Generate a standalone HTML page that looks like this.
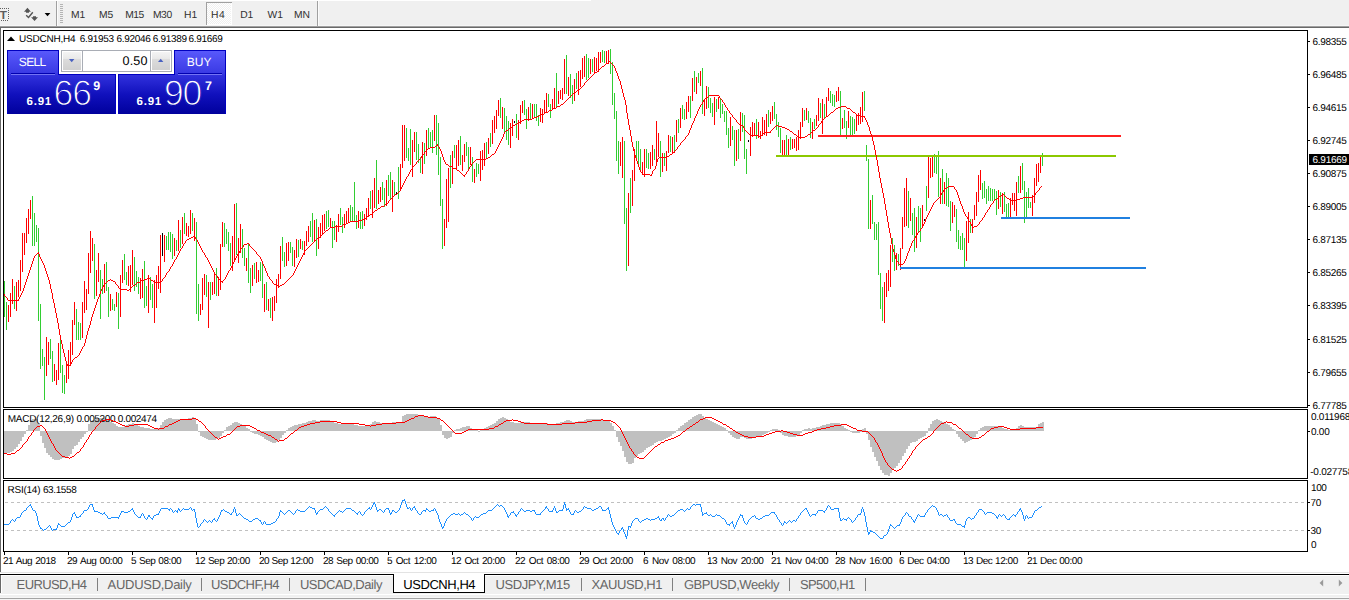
<!DOCTYPE html>
<html lang="en"><head><meta charset="utf-8"><title>USDCNH,H4</title>
<style>
html,body{margin:0;padding:0}
body{width:1349px;height:600px;overflow:hidden;background:#f0f0f0;position:relative;font-family:"Liberation Sans", sans-serif;color:#000}
.abs{position:absolute}
.t{position:absolute;white-space:nowrap;text-rendering:geometricPrecision}

</style></head><body>
<div class="abs" style="left:0;top:0;width:591px;height:1px;background:#fff"></div>
<div class="abs" style="left:0;top:25px;width:1349px;height:1px;background:#f6f6f6"></div>
<div class="abs" style="left:0;top:26px;width:1349px;height:1px;background:#a0a0a0"></div>
<div class="abs" style="left:0;top:27px;width:1349px;height:1px;background:#696969"></div>
<div class="abs" style="left:0;top:28px;width:1349px;height:544px;background:#fff"></div>
<div class="abs" style="left:0;top:27px;width:1px;height:545px;background:#696969"></div>
<div class="abs" style="left:0;top:572px;width:1349px;height:1px;background:#e3e3e3"></div>
<div class="abs" style="left:0;top:573px;width:1349px;height:1px;background:#ffffff"></div>
<div class="abs" style="left:0;top:574px;width:1349px;height:1px;background:#000"></div>
<div class="abs" style="left:0;top:575px;width:1349px;height:1px;background:#fff"></div>
<div class="abs" style="left:0;top:594px;width:1349px;height:1px;background:#ffffff"></div>
<div class="abs" style="left:0;top:597px;width:1349px;height:1px;background:#f6f6f6"></div>
<div class="abs" style="left:0;top:598px;width:1349px;height:1px;background:#a4a4a4"></div>
<div class="abs" style="left:0;top:599px;width:1349px;height:1px;background:#f4f4f4"></div>
<svg class="abs" style="left:0;top:0" width="330" height="26" viewBox="0 0 330 26">
<g shape-rendering="crispEdges" fill="#606060">
<rect x="0" y="8" width="1" height="1"/>
<rect x="2" y="8" width="1" height="1"/>
<rect x="4" y="8" width="1" height="1"/>
<rect x="6" y="8" width="1" height="1"/>
<rect x="8" y="8" width="1" height="1"/>
<rect x="8" y="10" width="1" height="1"/>
<rect x="8" y="12" width="1" height="1"/>
<rect x="8" y="14" width="1" height="1"/>
<rect x="8" y="16" width="1" height="1"/>
<rect x="8" y="18" width="1" height="1"/>
<rect x="1" y="20" width="1" height="1"/>
<rect x="3" y="20" width="1" height="1"/>
<rect x="5" y="20" width="1" height="1"/>
<rect x="7" y="20" width="1" height="1"/>
</g>
<text x="-0.3" y="18.7" font-family='"Liberation Sans", sans-serif' font-size="10.6" font-weight="bold" fill="#5c5c5c" textLength="7.2" lengthAdjust="spacingAndGlyphs">T</text>
<g fill="#555" stroke="none">
<path d="M24 11.8 L27.45 7.8 L30.9 11.8 L29 11.8 L29 12.8 L26 12.8 L26 11.8 Z"/>
<path d="M31.1 17.2 L33 17.2 L33 16.2 L36 16.2 L36 17.2 L38 17.2 L34.55 21 Z"/>
</g>
<path d="M26.2 15.2 L28.5 17.4 L32.8 12.2" fill="none" stroke="#555" stroke-width="1.4"/>
<path d="M44.6 13 L50.4 13 L47.5 16.2 Z" fill="#000"/>
<g shape-rendering="crispEdges">
<rect x="56" y="1" width="1" height="25" fill="#a0a0a0"/><rect x="57" y="1" width="1" height="25" fill="#fcfcfc"/>
<rect x="60" y="4" width="3" height="1" fill="#b4b4b4"/>
<rect x="60" y="6" width="3" height="1" fill="#b4b4b4"/>
<rect x="60" y="8" width="3" height="1" fill="#b4b4b4"/>
<rect x="60" y="10" width="3" height="1" fill="#b4b4b4"/>
<rect x="60" y="12" width="3" height="1" fill="#b4b4b4"/>
<rect x="60" y="14" width="3" height="1" fill="#b4b4b4"/>
<rect x="60" y="16" width="3" height="1" fill="#b4b4b4"/>
<rect x="60" y="18" width="3" height="1" fill="#b4b4b4"/>
<rect x="60" y="20" width="3" height="1" fill="#b4b4b4"/>
<rect x="60" y="22" width="3" height="1" fill="#b4b4b4"/>
<rect x="317" y="1" width="1" height="25" fill="#a0a0a0"/><rect x="318" y="1" width="1" height="25" fill="#fcfcfc"/>
<defs><pattern id="chk" width="2" height="2" patternUnits="userSpaceOnUse"><rect width="2" height="2" fill="#f0f0f0"/><rect width="1" height="1" fill="#fff"/><rect x="1" y="1" width="1" height="1" fill="#fff"/></pattern></defs>
<rect x="207" y="3" width="24" height="21" fill="url(#chk)"/>
<rect x="206" y="2" width="26" height="1" fill="#a0a0a0"/><rect x="206" y="2" width="1" height="23" fill="#a0a0a0"/>
<rect x="207" y="24" width="25" height="1" fill="#ffffff"/><rect x="231" y="3" width="1" height="22" fill="#ffffff"/>
</g></svg>
<div class="t" style="left:70.99px;top:10.32px;font-size:10.3px;letter-spacing:0.018px;word-spacing:0.000px;color:#303030;font-weight:normal;line-height:12px;">M1</div>
<div class="t" style="left:98.99px;top:10.32px;font-size:10.3px;letter-spacing:0.018px;word-spacing:0.000px;color:#303030;font-weight:normal;line-height:12px;">M5</div>
<div class="t" style="left:125.19px;top:10.32px;font-size:10.3px;letter-spacing:-0.517px;word-spacing:0.000px;color:#303030;font-weight:normal;line-height:12px;">M15</div>
<div class="t" style="left:152.99px;top:10.32px;font-size:10.3px;letter-spacing:-0.437px;word-spacing:0.000px;color:#303030;font-weight:normal;line-height:12px;">M30</div>
<div class="t" style="left:183.99px;top:10.32px;font-size:10.3px;letter-spacing:0.111px;word-spacing:0.000px;color:#303030;font-weight:normal;line-height:12px;">H1</div>
<div class="t" style="left:210.99px;top:10.32px;font-size:10.3px;letter-spacing:0.511px;word-spacing:0.000px;color:#303030;font-weight:normal;line-height:12px;">H4</div>
<div class="t" style="left:240.19px;top:10.32px;font-size:10.3px;letter-spacing:-0.022px;word-spacing:0.000px;color:#303030;font-weight:normal;line-height:12px;">D1</div>
<div class="t" style="left:267.59px;top:10.32px;font-size:10.3px;letter-spacing:-0.076px;word-spacing:0.000px;color:#303030;font-weight:normal;line-height:12px;">W1</div>
<div class="t" style="left:293.99px;top:10.32px;font-size:10.3px;letter-spacing:-0.051px;word-spacing:0.000px;color:#303030;font-weight:normal;line-height:12px;">MN</div>
<svg class="abs" style="left:0;top:0" width="1349" height="600" viewBox="0 0 1349 600">
<g shape-rendering="crispEdges">
<rect x="3" y="30" width="1305" height="1" fill="#000"/>
<rect x="3" y="407" width="1305" height="1" fill="#000"/>
<rect x="3" y="30" width="1" height="378" fill="#000"/>
<rect x="1307" y="30" width="1" height="378" fill="#000"/>
<rect x="3" y="409" width="1305" height="1" fill="#000"/>
<rect x="3" y="478" width="1305" height="1" fill="#000"/>
<rect x="3" y="409" width="1" height="70" fill="#000"/>
<rect x="1307" y="409" width="1" height="70" fill="#000"/>
<rect x="3" y="480" width="1305" height="1" fill="#000"/>
<rect x="3" y="551" width="1305" height="1" fill="#000"/>
<rect x="3" y="480" width="1" height="72" fill="#000"/>
<rect x="1307" y="480" width="1" height="72" fill="#000"/>
<rect x="1308" y="41" width="2" height="1" fill="#000"/>
<rect x="1308" y="74" width="2" height="1" fill="#000"/>
<rect x="1308" y="107" width="2" height="1" fill="#000"/>
<rect x="1308" y="140" width="2" height="1" fill="#000"/>
<rect x="1308" y="173" width="2" height="1" fill="#000"/>
<rect x="1308" y="206" width="2" height="1" fill="#000"/>
<rect x="1308" y="239" width="2" height="1" fill="#000"/>
<rect x="1308" y="272" width="2" height="1" fill="#000"/>
<rect x="1308" y="305" width="2" height="1" fill="#000"/>
<rect x="1308" y="339" width="2" height="1" fill="#000"/>
<rect x="1308" y="372" width="2" height="1" fill="#000"/>
<rect x="1308" y="405" width="2" height="1" fill="#000"/>
<rect x="1308" y="431" width="2" height="1" fill="#000"/>
<rect x="1308" y="502" width="2" height="1" fill="#000"/>
<rect x="1308" y="530" width="2" height="1" fill="#000"/>
<rect x="4" y="552" width="1" height="3" fill="#000"/>
<rect x="68" y="552" width="1" height="3" fill="#000"/>
<rect x="132" y="552" width="1" height="3" fill="#000"/>
<rect x="196" y="552" width="1" height="3" fill="#000"/>
<rect x="260" y="552" width="1" height="3" fill="#000"/>
<rect x="324" y="552" width="1" height="3" fill="#000"/>
<rect x="388" y="552" width="1" height="3" fill="#000"/>
<rect x="452" y="552" width="1" height="3" fill="#000"/>
<rect x="516" y="552" width="1" height="3" fill="#000"/>
<rect x="580" y="552" width="1" height="3" fill="#000"/>
<rect x="644" y="552" width="1" height="3" fill="#000"/>
<rect x="708" y="552" width="1" height="3" fill="#000"/>
<rect x="772" y="552" width="1" height="3" fill="#000"/>
<rect x="836" y="552" width="1" height="3" fill="#000"/>
<rect x="900" y="552" width="1" height="3" fill="#000"/>
<rect x="964" y="552" width="1" height="3" fill="#000"/>
<rect x="1028" y="552" width="1" height="3" fill="#000"/>
<rect x="5" y="502" width="3" height="1" fill="#c0c0c0"/>
<rect x="11" y="502" width="3" height="1" fill="#c0c0c0"/>
<rect x="17" y="502" width="3" height="1" fill="#c0c0c0"/>
<rect x="23" y="502" width="3" height="1" fill="#c0c0c0"/>
<rect x="29" y="502" width="3" height="1" fill="#c0c0c0"/>
<rect x="35" y="502" width="3" height="1" fill="#c0c0c0"/>
<rect x="41" y="502" width="3" height="1" fill="#c0c0c0"/>
<rect x="47" y="502" width="3" height="1" fill="#c0c0c0"/>
<rect x="53" y="502" width="3" height="1" fill="#c0c0c0"/>
<rect x="59" y="502" width="3" height="1" fill="#c0c0c0"/>
<rect x="65" y="502" width="3" height="1" fill="#c0c0c0"/>
<rect x="71" y="502" width="3" height="1" fill="#c0c0c0"/>
<rect x="77" y="502" width="3" height="1" fill="#c0c0c0"/>
<rect x="83" y="502" width="3" height="1" fill="#c0c0c0"/>
<rect x="89" y="502" width="3" height="1" fill="#c0c0c0"/>
<rect x="95" y="502" width="3" height="1" fill="#c0c0c0"/>
<rect x="101" y="502" width="3" height="1" fill="#c0c0c0"/>
<rect x="107" y="502" width="3" height="1" fill="#c0c0c0"/>
<rect x="113" y="502" width="3" height="1" fill="#c0c0c0"/>
<rect x="119" y="502" width="3" height="1" fill="#c0c0c0"/>
<rect x="125" y="502" width="3" height="1" fill="#c0c0c0"/>
<rect x="131" y="502" width="3" height="1" fill="#c0c0c0"/>
<rect x="137" y="502" width="3" height="1" fill="#c0c0c0"/>
<rect x="143" y="502" width="3" height="1" fill="#c0c0c0"/>
<rect x="149" y="502" width="3" height="1" fill="#c0c0c0"/>
<rect x="155" y="502" width="3" height="1" fill="#c0c0c0"/>
<rect x="161" y="502" width="3" height="1" fill="#c0c0c0"/>
<rect x="167" y="502" width="3" height="1" fill="#c0c0c0"/>
<rect x="173" y="502" width="3" height="1" fill="#c0c0c0"/>
<rect x="179" y="502" width="3" height="1" fill="#c0c0c0"/>
<rect x="185" y="502" width="3" height="1" fill="#c0c0c0"/>
<rect x="191" y="502" width="3" height="1" fill="#c0c0c0"/>
<rect x="197" y="502" width="3" height="1" fill="#c0c0c0"/>
<rect x="203" y="502" width="3" height="1" fill="#c0c0c0"/>
<rect x="209" y="502" width="3" height="1" fill="#c0c0c0"/>
<rect x="215" y="502" width="3" height="1" fill="#c0c0c0"/>
<rect x="221" y="502" width="3" height="1" fill="#c0c0c0"/>
<rect x="227" y="502" width="3" height="1" fill="#c0c0c0"/>
<rect x="233" y="502" width="3" height="1" fill="#c0c0c0"/>
<rect x="239" y="502" width="3" height="1" fill="#c0c0c0"/>
<rect x="245" y="502" width="3" height="1" fill="#c0c0c0"/>
<rect x="251" y="502" width="3" height="1" fill="#c0c0c0"/>
<rect x="257" y="502" width="3" height="1" fill="#c0c0c0"/>
<rect x="263" y="502" width="3" height="1" fill="#c0c0c0"/>
<rect x="269" y="502" width="3" height="1" fill="#c0c0c0"/>
<rect x="275" y="502" width="3" height="1" fill="#c0c0c0"/>
<rect x="281" y="502" width="3" height="1" fill="#c0c0c0"/>
<rect x="287" y="502" width="3" height="1" fill="#c0c0c0"/>
<rect x="293" y="502" width="3" height="1" fill="#c0c0c0"/>
<rect x="299" y="502" width="3" height="1" fill="#c0c0c0"/>
<rect x="305" y="502" width="3" height="1" fill="#c0c0c0"/>
<rect x="311" y="502" width="3" height="1" fill="#c0c0c0"/>
<rect x="317" y="502" width="3" height="1" fill="#c0c0c0"/>
<rect x="323" y="502" width="3" height="1" fill="#c0c0c0"/>
<rect x="329" y="502" width="3" height="1" fill="#c0c0c0"/>
<rect x="335" y="502" width="3" height="1" fill="#c0c0c0"/>
<rect x="341" y="502" width="3" height="1" fill="#c0c0c0"/>
<rect x="347" y="502" width="3" height="1" fill="#c0c0c0"/>
<rect x="353" y="502" width="3" height="1" fill="#c0c0c0"/>
<rect x="359" y="502" width="3" height="1" fill="#c0c0c0"/>
<rect x="365" y="502" width="3" height="1" fill="#c0c0c0"/>
<rect x="371" y="502" width="3" height="1" fill="#c0c0c0"/>
<rect x="377" y="502" width="3" height="1" fill="#c0c0c0"/>
<rect x="383" y="502" width="3" height="1" fill="#c0c0c0"/>
<rect x="389" y="502" width="3" height="1" fill="#c0c0c0"/>
<rect x="395" y="502" width="3" height="1" fill="#c0c0c0"/>
<rect x="401" y="502" width="3" height="1" fill="#c0c0c0"/>
<rect x="407" y="502" width="3" height="1" fill="#c0c0c0"/>
<rect x="413" y="502" width="3" height="1" fill="#c0c0c0"/>
<rect x="419" y="502" width="3" height="1" fill="#c0c0c0"/>
<rect x="425" y="502" width="3" height="1" fill="#c0c0c0"/>
<rect x="431" y="502" width="3" height="1" fill="#c0c0c0"/>
<rect x="437" y="502" width="3" height="1" fill="#c0c0c0"/>
<rect x="443" y="502" width="3" height="1" fill="#c0c0c0"/>
<rect x="449" y="502" width="3" height="1" fill="#c0c0c0"/>
<rect x="455" y="502" width="3" height="1" fill="#c0c0c0"/>
<rect x="461" y="502" width="3" height="1" fill="#c0c0c0"/>
<rect x="467" y="502" width="3" height="1" fill="#c0c0c0"/>
<rect x="473" y="502" width="3" height="1" fill="#c0c0c0"/>
<rect x="479" y="502" width="3" height="1" fill="#c0c0c0"/>
<rect x="485" y="502" width="3" height="1" fill="#c0c0c0"/>
<rect x="491" y="502" width="3" height="1" fill="#c0c0c0"/>
<rect x="497" y="502" width="3" height="1" fill="#c0c0c0"/>
<rect x="503" y="502" width="3" height="1" fill="#c0c0c0"/>
<rect x="509" y="502" width="3" height="1" fill="#c0c0c0"/>
<rect x="515" y="502" width="3" height="1" fill="#c0c0c0"/>
<rect x="521" y="502" width="3" height="1" fill="#c0c0c0"/>
<rect x="527" y="502" width="3" height="1" fill="#c0c0c0"/>
<rect x="533" y="502" width="3" height="1" fill="#c0c0c0"/>
<rect x="539" y="502" width="3" height="1" fill="#c0c0c0"/>
<rect x="545" y="502" width="3" height="1" fill="#c0c0c0"/>
<rect x="551" y="502" width="3" height="1" fill="#c0c0c0"/>
<rect x="557" y="502" width="3" height="1" fill="#c0c0c0"/>
<rect x="563" y="502" width="3" height="1" fill="#c0c0c0"/>
<rect x="569" y="502" width="3" height="1" fill="#c0c0c0"/>
<rect x="575" y="502" width="3" height="1" fill="#c0c0c0"/>
<rect x="581" y="502" width="3" height="1" fill="#c0c0c0"/>
<rect x="587" y="502" width="3" height="1" fill="#c0c0c0"/>
<rect x="593" y="502" width="3" height="1" fill="#c0c0c0"/>
<rect x="599" y="502" width="3" height="1" fill="#c0c0c0"/>
<rect x="605" y="502" width="3" height="1" fill="#c0c0c0"/>
<rect x="611" y="502" width="3" height="1" fill="#c0c0c0"/>
<rect x="617" y="502" width="3" height="1" fill="#c0c0c0"/>
<rect x="623" y="502" width="3" height="1" fill="#c0c0c0"/>
<rect x="629" y="502" width="3" height="1" fill="#c0c0c0"/>
<rect x="635" y="502" width="3" height="1" fill="#c0c0c0"/>
<rect x="641" y="502" width="3" height="1" fill="#c0c0c0"/>
<rect x="647" y="502" width="3" height="1" fill="#c0c0c0"/>
<rect x="653" y="502" width="3" height="1" fill="#c0c0c0"/>
<rect x="659" y="502" width="3" height="1" fill="#c0c0c0"/>
<rect x="665" y="502" width="3" height="1" fill="#c0c0c0"/>
<rect x="671" y="502" width="3" height="1" fill="#c0c0c0"/>
<rect x="677" y="502" width="3" height="1" fill="#c0c0c0"/>
<rect x="683" y="502" width="3" height="1" fill="#c0c0c0"/>
<rect x="689" y="502" width="3" height="1" fill="#c0c0c0"/>
<rect x="695" y="502" width="3" height="1" fill="#c0c0c0"/>
<rect x="701" y="502" width="3" height="1" fill="#c0c0c0"/>
<rect x="707" y="502" width="3" height="1" fill="#c0c0c0"/>
<rect x="713" y="502" width="3" height="1" fill="#c0c0c0"/>
<rect x="719" y="502" width="3" height="1" fill="#c0c0c0"/>
<rect x="725" y="502" width="3" height="1" fill="#c0c0c0"/>
<rect x="731" y="502" width="3" height="1" fill="#c0c0c0"/>
<rect x="737" y="502" width="3" height="1" fill="#c0c0c0"/>
<rect x="743" y="502" width="3" height="1" fill="#c0c0c0"/>
<rect x="749" y="502" width="3" height="1" fill="#c0c0c0"/>
<rect x="755" y="502" width="3" height="1" fill="#c0c0c0"/>
<rect x="761" y="502" width="3" height="1" fill="#c0c0c0"/>
<rect x="767" y="502" width="3" height="1" fill="#c0c0c0"/>
<rect x="773" y="502" width="3" height="1" fill="#c0c0c0"/>
<rect x="779" y="502" width="3" height="1" fill="#c0c0c0"/>
<rect x="785" y="502" width="3" height="1" fill="#c0c0c0"/>
<rect x="791" y="502" width="3" height="1" fill="#c0c0c0"/>
<rect x="797" y="502" width="3" height="1" fill="#c0c0c0"/>
<rect x="803" y="502" width="3" height="1" fill="#c0c0c0"/>
<rect x="809" y="502" width="3" height="1" fill="#c0c0c0"/>
<rect x="815" y="502" width="3" height="1" fill="#c0c0c0"/>
<rect x="821" y="502" width="3" height="1" fill="#c0c0c0"/>
<rect x="827" y="502" width="3" height="1" fill="#c0c0c0"/>
<rect x="833" y="502" width="3" height="1" fill="#c0c0c0"/>
<rect x="839" y="502" width="3" height="1" fill="#c0c0c0"/>
<rect x="845" y="502" width="3" height="1" fill="#c0c0c0"/>
<rect x="851" y="502" width="3" height="1" fill="#c0c0c0"/>
<rect x="857" y="502" width="3" height="1" fill="#c0c0c0"/>
<rect x="863" y="502" width="3" height="1" fill="#c0c0c0"/>
<rect x="869" y="502" width="3" height="1" fill="#c0c0c0"/>
<rect x="875" y="502" width="3" height="1" fill="#c0c0c0"/>
<rect x="881" y="502" width="3" height="1" fill="#c0c0c0"/>
<rect x="887" y="502" width="3" height="1" fill="#c0c0c0"/>
<rect x="893" y="502" width="3" height="1" fill="#c0c0c0"/>
<rect x="899" y="502" width="3" height="1" fill="#c0c0c0"/>
<rect x="905" y="502" width="3" height="1" fill="#c0c0c0"/>
<rect x="911" y="502" width="3" height="1" fill="#c0c0c0"/>
<rect x="917" y="502" width="3" height="1" fill="#c0c0c0"/>
<rect x="923" y="502" width="3" height="1" fill="#c0c0c0"/>
<rect x="929" y="502" width="3" height="1" fill="#c0c0c0"/>
<rect x="935" y="502" width="3" height="1" fill="#c0c0c0"/>
<rect x="941" y="502" width="3" height="1" fill="#c0c0c0"/>
<rect x="947" y="502" width="3" height="1" fill="#c0c0c0"/>
<rect x="953" y="502" width="3" height="1" fill="#c0c0c0"/>
<rect x="959" y="502" width="3" height="1" fill="#c0c0c0"/>
<rect x="965" y="502" width="3" height="1" fill="#c0c0c0"/>
<rect x="971" y="502" width="3" height="1" fill="#c0c0c0"/>
<rect x="977" y="502" width="3" height="1" fill="#c0c0c0"/>
<rect x="983" y="502" width="3" height="1" fill="#c0c0c0"/>
<rect x="989" y="502" width="3" height="1" fill="#c0c0c0"/>
<rect x="995" y="502" width="3" height="1" fill="#c0c0c0"/>
<rect x="1001" y="502" width="3" height="1" fill="#c0c0c0"/>
<rect x="1007" y="502" width="3" height="1" fill="#c0c0c0"/>
<rect x="1013" y="502" width="3" height="1" fill="#c0c0c0"/>
<rect x="1019" y="502" width="3" height="1" fill="#c0c0c0"/>
<rect x="1025" y="502" width="3" height="1" fill="#c0c0c0"/>
<rect x="1031" y="502" width="3" height="1" fill="#c0c0c0"/>
<rect x="1037" y="502" width="3" height="1" fill="#c0c0c0"/>
<rect x="1043" y="502" width="3" height="1" fill="#c0c0c0"/>
<rect x="1049" y="502" width="3" height="1" fill="#c0c0c0"/>
<rect x="1055" y="502" width="3" height="1" fill="#c0c0c0"/>
<rect x="1061" y="502" width="3" height="1" fill="#c0c0c0"/>
<rect x="1067" y="502" width="3" height="1" fill="#c0c0c0"/>
<rect x="1073" y="502" width="3" height="1" fill="#c0c0c0"/>
<rect x="1079" y="502" width="3" height="1" fill="#c0c0c0"/>
<rect x="1085" y="502" width="3" height="1" fill="#c0c0c0"/>
<rect x="1091" y="502" width="3" height="1" fill="#c0c0c0"/>
<rect x="1097" y="502" width="3" height="1" fill="#c0c0c0"/>
<rect x="1103" y="502" width="3" height="1" fill="#c0c0c0"/>
<rect x="1109" y="502" width="3" height="1" fill="#c0c0c0"/>
<rect x="1115" y="502" width="3" height="1" fill="#c0c0c0"/>
<rect x="1121" y="502" width="3" height="1" fill="#c0c0c0"/>
<rect x="1127" y="502" width="3" height="1" fill="#c0c0c0"/>
<rect x="1133" y="502" width="3" height="1" fill="#c0c0c0"/>
<rect x="1139" y="502" width="3" height="1" fill="#c0c0c0"/>
<rect x="1145" y="502" width="3" height="1" fill="#c0c0c0"/>
<rect x="1151" y="502" width="3" height="1" fill="#c0c0c0"/>
<rect x="1157" y="502" width="3" height="1" fill="#c0c0c0"/>
<rect x="1163" y="502" width="3" height="1" fill="#c0c0c0"/>
<rect x="1169" y="502" width="3" height="1" fill="#c0c0c0"/>
<rect x="1175" y="502" width="3" height="1" fill="#c0c0c0"/>
<rect x="1181" y="502" width="3" height="1" fill="#c0c0c0"/>
<rect x="1187" y="502" width="3" height="1" fill="#c0c0c0"/>
<rect x="1193" y="502" width="3" height="1" fill="#c0c0c0"/>
<rect x="1199" y="502" width="3" height="1" fill="#c0c0c0"/>
<rect x="1205" y="502" width="3" height="1" fill="#c0c0c0"/>
<rect x="1211" y="502" width="3" height="1" fill="#c0c0c0"/>
<rect x="1217" y="502" width="3" height="1" fill="#c0c0c0"/>
<rect x="1223" y="502" width="3" height="1" fill="#c0c0c0"/>
<rect x="1229" y="502" width="3" height="1" fill="#c0c0c0"/>
<rect x="1235" y="502" width="3" height="1" fill="#c0c0c0"/>
<rect x="1241" y="502" width="3" height="1" fill="#c0c0c0"/>
<rect x="1247" y="502" width="3" height="1" fill="#c0c0c0"/>
<rect x="1253" y="502" width="3" height="1" fill="#c0c0c0"/>
<rect x="1259" y="502" width="3" height="1" fill="#c0c0c0"/>
<rect x="1265" y="502" width="3" height="1" fill="#c0c0c0"/>
<rect x="1271" y="502" width="3" height="1" fill="#c0c0c0"/>
<rect x="1277" y="502" width="3" height="1" fill="#c0c0c0"/>
<rect x="1283" y="502" width="3" height="1" fill="#c0c0c0"/>
<rect x="1289" y="502" width="3" height="1" fill="#c0c0c0"/>
<rect x="1295" y="502" width="3" height="1" fill="#c0c0c0"/>
<rect x="1301" y="502" width="3" height="1" fill="#c0c0c0"/>
<rect x="5" y="530" width="3" height="1" fill="#c0c0c0"/>
<rect x="11" y="530" width="3" height="1" fill="#c0c0c0"/>
<rect x="17" y="530" width="3" height="1" fill="#c0c0c0"/>
<rect x="23" y="530" width="3" height="1" fill="#c0c0c0"/>
<rect x="29" y="530" width="3" height="1" fill="#c0c0c0"/>
<rect x="35" y="530" width="3" height="1" fill="#c0c0c0"/>
<rect x="41" y="530" width="3" height="1" fill="#c0c0c0"/>
<rect x="47" y="530" width="3" height="1" fill="#c0c0c0"/>
<rect x="53" y="530" width="3" height="1" fill="#c0c0c0"/>
<rect x="59" y="530" width="3" height="1" fill="#c0c0c0"/>
<rect x="65" y="530" width="3" height="1" fill="#c0c0c0"/>
<rect x="71" y="530" width="3" height="1" fill="#c0c0c0"/>
<rect x="77" y="530" width="3" height="1" fill="#c0c0c0"/>
<rect x="83" y="530" width="3" height="1" fill="#c0c0c0"/>
<rect x="89" y="530" width="3" height="1" fill="#c0c0c0"/>
<rect x="95" y="530" width="3" height="1" fill="#c0c0c0"/>
<rect x="101" y="530" width="3" height="1" fill="#c0c0c0"/>
<rect x="107" y="530" width="3" height="1" fill="#c0c0c0"/>
<rect x="113" y="530" width="3" height="1" fill="#c0c0c0"/>
<rect x="119" y="530" width="3" height="1" fill="#c0c0c0"/>
<rect x="125" y="530" width="3" height="1" fill="#c0c0c0"/>
<rect x="131" y="530" width="3" height="1" fill="#c0c0c0"/>
<rect x="137" y="530" width="3" height="1" fill="#c0c0c0"/>
<rect x="143" y="530" width="3" height="1" fill="#c0c0c0"/>
<rect x="149" y="530" width="3" height="1" fill="#c0c0c0"/>
<rect x="155" y="530" width="3" height="1" fill="#c0c0c0"/>
<rect x="161" y="530" width="3" height="1" fill="#c0c0c0"/>
<rect x="167" y="530" width="3" height="1" fill="#c0c0c0"/>
<rect x="173" y="530" width="3" height="1" fill="#c0c0c0"/>
<rect x="179" y="530" width="3" height="1" fill="#c0c0c0"/>
<rect x="185" y="530" width="3" height="1" fill="#c0c0c0"/>
<rect x="191" y="530" width="3" height="1" fill="#c0c0c0"/>
<rect x="197" y="530" width="3" height="1" fill="#c0c0c0"/>
<rect x="203" y="530" width="3" height="1" fill="#c0c0c0"/>
<rect x="209" y="530" width="3" height="1" fill="#c0c0c0"/>
<rect x="215" y="530" width="3" height="1" fill="#c0c0c0"/>
<rect x="221" y="530" width="3" height="1" fill="#c0c0c0"/>
<rect x="227" y="530" width="3" height="1" fill="#c0c0c0"/>
<rect x="233" y="530" width="3" height="1" fill="#c0c0c0"/>
<rect x="239" y="530" width="3" height="1" fill="#c0c0c0"/>
<rect x="245" y="530" width="3" height="1" fill="#c0c0c0"/>
<rect x="251" y="530" width="3" height="1" fill="#c0c0c0"/>
<rect x="257" y="530" width="3" height="1" fill="#c0c0c0"/>
<rect x="263" y="530" width="3" height="1" fill="#c0c0c0"/>
<rect x="269" y="530" width="3" height="1" fill="#c0c0c0"/>
<rect x="275" y="530" width="3" height="1" fill="#c0c0c0"/>
<rect x="281" y="530" width="3" height="1" fill="#c0c0c0"/>
<rect x="287" y="530" width="3" height="1" fill="#c0c0c0"/>
<rect x="293" y="530" width="3" height="1" fill="#c0c0c0"/>
<rect x="299" y="530" width="3" height="1" fill="#c0c0c0"/>
<rect x="305" y="530" width="3" height="1" fill="#c0c0c0"/>
<rect x="311" y="530" width="3" height="1" fill="#c0c0c0"/>
<rect x="317" y="530" width="3" height="1" fill="#c0c0c0"/>
<rect x="323" y="530" width="3" height="1" fill="#c0c0c0"/>
<rect x="329" y="530" width="3" height="1" fill="#c0c0c0"/>
<rect x="335" y="530" width="3" height="1" fill="#c0c0c0"/>
<rect x="341" y="530" width="3" height="1" fill="#c0c0c0"/>
<rect x="347" y="530" width="3" height="1" fill="#c0c0c0"/>
<rect x="353" y="530" width="3" height="1" fill="#c0c0c0"/>
<rect x="359" y="530" width="3" height="1" fill="#c0c0c0"/>
<rect x="365" y="530" width="3" height="1" fill="#c0c0c0"/>
<rect x="371" y="530" width="3" height="1" fill="#c0c0c0"/>
<rect x="377" y="530" width="3" height="1" fill="#c0c0c0"/>
<rect x="383" y="530" width="3" height="1" fill="#c0c0c0"/>
<rect x="389" y="530" width="3" height="1" fill="#c0c0c0"/>
<rect x="395" y="530" width="3" height="1" fill="#c0c0c0"/>
<rect x="401" y="530" width="3" height="1" fill="#c0c0c0"/>
<rect x="407" y="530" width="3" height="1" fill="#c0c0c0"/>
<rect x="413" y="530" width="3" height="1" fill="#c0c0c0"/>
<rect x="419" y="530" width="3" height="1" fill="#c0c0c0"/>
<rect x="425" y="530" width="3" height="1" fill="#c0c0c0"/>
<rect x="431" y="530" width="3" height="1" fill="#c0c0c0"/>
<rect x="437" y="530" width="3" height="1" fill="#c0c0c0"/>
<rect x="443" y="530" width="3" height="1" fill="#c0c0c0"/>
<rect x="449" y="530" width="3" height="1" fill="#c0c0c0"/>
<rect x="455" y="530" width="3" height="1" fill="#c0c0c0"/>
<rect x="461" y="530" width="3" height="1" fill="#c0c0c0"/>
<rect x="467" y="530" width="3" height="1" fill="#c0c0c0"/>
<rect x="473" y="530" width="3" height="1" fill="#c0c0c0"/>
<rect x="479" y="530" width="3" height="1" fill="#c0c0c0"/>
<rect x="485" y="530" width="3" height="1" fill="#c0c0c0"/>
<rect x="491" y="530" width="3" height="1" fill="#c0c0c0"/>
<rect x="497" y="530" width="3" height="1" fill="#c0c0c0"/>
<rect x="503" y="530" width="3" height="1" fill="#c0c0c0"/>
<rect x="509" y="530" width="3" height="1" fill="#c0c0c0"/>
<rect x="515" y="530" width="3" height="1" fill="#c0c0c0"/>
<rect x="521" y="530" width="3" height="1" fill="#c0c0c0"/>
<rect x="527" y="530" width="3" height="1" fill="#c0c0c0"/>
<rect x="533" y="530" width="3" height="1" fill="#c0c0c0"/>
<rect x="539" y="530" width="3" height="1" fill="#c0c0c0"/>
<rect x="545" y="530" width="3" height="1" fill="#c0c0c0"/>
<rect x="551" y="530" width="3" height="1" fill="#c0c0c0"/>
<rect x="557" y="530" width="3" height="1" fill="#c0c0c0"/>
<rect x="563" y="530" width="3" height="1" fill="#c0c0c0"/>
<rect x="569" y="530" width="3" height="1" fill="#c0c0c0"/>
<rect x="575" y="530" width="3" height="1" fill="#c0c0c0"/>
<rect x="581" y="530" width="3" height="1" fill="#c0c0c0"/>
<rect x="587" y="530" width="3" height="1" fill="#c0c0c0"/>
<rect x="593" y="530" width="3" height="1" fill="#c0c0c0"/>
<rect x="599" y="530" width="3" height="1" fill="#c0c0c0"/>
<rect x="605" y="530" width="3" height="1" fill="#c0c0c0"/>
<rect x="611" y="530" width="3" height="1" fill="#c0c0c0"/>
<rect x="617" y="530" width="3" height="1" fill="#c0c0c0"/>
<rect x="623" y="530" width="3" height="1" fill="#c0c0c0"/>
<rect x="629" y="530" width="3" height="1" fill="#c0c0c0"/>
<rect x="635" y="530" width="3" height="1" fill="#c0c0c0"/>
<rect x="641" y="530" width="3" height="1" fill="#c0c0c0"/>
<rect x="647" y="530" width="3" height="1" fill="#c0c0c0"/>
<rect x="653" y="530" width="3" height="1" fill="#c0c0c0"/>
<rect x="659" y="530" width="3" height="1" fill="#c0c0c0"/>
<rect x="665" y="530" width="3" height="1" fill="#c0c0c0"/>
<rect x="671" y="530" width="3" height="1" fill="#c0c0c0"/>
<rect x="677" y="530" width="3" height="1" fill="#c0c0c0"/>
<rect x="683" y="530" width="3" height="1" fill="#c0c0c0"/>
<rect x="689" y="530" width="3" height="1" fill="#c0c0c0"/>
<rect x="695" y="530" width="3" height="1" fill="#c0c0c0"/>
<rect x="701" y="530" width="3" height="1" fill="#c0c0c0"/>
<rect x="707" y="530" width="3" height="1" fill="#c0c0c0"/>
<rect x="713" y="530" width="3" height="1" fill="#c0c0c0"/>
<rect x="719" y="530" width="3" height="1" fill="#c0c0c0"/>
<rect x="725" y="530" width="3" height="1" fill="#c0c0c0"/>
<rect x="731" y="530" width="3" height="1" fill="#c0c0c0"/>
<rect x="737" y="530" width="3" height="1" fill="#c0c0c0"/>
<rect x="743" y="530" width="3" height="1" fill="#c0c0c0"/>
<rect x="749" y="530" width="3" height="1" fill="#c0c0c0"/>
<rect x="755" y="530" width="3" height="1" fill="#c0c0c0"/>
<rect x="761" y="530" width="3" height="1" fill="#c0c0c0"/>
<rect x="767" y="530" width="3" height="1" fill="#c0c0c0"/>
<rect x="773" y="530" width="3" height="1" fill="#c0c0c0"/>
<rect x="779" y="530" width="3" height="1" fill="#c0c0c0"/>
<rect x="785" y="530" width="3" height="1" fill="#c0c0c0"/>
<rect x="791" y="530" width="3" height="1" fill="#c0c0c0"/>
<rect x="797" y="530" width="3" height="1" fill="#c0c0c0"/>
<rect x="803" y="530" width="3" height="1" fill="#c0c0c0"/>
<rect x="809" y="530" width="3" height="1" fill="#c0c0c0"/>
<rect x="815" y="530" width="3" height="1" fill="#c0c0c0"/>
<rect x="821" y="530" width="3" height="1" fill="#c0c0c0"/>
<rect x="827" y="530" width="3" height="1" fill="#c0c0c0"/>
<rect x="833" y="530" width="3" height="1" fill="#c0c0c0"/>
<rect x="839" y="530" width="3" height="1" fill="#c0c0c0"/>
<rect x="845" y="530" width="3" height="1" fill="#c0c0c0"/>
<rect x="851" y="530" width="3" height="1" fill="#c0c0c0"/>
<rect x="857" y="530" width="3" height="1" fill="#c0c0c0"/>
<rect x="863" y="530" width="3" height="1" fill="#c0c0c0"/>
<rect x="869" y="530" width="3" height="1" fill="#c0c0c0"/>
<rect x="875" y="530" width="3" height="1" fill="#c0c0c0"/>
<rect x="881" y="530" width="3" height="1" fill="#c0c0c0"/>
<rect x="887" y="530" width="3" height="1" fill="#c0c0c0"/>
<rect x="893" y="530" width="3" height="1" fill="#c0c0c0"/>
<rect x="899" y="530" width="3" height="1" fill="#c0c0c0"/>
<rect x="905" y="530" width="3" height="1" fill="#c0c0c0"/>
<rect x="911" y="530" width="3" height="1" fill="#c0c0c0"/>
<rect x="917" y="530" width="3" height="1" fill="#c0c0c0"/>
<rect x="923" y="530" width="3" height="1" fill="#c0c0c0"/>
<rect x="929" y="530" width="3" height="1" fill="#c0c0c0"/>
<rect x="935" y="530" width="3" height="1" fill="#c0c0c0"/>
<rect x="941" y="530" width="3" height="1" fill="#c0c0c0"/>
<rect x="947" y="530" width="3" height="1" fill="#c0c0c0"/>
<rect x="953" y="530" width="3" height="1" fill="#c0c0c0"/>
<rect x="959" y="530" width="3" height="1" fill="#c0c0c0"/>
<rect x="965" y="530" width="3" height="1" fill="#c0c0c0"/>
<rect x="971" y="530" width="3" height="1" fill="#c0c0c0"/>
<rect x="977" y="530" width="3" height="1" fill="#c0c0c0"/>
<rect x="983" y="530" width="3" height="1" fill="#c0c0c0"/>
<rect x="989" y="530" width="3" height="1" fill="#c0c0c0"/>
<rect x="995" y="530" width="3" height="1" fill="#c0c0c0"/>
<rect x="1001" y="530" width="3" height="1" fill="#c0c0c0"/>
<rect x="1007" y="530" width="3" height="1" fill="#c0c0c0"/>
<rect x="1013" y="530" width="3" height="1" fill="#c0c0c0"/>
<rect x="1019" y="530" width="3" height="1" fill="#c0c0c0"/>
<rect x="1025" y="530" width="3" height="1" fill="#c0c0c0"/>
<rect x="1031" y="530" width="3" height="1" fill="#c0c0c0"/>
<rect x="1037" y="530" width="3" height="1" fill="#c0c0c0"/>
<rect x="1043" y="530" width="3" height="1" fill="#c0c0c0"/>
<rect x="1049" y="530" width="3" height="1" fill="#c0c0c0"/>
<rect x="1055" y="530" width="3" height="1" fill="#c0c0c0"/>
<rect x="1061" y="530" width="3" height="1" fill="#c0c0c0"/>
<rect x="1067" y="530" width="3" height="1" fill="#c0c0c0"/>
<rect x="1073" y="530" width="3" height="1" fill="#c0c0c0"/>
<rect x="1079" y="530" width="3" height="1" fill="#c0c0c0"/>
<rect x="1085" y="530" width="3" height="1" fill="#c0c0c0"/>
<rect x="1091" y="530" width="3" height="1" fill="#c0c0c0"/>
<rect x="1097" y="530" width="3" height="1" fill="#c0c0c0"/>
<rect x="1103" y="530" width="3" height="1" fill="#c0c0c0"/>
<rect x="1109" y="530" width="3" height="1" fill="#c0c0c0"/>
<rect x="1115" y="530" width="3" height="1" fill="#c0c0c0"/>
<rect x="1121" y="530" width="3" height="1" fill="#c0c0c0"/>
<rect x="1127" y="530" width="3" height="1" fill="#c0c0c0"/>
<rect x="1133" y="530" width="3" height="1" fill="#c0c0c0"/>
<rect x="1139" y="530" width="3" height="1" fill="#c0c0c0"/>
<rect x="1145" y="530" width="3" height="1" fill="#c0c0c0"/>
<rect x="1151" y="530" width="3" height="1" fill="#c0c0c0"/>
<rect x="1157" y="530" width="3" height="1" fill="#c0c0c0"/>
<rect x="1163" y="530" width="3" height="1" fill="#c0c0c0"/>
<rect x="1169" y="530" width="3" height="1" fill="#c0c0c0"/>
<rect x="1175" y="530" width="3" height="1" fill="#c0c0c0"/>
<rect x="1181" y="530" width="3" height="1" fill="#c0c0c0"/>
<rect x="1187" y="530" width="3" height="1" fill="#c0c0c0"/>
<rect x="1193" y="530" width="3" height="1" fill="#c0c0c0"/>
<rect x="1199" y="530" width="3" height="1" fill="#c0c0c0"/>
<rect x="1205" y="530" width="3" height="1" fill="#c0c0c0"/>
<rect x="1211" y="530" width="3" height="1" fill="#c0c0c0"/>
<rect x="1217" y="530" width="3" height="1" fill="#c0c0c0"/>
<rect x="1223" y="530" width="3" height="1" fill="#c0c0c0"/>
<rect x="1229" y="530" width="3" height="1" fill="#c0c0c0"/>
<rect x="1235" y="530" width="3" height="1" fill="#c0c0c0"/>
<rect x="1241" y="530" width="3" height="1" fill="#c0c0c0"/>
<rect x="1247" y="530" width="3" height="1" fill="#c0c0c0"/>
<rect x="1253" y="530" width="3" height="1" fill="#c0c0c0"/>
<rect x="1259" y="530" width="3" height="1" fill="#c0c0c0"/>
<rect x="1265" y="530" width="3" height="1" fill="#c0c0c0"/>
<rect x="1271" y="530" width="3" height="1" fill="#c0c0c0"/>
<rect x="1277" y="530" width="3" height="1" fill="#c0c0c0"/>
<rect x="1283" y="530" width="3" height="1" fill="#c0c0c0"/>
<rect x="1289" y="530" width="3" height="1" fill="#c0c0c0"/>
<rect x="1295" y="530" width="3" height="1" fill="#c0c0c0"/>
<rect x="1301" y="530" width="3" height="1" fill="#c0c0c0"/>
<rect x="4" y="431" width="2" height="23" fill="#c0c0c0"/>
<rect x="6" y="431" width="2" height="22" fill="#c0c0c0"/>
<rect x="8" y="431" width="2" height="22" fill="#c0c0c0"/>
<rect x="10" y="431" width="2" height="21" fill="#c0c0c0"/>
<rect x="12" y="431" width="2" height="20" fill="#c0c0c0"/>
<rect x="14" y="431" width="2" height="18" fill="#c0c0c0"/>
<rect x="16" y="431" width="2" height="16" fill="#c0c0c0"/>
<rect x="18" y="431" width="2" height="13" fill="#c0c0c0"/>
<rect x="20" y="431" width="2" height="10" fill="#c0c0c0"/>
<rect x="22" y="431" width="2" height="6" fill="#c0c0c0"/>
<rect x="24" y="431" width="2" height="3" fill="#c0c0c0"/>
<rect x="26" y="430" width="2" height="1" fill="#c0c0c0"/>
<rect x="28" y="425" width="2" height="6" fill="#c0c0c0"/>
<rect x="30" y="420" width="2" height="11" fill="#c0c0c0"/>
<rect x="32" y="419" width="2" height="12" fill="#c0c0c0"/>
<rect x="34" y="419" width="2" height="12" fill="#c0c0c0"/>
<rect x="36" y="419" width="2" height="12" fill="#c0c0c0"/>
<rect x="38" y="423" width="2" height="8" fill="#c0c0c0"/>
<rect x="40" y="431" width="2" height="5" fill="#c0c0c0"/>
<rect x="42" y="431" width="2" height="12" fill="#c0c0c0"/>
<rect x="44" y="431" width="2" height="17" fill="#c0c0c0"/>
<rect x="46" y="431" width="2" height="22" fill="#c0c0c0"/>
<rect x="48" y="431" width="2" height="24" fill="#c0c0c0"/>
<rect x="50" y="431" width="2" height="26" fill="#c0c0c0"/>
<rect x="52" y="431" width="2" height="28" fill="#c0c0c0"/>
<rect x="54" y="431" width="2" height="29" fill="#c0c0c0"/>
<rect x="56" y="431" width="2" height="29" fill="#c0c0c0"/>
<rect x="58" y="431" width="2" height="29" fill="#c0c0c0"/>
<rect x="60" y="431" width="2" height="28" fill="#c0c0c0"/>
<rect x="62" y="431" width="2" height="27" fill="#c0c0c0"/>
<rect x="64" y="431" width="2" height="27" fill="#c0c0c0"/>
<rect x="66" y="431" width="2" height="27" fill="#c0c0c0"/>
<rect x="68" y="431" width="2" height="25" fill="#c0c0c0"/>
<rect x="70" y="431" width="2" height="23" fill="#c0c0c0"/>
<rect x="72" y="431" width="2" height="18" fill="#c0c0c0"/>
<rect x="74" y="431" width="2" height="15" fill="#c0c0c0"/>
<rect x="76" y="431" width="2" height="14" fill="#c0c0c0"/>
<rect x="78" y="431" width="2" height="11" fill="#c0c0c0"/>
<rect x="80" y="431" width="2" height="8" fill="#c0c0c0"/>
<rect x="82" y="431" width="2" height="6" fill="#c0c0c0"/>
<rect x="84" y="431" width="2" height="3" fill="#c0c0c0"/>
<rect x="86" y="431" width="2" height="1" fill="#c0c0c0"/>
<rect x="88" y="424" width="2" height="7" fill="#c0c0c0"/>
<rect x="90" y="421" width="2" height="10" fill="#c0c0c0"/>
<rect x="92" y="420" width="2" height="11" fill="#c0c0c0"/>
<rect x="94" y="419" width="2" height="12" fill="#c0c0c0"/>
<rect x="96" y="419" width="2" height="12" fill="#c0c0c0"/>
<rect x="98" y="418" width="2" height="13" fill="#c0c0c0"/>
<rect x="100" y="418" width="2" height="13" fill="#c0c0c0"/>
<rect x="102" y="418" width="2" height="13" fill="#c0c0c0"/>
<rect x="104" y="418" width="2" height="13" fill="#c0c0c0"/>
<rect x="106" y="419" width="2" height="12" fill="#c0c0c0"/>
<rect x="108" y="420" width="2" height="11" fill="#c0c0c0"/>
<rect x="110" y="422" width="2" height="9" fill="#c0c0c0"/>
<rect x="112" y="423" width="2" height="8" fill="#c0c0c0"/>
<rect x="114" y="424" width="2" height="7" fill="#c0c0c0"/>
<rect x="116" y="426" width="2" height="5" fill="#c0c0c0"/>
<rect x="118" y="427" width="2" height="4" fill="#c0c0c0"/>
<rect x="120" y="427" width="2" height="4" fill="#c0c0c0"/>
<rect x="122" y="427" width="2" height="4" fill="#c0c0c0"/>
<rect x="124" y="426" width="2" height="5" fill="#c0c0c0"/>
<rect x="126" y="425" width="2" height="6" fill="#c0c0c0"/>
<rect x="128" y="424" width="2" height="7" fill="#c0c0c0"/>
<rect x="130" y="424" width="2" height="7" fill="#c0c0c0"/>
<rect x="132" y="423" width="2" height="8" fill="#c0c0c0"/>
<rect x="134" y="424" width="2" height="7" fill="#c0c0c0"/>
<rect x="136" y="425" width="2" height="6" fill="#c0c0c0"/>
<rect x="138" y="426" width="2" height="5" fill="#c0c0c0"/>
<rect x="140" y="427" width="2" height="4" fill="#c0c0c0"/>
<rect x="142" y="427" width="2" height="4" fill="#c0c0c0"/>
<rect x="144" y="428" width="2" height="3" fill="#c0c0c0"/>
<rect x="146" y="428" width="2" height="3" fill="#c0c0c0"/>
<rect x="148" y="428" width="2" height="3" fill="#c0c0c0"/>
<rect x="150" y="429" width="2" height="2" fill="#c0c0c0"/>
<rect x="152" y="429" width="2" height="2" fill="#c0c0c0"/>
<rect x="154" y="429" width="2" height="2" fill="#c0c0c0"/>
<rect x="156" y="428" width="2" height="3" fill="#c0c0c0"/>
<rect x="158" y="428" width="2" height="3" fill="#c0c0c0"/>
<rect x="160" y="425" width="2" height="6" fill="#c0c0c0"/>
<rect x="162" y="422" width="2" height="9" fill="#c0c0c0"/>
<rect x="164" y="420" width="2" height="11" fill="#c0c0c0"/>
<rect x="166" y="419" width="2" height="12" fill="#c0c0c0"/>
<rect x="168" y="418" width="2" height="13" fill="#c0c0c0"/>
<rect x="170" y="418" width="2" height="13" fill="#c0c0c0"/>
<rect x="172" y="419" width="2" height="12" fill="#c0c0c0"/>
<rect x="174" y="419" width="2" height="12" fill="#c0c0c0"/>
<rect x="176" y="419" width="2" height="12" fill="#c0c0c0"/>
<rect x="178" y="419" width="2" height="12" fill="#c0c0c0"/>
<rect x="180" y="419" width="2" height="12" fill="#c0c0c0"/>
<rect x="182" y="419" width="2" height="12" fill="#c0c0c0"/>
<rect x="184" y="419" width="2" height="12" fill="#c0c0c0"/>
<rect x="186" y="419" width="2" height="12" fill="#c0c0c0"/>
<rect x="188" y="418" width="2" height="13" fill="#c0c0c0"/>
<rect x="190" y="418" width="2" height="13" fill="#c0c0c0"/>
<rect x="192" y="417" width="2" height="14" fill="#c0c0c0"/>
<rect x="194" y="419" width="2" height="12" fill="#c0c0c0"/>
<rect x="196" y="424" width="2" height="7" fill="#c0c0c0"/>
<rect x="198" y="431" width="2" height="1" fill="#c0c0c0"/>
<rect x="200" y="431" width="2" height="5" fill="#c0c0c0"/>
<rect x="202" y="431" width="2" height="6" fill="#c0c0c0"/>
<rect x="204" y="431" width="2" height="7" fill="#c0c0c0"/>
<rect x="206" y="431" width="2" height="8" fill="#c0c0c0"/>
<rect x="208" y="431" width="2" height="9" fill="#c0c0c0"/>
<rect x="210" y="431" width="2" height="9" fill="#c0c0c0"/>
<rect x="212" y="431" width="2" height="9" fill="#c0c0c0"/>
<rect x="214" y="431" width="2" height="9" fill="#c0c0c0"/>
<rect x="216" y="431" width="2" height="8" fill="#c0c0c0"/>
<rect x="218" y="431" width="2" height="7" fill="#c0c0c0"/>
<rect x="220" y="431" width="2" height="5" fill="#c0c0c0"/>
<rect x="222" y="431" width="2" height="2" fill="#c0c0c0"/>
<rect x="224" y="430" width="2" height="1" fill="#c0c0c0"/>
<rect x="226" y="427" width="2" height="4" fill="#c0c0c0"/>
<rect x="228" y="426" width="2" height="5" fill="#c0c0c0"/>
<rect x="230" y="425" width="2" height="6" fill="#c0c0c0"/>
<rect x="232" y="423" width="2" height="8" fill="#c0c0c0"/>
<rect x="234" y="422" width="2" height="9" fill="#c0c0c0"/>
<rect x="236" y="422" width="2" height="9" fill="#c0c0c0"/>
<rect x="238" y="423" width="2" height="8" fill="#c0c0c0"/>
<rect x="240" y="424" width="2" height="7" fill="#c0c0c0"/>
<rect x="242" y="425" width="2" height="6" fill="#c0c0c0"/>
<rect x="244" y="426" width="2" height="5" fill="#c0c0c0"/>
<rect x="246" y="428" width="2" height="3" fill="#c0c0c0"/>
<rect x="248" y="429" width="2" height="2" fill="#c0c0c0"/>
<rect x="250" y="431" width="2" height="1" fill="#c0c0c0"/>
<rect x="252" y="431" width="2" height="2" fill="#c0c0c0"/>
<rect x="254" y="431" width="2" height="3" fill="#c0c0c0"/>
<rect x="256" y="431" width="2" height="3" fill="#c0c0c0"/>
<rect x="258" y="431" width="2" height="4" fill="#c0c0c0"/>
<rect x="260" y="431" width="2" height="5" fill="#c0c0c0"/>
<rect x="262" y="431" width="2" height="6" fill="#c0c0c0"/>
<rect x="264" y="431" width="2" height="8" fill="#c0c0c0"/>
<rect x="266" y="431" width="2" height="9" fill="#c0c0c0"/>
<rect x="268" y="431" width="2" height="10" fill="#c0c0c0"/>
<rect x="270" y="431" width="2" height="11" fill="#c0c0c0"/>
<rect x="272" y="431" width="2" height="12" fill="#c0c0c0"/>
<rect x="274" y="431" width="2" height="12" fill="#c0c0c0"/>
<rect x="276" y="431" width="2" height="11" fill="#c0c0c0"/>
<rect x="278" y="431" width="2" height="9" fill="#c0c0c0"/>
<rect x="280" y="431" width="2" height="7" fill="#c0c0c0"/>
<rect x="282" y="431" width="2" height="4" fill="#c0c0c0"/>
<rect x="284" y="431" width="2" height="2" fill="#c0c0c0"/>
<rect x="286" y="430" width="2" height="1" fill="#c0c0c0"/>
<rect x="288" y="428" width="2" height="3" fill="#c0c0c0"/>
<rect x="290" y="427" width="2" height="4" fill="#c0c0c0"/>
<rect x="292" y="426" width="2" height="5" fill="#c0c0c0"/>
<rect x="294" y="425" width="2" height="6" fill="#c0c0c0"/>
<rect x="296" y="425" width="2" height="6" fill="#c0c0c0"/>
<rect x="298" y="424" width="2" height="7" fill="#c0c0c0"/>
<rect x="300" y="424" width="2" height="7" fill="#c0c0c0"/>
<rect x="302" y="423" width="2" height="8" fill="#c0c0c0"/>
<rect x="304" y="423" width="2" height="8" fill="#c0c0c0"/>
<rect x="306" y="422" width="2" height="9" fill="#c0c0c0"/>
<rect x="308" y="421" width="2" height="10" fill="#c0c0c0"/>
<rect x="310" y="421" width="2" height="10" fill="#c0c0c0"/>
<rect x="312" y="420" width="2" height="11" fill="#c0c0c0"/>
<rect x="314" y="420" width="2" height="11" fill="#c0c0c0"/>
<rect x="316" y="421" width="2" height="10" fill="#c0c0c0"/>
<rect x="318" y="421" width="2" height="10" fill="#c0c0c0"/>
<rect x="320" y="420" width="2" height="11" fill="#c0c0c0"/>
<rect x="322" y="420" width="2" height="11" fill="#c0c0c0"/>
<rect x="324" y="420" width="2" height="11" fill="#c0c0c0"/>
<rect x="326" y="420" width="2" height="11" fill="#c0c0c0"/>
<rect x="328" y="420" width="2" height="11" fill="#c0c0c0"/>
<rect x="330" y="421" width="2" height="10" fill="#c0c0c0"/>
<rect x="332" y="422" width="2" height="9" fill="#c0c0c0"/>
<rect x="334" y="423" width="2" height="8" fill="#c0c0c0"/>
<rect x="336" y="423" width="2" height="8" fill="#c0c0c0"/>
<rect x="338" y="424" width="2" height="7" fill="#c0c0c0"/>
<rect x="340" y="424" width="2" height="7" fill="#c0c0c0"/>
<rect x="342" y="424" width="2" height="7" fill="#c0c0c0"/>
<rect x="344" y="424" width="2" height="7" fill="#c0c0c0"/>
<rect x="346" y="424" width="2" height="7" fill="#c0c0c0"/>
<rect x="348" y="424" width="2" height="7" fill="#c0c0c0"/>
<rect x="350" y="424" width="2" height="7" fill="#c0c0c0"/>
<rect x="352" y="424" width="2" height="7" fill="#c0c0c0"/>
<rect x="354" y="425" width="2" height="6" fill="#c0c0c0"/>
<rect x="356" y="425" width="2" height="6" fill="#c0c0c0"/>
<rect x="358" y="426" width="2" height="5" fill="#c0c0c0"/>
<rect x="360" y="426" width="2" height="5" fill="#c0c0c0"/>
<rect x="362" y="426" width="2" height="5" fill="#c0c0c0"/>
<rect x="364" y="426" width="2" height="5" fill="#c0c0c0"/>
<rect x="366" y="425" width="2" height="6" fill="#c0c0c0"/>
<rect x="368" y="425" width="2" height="6" fill="#c0c0c0"/>
<rect x="370" y="424" width="2" height="7" fill="#c0c0c0"/>
<rect x="372" y="422" width="2" height="9" fill="#c0c0c0"/>
<rect x="374" y="421" width="2" height="10" fill="#c0c0c0"/>
<rect x="376" y="422" width="2" height="9" fill="#c0c0c0"/>
<rect x="378" y="422" width="2" height="9" fill="#c0c0c0"/>
<rect x="380" y="423" width="2" height="8" fill="#c0c0c0"/>
<rect x="382" y="423" width="2" height="8" fill="#c0c0c0"/>
<rect x="384" y="423" width="2" height="8" fill="#c0c0c0"/>
<rect x="386" y="423" width="2" height="8" fill="#c0c0c0"/>
<rect x="388" y="423" width="2" height="8" fill="#c0c0c0"/>
<rect x="390" y="423" width="2" height="8" fill="#c0c0c0"/>
<rect x="392" y="422" width="2" height="9" fill="#c0c0c0"/>
<rect x="394" y="422" width="2" height="9" fill="#c0c0c0"/>
<rect x="396" y="422" width="2" height="9" fill="#c0c0c0"/>
<rect x="398" y="422" width="2" height="9" fill="#c0c0c0"/>
<rect x="400" y="422" width="2" height="9" fill="#c0c0c0"/>
<rect x="402" y="416" width="2" height="15" fill="#c0c0c0"/>
<rect x="404" y="415" width="2" height="16" fill="#c0c0c0"/>
<rect x="406" y="414" width="2" height="17" fill="#c0c0c0"/>
<rect x="408" y="414" width="2" height="17" fill="#c0c0c0"/>
<rect x="410" y="414" width="2" height="17" fill="#c0c0c0"/>
<rect x="412" y="414" width="2" height="17" fill="#c0c0c0"/>
<rect x="414" y="414" width="2" height="17" fill="#c0c0c0"/>
<rect x="416" y="414" width="2" height="17" fill="#c0c0c0"/>
<rect x="418" y="415" width="2" height="16" fill="#c0c0c0"/>
<rect x="420" y="416" width="2" height="15" fill="#c0c0c0"/>
<rect x="422" y="416" width="2" height="15" fill="#c0c0c0"/>
<rect x="424" y="416" width="2" height="15" fill="#c0c0c0"/>
<rect x="426" y="417" width="2" height="14" fill="#c0c0c0"/>
<rect x="428" y="417" width="2" height="14" fill="#c0c0c0"/>
<rect x="430" y="416" width="2" height="15" fill="#c0c0c0"/>
<rect x="432" y="416" width="2" height="15" fill="#c0c0c0"/>
<rect x="434" y="416" width="2" height="15" fill="#c0c0c0"/>
<rect x="436" y="418" width="2" height="13" fill="#c0c0c0"/>
<rect x="438" y="419" width="2" height="12" fill="#c0c0c0"/>
<rect x="440" y="425" width="2" height="6" fill="#c0c0c0"/>
<rect x="442" y="431" width="2" height="4" fill="#c0c0c0"/>
<rect x="444" y="431" width="2" height="7" fill="#c0c0c0"/>
<rect x="446" y="431" width="2" height="8" fill="#c0c0c0"/>
<rect x="448" y="431" width="2" height="7" fill="#c0c0c0"/>
<rect x="450" y="431" width="2" height="6" fill="#c0c0c0"/>
<rect x="452" y="431" width="2" height="2" fill="#c0c0c0"/>
<rect x="454" y="430" width="2" height="1" fill="#c0c0c0"/>
<rect x="456" y="429" width="2" height="2" fill="#c0c0c0"/>
<rect x="458" y="429" width="2" height="2" fill="#c0c0c0"/>
<rect x="460" y="428" width="2" height="3" fill="#c0c0c0"/>
<rect x="462" y="427" width="2" height="4" fill="#c0c0c0"/>
<rect x="464" y="427" width="2" height="4" fill="#c0c0c0"/>
<rect x="466" y="426" width="2" height="5" fill="#c0c0c0"/>
<rect x="468" y="426" width="2" height="5" fill="#c0c0c0"/>
<rect x="470" y="428" width="2" height="3" fill="#c0c0c0"/>
<rect x="472" y="429" width="2" height="2" fill="#c0c0c0"/>
<rect x="474" y="430" width="2" height="1" fill="#c0c0c0"/>
<rect x="476" y="430" width="2" height="1" fill="#c0c0c0"/>
<rect x="478" y="431" width="2" height="1" fill="#c0c0c0"/>
<rect x="480" y="430" width="2" height="1" fill="#c0c0c0"/>
<rect x="482" y="429" width="2" height="2" fill="#c0c0c0"/>
<rect x="484" y="428" width="2" height="3" fill="#c0c0c0"/>
<rect x="486" y="427" width="2" height="4" fill="#c0c0c0"/>
<rect x="488" y="426" width="2" height="5" fill="#c0c0c0"/>
<rect x="490" y="425" width="2" height="6" fill="#c0c0c0"/>
<rect x="492" y="424" width="2" height="7" fill="#c0c0c0"/>
<rect x="494" y="423" width="2" height="8" fill="#c0c0c0"/>
<rect x="496" y="421" width="2" height="10" fill="#c0c0c0"/>
<rect x="498" y="419" width="2" height="12" fill="#c0c0c0"/>
<rect x="500" y="418" width="2" height="13" fill="#c0c0c0"/>
<rect x="502" y="417" width="2" height="14" fill="#c0c0c0"/>
<rect x="504" y="418" width="2" height="13" fill="#c0c0c0"/>
<rect x="506" y="419" width="2" height="12" fill="#c0c0c0"/>
<rect x="508" y="420" width="2" height="11" fill="#c0c0c0"/>
<rect x="510" y="422" width="2" height="9" fill="#c0c0c0"/>
<rect x="512" y="422" width="2" height="9" fill="#c0c0c0"/>
<rect x="514" y="423" width="2" height="8" fill="#c0c0c0"/>
<rect x="516" y="423" width="2" height="8" fill="#c0c0c0"/>
<rect x="518" y="423" width="2" height="8" fill="#c0c0c0"/>
<rect x="520" y="422" width="2" height="9" fill="#c0c0c0"/>
<rect x="522" y="422" width="2" height="9" fill="#c0c0c0"/>
<rect x="524" y="422" width="2" height="9" fill="#c0c0c0"/>
<rect x="526" y="422" width="2" height="9" fill="#c0c0c0"/>
<rect x="528" y="422" width="2" height="9" fill="#c0c0c0"/>
<rect x="530" y="423" width="2" height="8" fill="#c0c0c0"/>
<rect x="532" y="423" width="2" height="8" fill="#c0c0c0"/>
<rect x="534" y="423" width="2" height="8" fill="#c0c0c0"/>
<rect x="536" y="423" width="2" height="8" fill="#c0c0c0"/>
<rect x="538" y="423" width="2" height="8" fill="#c0c0c0"/>
<rect x="540" y="423" width="2" height="8" fill="#c0c0c0"/>
<rect x="542" y="423" width="2" height="8" fill="#c0c0c0"/>
<rect x="544" y="423" width="2" height="8" fill="#c0c0c0"/>
<rect x="546" y="423" width="2" height="8" fill="#c0c0c0"/>
<rect x="548" y="424" width="2" height="7" fill="#c0c0c0"/>
<rect x="550" y="424" width="2" height="7" fill="#c0c0c0"/>
<rect x="552" y="424" width="2" height="7" fill="#c0c0c0"/>
<rect x="554" y="424" width="2" height="7" fill="#c0c0c0"/>
<rect x="556" y="423" width="2" height="8" fill="#c0c0c0"/>
<rect x="558" y="423" width="2" height="8" fill="#c0c0c0"/>
<rect x="560" y="422" width="2" height="9" fill="#c0c0c0"/>
<rect x="562" y="422" width="2" height="9" fill="#c0c0c0"/>
<rect x="564" y="421" width="2" height="10" fill="#c0c0c0"/>
<rect x="566" y="420" width="2" height="11" fill="#c0c0c0"/>
<rect x="568" y="420" width="2" height="11" fill="#c0c0c0"/>
<rect x="570" y="421" width="2" height="10" fill="#c0c0c0"/>
<rect x="572" y="422" width="2" height="9" fill="#c0c0c0"/>
<rect x="574" y="422" width="2" height="9" fill="#c0c0c0"/>
<rect x="576" y="422" width="2" height="9" fill="#c0c0c0"/>
<rect x="578" y="421" width="2" height="10" fill="#c0c0c0"/>
<rect x="580" y="421" width="2" height="10" fill="#c0c0c0"/>
<rect x="582" y="421" width="2" height="10" fill="#c0c0c0"/>
<rect x="584" y="420" width="2" height="11" fill="#c0c0c0"/>
<rect x="586" y="419" width="2" height="12" fill="#c0c0c0"/>
<rect x="588" y="419" width="2" height="12" fill="#c0c0c0"/>
<rect x="590" y="419" width="2" height="12" fill="#c0c0c0"/>
<rect x="592" y="419" width="2" height="12" fill="#c0c0c0"/>
<rect x="594" y="419" width="2" height="12" fill="#c0c0c0"/>
<rect x="596" y="419" width="2" height="12" fill="#c0c0c0"/>
<rect x="598" y="419" width="2" height="12" fill="#c0c0c0"/>
<rect x="600" y="419" width="2" height="12" fill="#c0c0c0"/>
<rect x="602" y="420" width="2" height="11" fill="#c0c0c0"/>
<rect x="604" y="420" width="2" height="11" fill="#c0c0c0"/>
<rect x="606" y="421" width="2" height="10" fill="#c0c0c0"/>
<rect x="608" y="421" width="2" height="10" fill="#c0c0c0"/>
<rect x="610" y="423" width="2" height="8" fill="#c0c0c0"/>
<rect x="612" y="426" width="2" height="5" fill="#c0c0c0"/>
<rect x="614" y="430" width="2" height="1" fill="#c0c0c0"/>
<rect x="616" y="431" width="2" height="6" fill="#c0c0c0"/>
<rect x="618" y="431" width="2" height="11" fill="#c0c0c0"/>
<rect x="620" y="431" width="2" height="15" fill="#c0c0c0"/>
<rect x="622" y="431" width="2" height="20" fill="#c0c0c0"/>
<rect x="624" y="431" width="2" height="26" fill="#c0c0c0"/>
<rect x="626" y="431" width="2" height="31" fill="#c0c0c0"/>
<rect x="628" y="431" width="2" height="33" fill="#c0c0c0"/>
<rect x="630" y="431" width="2" height="33" fill="#c0c0c0"/>
<rect x="632" y="431" width="2" height="32" fill="#c0c0c0"/>
<rect x="634" y="431" width="2" height="27" fill="#c0c0c0"/>
<rect x="636" y="431" width="2" height="25" fill="#c0c0c0"/>
<rect x="638" y="431" width="2" height="23" fill="#c0c0c0"/>
<rect x="640" y="431" width="2" height="22" fill="#c0c0c0"/>
<rect x="642" y="431" width="2" height="21" fill="#c0c0c0"/>
<rect x="644" y="431" width="2" height="19" fill="#c0c0c0"/>
<rect x="646" y="431" width="2" height="17" fill="#c0c0c0"/>
<rect x="648" y="431" width="2" height="16" fill="#c0c0c0"/>
<rect x="650" y="431" width="2" height="15" fill="#c0c0c0"/>
<rect x="652" y="431" width="2" height="14" fill="#c0c0c0"/>
<rect x="654" y="431" width="2" height="12" fill="#c0c0c0"/>
<rect x="656" y="431" width="2" height="11" fill="#c0c0c0"/>
<rect x="658" y="431" width="2" height="10" fill="#c0c0c0"/>
<rect x="660" y="431" width="2" height="10" fill="#c0c0c0"/>
<rect x="662" y="431" width="2" height="9" fill="#c0c0c0"/>
<rect x="664" y="431" width="2" height="8" fill="#c0c0c0"/>
<rect x="666" y="431" width="2" height="7" fill="#c0c0c0"/>
<rect x="668" y="431" width="2" height="6" fill="#c0c0c0"/>
<rect x="670" y="431" width="2" height="5" fill="#c0c0c0"/>
<rect x="672" y="431" width="2" height="3" fill="#c0c0c0"/>
<rect x="674" y="431" width="2" height="2" fill="#c0c0c0"/>
<rect x="676" y="430" width="2" height="1" fill="#c0c0c0"/>
<rect x="678" y="428" width="2" height="3" fill="#c0c0c0"/>
<rect x="680" y="426" width="2" height="5" fill="#c0c0c0"/>
<rect x="682" y="425" width="2" height="6" fill="#c0c0c0"/>
<rect x="684" y="423" width="2" height="8" fill="#c0c0c0"/>
<rect x="686" y="422" width="2" height="9" fill="#c0c0c0"/>
<rect x="688" y="420" width="2" height="11" fill="#c0c0c0"/>
<rect x="690" y="419" width="2" height="12" fill="#c0c0c0"/>
<rect x="692" y="417" width="2" height="14" fill="#c0c0c0"/>
<rect x="694" y="416" width="2" height="15" fill="#c0c0c0"/>
<rect x="696" y="415" width="2" height="16" fill="#c0c0c0"/>
<rect x="698" y="414" width="2" height="17" fill="#c0c0c0"/>
<rect x="700" y="414" width="2" height="17" fill="#c0c0c0"/>
<rect x="702" y="416" width="2" height="15" fill="#c0c0c0"/>
<rect x="704" y="418" width="2" height="13" fill="#c0c0c0"/>
<rect x="706" y="419" width="2" height="12" fill="#c0c0c0"/>
<rect x="708" y="420" width="2" height="11" fill="#c0c0c0"/>
<rect x="710" y="421" width="2" height="10" fill="#c0c0c0"/>
<rect x="712" y="422" width="2" height="9" fill="#c0c0c0"/>
<rect x="714" y="423" width="2" height="8" fill="#c0c0c0"/>
<rect x="716" y="424" width="2" height="7" fill="#c0c0c0"/>
<rect x="718" y="425" width="2" height="6" fill="#c0c0c0"/>
<rect x="720" y="426" width="2" height="5" fill="#c0c0c0"/>
<rect x="722" y="427" width="2" height="4" fill="#c0c0c0"/>
<rect x="724" y="428" width="2" height="3" fill="#c0c0c0"/>
<rect x="726" y="430" width="2" height="1" fill="#c0c0c0"/>
<rect x="728" y="431" width="2" height="2" fill="#c0c0c0"/>
<rect x="730" y="431" width="2" height="4" fill="#c0c0c0"/>
<rect x="732" y="431" width="2" height="6" fill="#c0c0c0"/>
<rect x="734" y="431" width="2" height="7" fill="#c0c0c0"/>
<rect x="736" y="431" width="2" height="8" fill="#c0c0c0"/>
<rect x="738" y="431" width="2" height="8" fill="#c0c0c0"/>
<rect x="740" y="431" width="2" height="6" fill="#c0c0c0"/>
<rect x="742" y="431" width="2" height="6" fill="#c0c0c0"/>
<rect x="744" y="431" width="2" height="7" fill="#c0c0c0"/>
<rect x="746" y="431" width="2" height="8" fill="#c0c0c0"/>
<rect x="748" y="431" width="2" height="8" fill="#c0c0c0"/>
<rect x="750" y="431" width="2" height="8" fill="#c0c0c0"/>
<rect x="752" y="431" width="2" height="7" fill="#c0c0c0"/>
<rect x="754" y="431" width="2" height="6" fill="#c0c0c0"/>
<rect x="756" y="431" width="2" height="6" fill="#c0c0c0"/>
<rect x="758" y="431" width="2" height="5" fill="#c0c0c0"/>
<rect x="760" y="431" width="2" height="5" fill="#c0c0c0"/>
<rect x="762" y="431" width="2" height="4" fill="#c0c0c0"/>
<rect x="764" y="431" width="2" height="3" fill="#c0c0c0"/>
<rect x="766" y="431" width="2" height="2" fill="#c0c0c0"/>
<rect x="768" y="431" width="2" height="1" fill="#c0c0c0"/>
<rect x="770" y="430" width="2" height="1" fill="#c0c0c0"/>
<rect x="772" y="429" width="2" height="2" fill="#c0c0c0"/>
<rect x="774" y="429" width="2" height="2" fill="#c0c0c0"/>
<rect x="776" y="429" width="2" height="2" fill="#c0c0c0"/>
<rect x="778" y="430" width="2" height="1" fill="#c0c0c0"/>
<rect x="780" y="431" width="2" height="2" fill="#c0c0c0"/>
<rect x="782" y="431" width="2" height="4" fill="#c0c0c0"/>
<rect x="784" y="431" width="2" height="5" fill="#c0c0c0"/>
<rect x="786" y="431" width="2" height="5" fill="#c0c0c0"/>
<rect x="788" y="431" width="2" height="6" fill="#c0c0c0"/>
<rect x="790" y="431" width="2" height="6" fill="#c0c0c0"/>
<rect x="792" y="431" width="2" height="6" fill="#c0c0c0"/>
<rect x="794" y="431" width="2" height="6" fill="#c0c0c0"/>
<rect x="796" y="431" width="2" height="5" fill="#c0c0c0"/>
<rect x="798" y="431" width="2" height="4" fill="#c0c0c0"/>
<rect x="800" y="431" width="2" height="2" fill="#c0c0c0"/>
<rect x="802" y="430" width="2" height="1" fill="#c0c0c0"/>
<rect x="804" y="429" width="2" height="2" fill="#c0c0c0"/>
<rect x="806" y="429" width="2" height="2" fill="#c0c0c0"/>
<rect x="808" y="428" width="2" height="3" fill="#c0c0c0"/>
<rect x="810" y="429" width="2" height="2" fill="#c0c0c0"/>
<rect x="812" y="428" width="2" height="3" fill="#c0c0c0"/>
<rect x="814" y="428" width="2" height="3" fill="#c0c0c0"/>
<rect x="816" y="427" width="2" height="4" fill="#c0c0c0"/>
<rect x="818" y="427" width="2" height="4" fill="#c0c0c0"/>
<rect x="820" y="426" width="2" height="5" fill="#c0c0c0"/>
<rect x="822" y="425" width="2" height="6" fill="#c0c0c0"/>
<rect x="824" y="425" width="2" height="6" fill="#c0c0c0"/>
<rect x="826" y="424" width="2" height="7" fill="#c0c0c0"/>
<rect x="828" y="424" width="2" height="7" fill="#c0c0c0"/>
<rect x="830" y="423" width="2" height="8" fill="#c0c0c0"/>
<rect x="832" y="423" width="2" height="8" fill="#c0c0c0"/>
<rect x="834" y="423" width="2" height="8" fill="#c0c0c0"/>
<rect x="836" y="423" width="2" height="8" fill="#c0c0c0"/>
<rect x="838" y="423" width="2" height="8" fill="#c0c0c0"/>
<rect x="840" y="424" width="2" height="7" fill="#c0c0c0"/>
<rect x="842" y="426" width="2" height="5" fill="#c0c0c0"/>
<rect x="844" y="428" width="2" height="3" fill="#c0c0c0"/>
<rect x="846" y="429" width="2" height="2" fill="#c0c0c0"/>
<rect x="848" y="430" width="2" height="1" fill="#c0c0c0"/>
<rect x="850" y="431" width="2" height="1" fill="#c0c0c0"/>
<rect x="852" y="431" width="2" height="2" fill="#c0c0c0"/>
<rect x="854" y="431" width="2" height="2" fill="#c0c0c0"/>
<rect x="856" y="431" width="2" height="2" fill="#c0c0c0"/>
<rect x="858" y="431" width="2" height="2" fill="#c0c0c0"/>
<rect x="860" y="431" width="2" height="1" fill="#c0c0c0"/>
<rect x="862" y="429" width="2" height="2" fill="#c0c0c0"/>
<rect x="864" y="428" width="2" height="3" fill="#c0c0c0"/>
<rect x="866" y="431" width="2" height="3" fill="#c0c0c0"/>
<rect x="868" y="431" width="2" height="9" fill="#c0c0c0"/>
<rect x="870" y="431" width="2" height="16" fill="#c0c0c0"/>
<rect x="872" y="431" width="2" height="21" fill="#c0c0c0"/>
<rect x="874" y="431" width="2" height="26" fill="#c0c0c0"/>
<rect x="876" y="431" width="2" height="30" fill="#c0c0c0"/>
<rect x="878" y="431" width="2" height="35" fill="#c0c0c0"/>
<rect x="880" y="431" width="2" height="39" fill="#c0c0c0"/>
<rect x="882" y="431" width="2" height="42" fill="#c0c0c0"/>
<rect x="884" y="431" width="2" height="44" fill="#c0c0c0"/>
<rect x="886" y="431" width="2" height="44" fill="#c0c0c0"/>
<rect x="888" y="431" width="2" height="45" fill="#c0c0c0"/>
<rect x="890" y="431" width="2" height="42" fill="#c0c0c0"/>
<rect x="892" y="431" width="2" height="39" fill="#c0c0c0"/>
<rect x="894" y="431" width="2" height="37" fill="#c0c0c0"/>
<rect x="896" y="431" width="2" height="35" fill="#c0c0c0"/>
<rect x="898" y="431" width="2" height="32" fill="#c0c0c0"/>
<rect x="900" y="431" width="2" height="29" fill="#c0c0c0"/>
<rect x="902" y="431" width="2" height="25" fill="#c0c0c0"/>
<rect x="904" y="431" width="2" height="22" fill="#c0c0c0"/>
<rect x="906" y="431" width="2" height="18" fill="#c0c0c0"/>
<rect x="908" y="431" width="2" height="15" fill="#c0c0c0"/>
<rect x="910" y="431" width="2" height="12" fill="#c0c0c0"/>
<rect x="912" y="431" width="2" height="11" fill="#c0c0c0"/>
<rect x="914" y="431" width="2" height="11" fill="#c0c0c0"/>
<rect x="916" y="431" width="2" height="10" fill="#c0c0c0"/>
<rect x="918" y="431" width="2" height="8" fill="#c0c0c0"/>
<rect x="920" y="431" width="2" height="7" fill="#c0c0c0"/>
<rect x="922" y="431" width="2" height="6" fill="#c0c0c0"/>
<rect x="924" y="431" width="2" height="5" fill="#c0c0c0"/>
<rect x="926" y="431" width="2" height="2" fill="#c0c0c0"/>
<rect x="928" y="428" width="2" height="3" fill="#c0c0c0"/>
<rect x="930" y="424" width="2" height="7" fill="#c0c0c0"/>
<rect x="932" y="421" width="2" height="10" fill="#c0c0c0"/>
<rect x="934" y="420" width="2" height="11" fill="#c0c0c0"/>
<rect x="936" y="419" width="2" height="12" fill="#c0c0c0"/>
<rect x="938" y="420" width="2" height="11" fill="#c0c0c0"/>
<rect x="940" y="421" width="2" height="10" fill="#c0c0c0"/>
<rect x="942" y="422" width="2" height="9" fill="#c0c0c0"/>
<rect x="944" y="423" width="2" height="8" fill="#c0c0c0"/>
<rect x="946" y="424" width="2" height="7" fill="#c0c0c0"/>
<rect x="948" y="425" width="2" height="6" fill="#c0c0c0"/>
<rect x="950" y="427" width="2" height="4" fill="#c0c0c0"/>
<rect x="952" y="429" width="2" height="2" fill="#c0c0c0"/>
<rect x="954" y="430" width="2" height="1" fill="#c0c0c0"/>
<rect x="956" y="431" width="2" height="3" fill="#c0c0c0"/>
<rect x="958" y="431" width="2" height="6" fill="#c0c0c0"/>
<rect x="960" y="431" width="2" height="8" fill="#c0c0c0"/>
<rect x="962" y="431" width="2" height="10" fill="#c0c0c0"/>
<rect x="964" y="431" width="2" height="12" fill="#c0c0c0"/>
<rect x="966" y="431" width="2" height="11" fill="#c0c0c0"/>
<rect x="968" y="431" width="2" height="10" fill="#c0c0c0"/>
<rect x="970" y="431" width="2" height="9" fill="#c0c0c0"/>
<rect x="972" y="431" width="2" height="8" fill="#c0c0c0"/>
<rect x="974" y="431" width="2" height="6" fill="#c0c0c0"/>
<rect x="976" y="431" width="2" height="3" fill="#c0c0c0"/>
<rect x="978" y="430" width="2" height="1" fill="#c0c0c0"/>
<rect x="980" y="428" width="2" height="3" fill="#c0c0c0"/>
<rect x="982" y="427" width="2" height="4" fill="#c0c0c0"/>
<rect x="984" y="426" width="2" height="5" fill="#c0c0c0"/>
<rect x="986" y="426" width="2" height="5" fill="#c0c0c0"/>
<rect x="988" y="426" width="2" height="5" fill="#c0c0c0"/>
<rect x="990" y="426" width="2" height="5" fill="#c0c0c0"/>
<rect x="992" y="426" width="2" height="5" fill="#c0c0c0"/>
<rect x="994" y="426" width="2" height="5" fill="#c0c0c0"/>
<rect x="996" y="426" width="2" height="5" fill="#c0c0c0"/>
<rect x="998" y="427" width="2" height="4" fill="#c0c0c0"/>
<rect x="1000" y="427" width="2" height="4" fill="#c0c0c0"/>
<rect x="1002" y="428" width="2" height="3" fill="#c0c0c0"/>
<rect x="1004" y="429" width="2" height="2" fill="#c0c0c0"/>
<rect x="1006" y="429" width="2" height="2" fill="#c0c0c0"/>
<rect x="1008" y="430" width="2" height="1" fill="#c0c0c0"/>
<rect x="1010" y="430" width="2" height="1" fill="#c0c0c0"/>
<rect x="1012" y="430" width="2" height="1" fill="#c0c0c0"/>
<rect x="1014" y="429" width="2" height="2" fill="#c0c0c0"/>
<rect x="1016" y="428" width="2" height="3" fill="#c0c0c0"/>
<rect x="1018" y="426" width="2" height="5" fill="#c0c0c0"/>
<rect x="1020" y="425" width="2" height="6" fill="#c0c0c0"/>
<rect x="1022" y="426" width="2" height="5" fill="#c0c0c0"/>
<rect x="1024" y="427" width="2" height="4" fill="#c0c0c0"/>
<rect x="1026" y="427" width="2" height="4" fill="#c0c0c0"/>
<rect x="1028" y="427" width="2" height="4" fill="#c0c0c0"/>
<rect x="1030" y="427" width="2" height="4" fill="#c0c0c0"/>
<rect x="1032" y="427" width="2" height="4" fill="#c0c0c0"/>
<rect x="1034" y="427" width="2" height="4" fill="#c0c0c0"/>
<rect x="1036" y="427" width="2" height="4" fill="#c0c0c0"/>
<rect x="1038" y="424" width="2" height="7" fill="#c0c0c0"/>
<rect x="1040" y="423" width="2" height="8" fill="#c0c0c0"/>
<rect x="1042" y="422" width="2" height="9" fill="#c0c0c0"/>
<rect x="4" y="281" width="1" height="36" fill="#32cd32"/>
<rect x="6" y="302" width="1" height="28" fill="#32cd32"/>
<rect x="8" y="305" width="1" height="17" fill="#ff0000"/>
<rect x="10" y="293" width="1" height="24" fill="#ff0000"/>
<rect x="12" y="279" width="1" height="25" fill="#ff0000"/>
<rect x="14" y="286" width="1" height="23" fill="#32cd32"/>
<rect x="16" y="282" width="1" height="29" fill="#ff0000"/>
<rect x="18" y="280" width="1" height="17" fill="#ff0000"/>
<rect x="20" y="260" width="1" height="31" fill="#ff0000"/>
<rect x="22" y="233" width="1" height="39" fill="#ff0000"/>
<rect x="24" y="233" width="1" height="22" fill="#ff0000"/>
<rect x="26" y="218" width="1" height="25" fill="#ff0000"/>
<rect x="28" y="209" width="1" height="25" fill="#ff0000"/>
<rect x="30" y="200" width="1" height="19" fill="#ff0000"/>
<rect x="32" y="196" width="1" height="50" fill="#32cd32"/>
<rect x="34" y="213" width="1" height="33" fill="#32cd32"/>
<rect x="36" y="225" width="1" height="17" fill="#32cd32"/>
<rect x="38" y="228" width="1" height="93" fill="#32cd32"/>
<rect x="40" y="304" width="1" height="65" fill="#32cd32"/>
<rect x="42" y="349" width="1" height="17" fill="#32cd32"/>
<rect x="44" y="357" width="1" height="43" fill="#32cd32"/>
<rect x="46" y="337" width="1" height="39" fill="#ff0000"/>
<rect x="48" y="342" width="1" height="23" fill="#ff0000"/>
<rect x="50" y="339" width="1" height="20" fill="#32cd32"/>
<rect x="52" y="351" width="1" height="31" fill="#32cd32"/>
<rect x="54" y="364" width="1" height="17" fill="#ff0000"/>
<rect x="56" y="370" width="1" height="15" fill="#ff0000"/>
<rect x="58" y="343" width="1" height="37" fill="#ff0000"/>
<rect x="60" y="340" width="1" height="33" fill="#32cd32"/>
<rect x="62" y="365" width="1" height="28" fill="#32cd32"/>
<rect x="64" y="375" width="1" height="19" fill="#32cd32"/>
<rect x="66" y="364" width="1" height="19" fill="#ff0000"/>
<rect x="68" y="350" width="1" height="29" fill="#ff0000"/>
<rect x="70" y="342" width="1" height="24" fill="#ff0000"/>
<rect x="72" y="320" width="1" height="35" fill="#ff0000"/>
<rect x="74" y="302" width="1" height="23" fill="#ff0000"/>
<rect x="76" y="309" width="1" height="31" fill="#32cd32"/>
<rect x="78" y="322" width="1" height="18" fill="#32cd32"/>
<rect x="80" y="323" width="1" height="17" fill="#32cd32"/>
<rect x="82" y="302" width="1" height="36" fill="#ff0000"/>
<rect x="84" y="281" width="1" height="32" fill="#ff0000"/>
<rect x="86" y="289" width="1" height="21" fill="#ff0000"/>
<rect x="88" y="253" width="1" height="41" fill="#ff0000"/>
<rect x="90" y="231" width="1" height="42" fill="#ff0000"/>
<rect x="92" y="238" width="1" height="23" fill="#ff0000"/>
<rect x="94" y="244" width="1" height="55" fill="#32cd32"/>
<rect x="96" y="270" width="1" height="26" fill="#ff0000"/>
<rect x="98" y="253" width="1" height="29" fill="#ff0000"/>
<rect x="100" y="270" width="1" height="49" fill="#32cd32"/>
<rect x="102" y="279" width="1" height="15" fill="#32cd32"/>
<rect x="104" y="264" width="1" height="29" fill="#ff0000"/>
<rect x="106" y="262" width="1" height="29" fill="#32cd32"/>
<rect x="108" y="287" width="1" height="30" fill="#32cd32"/>
<rect x="110" y="294" width="1" height="17" fill="#ff0000"/>
<rect x="112" y="299" width="1" height="11" fill="#32cd32"/>
<rect x="114" y="304" width="1" height="7" fill="#32cd32"/>
<rect x="116" y="292" width="1" height="15" fill="#ff0000"/>
<rect x="118" y="293" width="1" height="36" fill="#32cd32"/>
<rect x="120" y="275" width="1" height="42" fill="#ff0000"/>
<rect x="122" y="260" width="1" height="23" fill="#ff0000"/>
<rect x="124" y="254" width="1" height="26" fill="#32cd32"/>
<rect x="126" y="272" width="1" height="13" fill="#32cd32"/>
<rect x="128" y="266" width="1" height="20" fill="#ff0000"/>
<rect x="130" y="265" width="1" height="27" fill="#ff0000"/>
<rect x="132" y="250" width="1" height="35" fill="#ff0000"/>
<rect x="134" y="257" width="1" height="34" fill="#32cd32"/>
<rect x="136" y="271" width="1" height="16" fill="#32cd32"/>
<rect x="138" y="277" width="1" height="17" fill="#32cd32"/>
<rect x="140" y="278" width="1" height="21" fill="#ff0000"/>
<rect x="142" y="269" width="1" height="29" fill="#ff0000"/>
<rect x="144" y="261" width="1" height="47" fill="#32cd32"/>
<rect x="146" y="286" width="1" height="20" fill="#32cd32"/>
<rect x="148" y="275" width="1" height="38" fill="#ff0000"/>
<rect x="150" y="277" width="1" height="23" fill="#32cd32"/>
<rect x="152" y="284" width="1" height="24" fill="#32cd32"/>
<rect x="154" y="280" width="1" height="43" fill="#ff0000"/>
<rect x="156" y="275" width="1" height="33" fill="#ff0000"/>
<rect x="158" y="266" width="1" height="23" fill="#ff0000"/>
<rect x="160" y="235" width="1" height="58" fill="#ff0000"/>
<rect x="162" y="233" width="1" height="23" fill="#000000"/>
<rect x="164" y="235" width="1" height="27" fill="#ff0000"/>
<rect x="166" y="236" width="1" height="14" fill="#32cd32"/>
<rect x="168" y="232" width="1" height="18" fill="#32cd32"/>
<rect x="170" y="232" width="1" height="20" fill="#32cd32"/>
<rect x="172" y="234" width="1" height="25" fill="#32cd32"/>
<rect x="174" y="238" width="1" height="18" fill="#ff0000"/>
<rect x="176" y="240" width="1" height="11" fill="#32cd32"/>
<rect x="178" y="220" width="1" height="31" fill="#ff0000"/>
<rect x="180" y="230" width="1" height="18" fill="#32cd32"/>
<rect x="182" y="217" width="1" height="27" fill="#ff0000"/>
<rect x="184" y="213" width="1" height="21" fill="#32cd32"/>
<rect x="186" y="223" width="1" height="13" fill="#ff0000"/>
<rect x="188" y="226" width="1" height="11" fill="#ff0000"/>
<rect x="190" y="210" width="1" height="24" fill="#ff0000"/>
<rect x="192" y="213" width="1" height="18" fill="#32cd32"/>
<rect x="194" y="218" width="1" height="23" fill="#ff0000"/>
<rect x="196" y="222" width="1" height="92" fill="#32cd32"/>
<rect x="198" y="284" width="1" height="37" fill="#32cd32"/>
<rect x="200" y="304" width="1" height="11" fill="#ff0000"/>
<rect x="202" y="278" width="1" height="32" fill="#ff0000"/>
<rect x="204" y="274" width="1" height="21" fill="#ff0000"/>
<rect x="206" y="275" width="1" height="22" fill="#32cd32"/>
<rect x="208" y="282" width="1" height="46" fill="#ff0000"/>
<rect x="210" y="282" width="1" height="18" fill="#32cd32"/>
<rect x="212" y="282" width="1" height="13" fill="#ff0000"/>
<rect x="214" y="273" width="1" height="21" fill="#ff0000"/>
<rect x="216" y="268" width="1" height="28" fill="#32cd32"/>
<rect x="218" y="277" width="1" height="19" fill="#ff0000"/>
<rect x="220" y="244" width="1" height="46" fill="#ff0000"/>
<rect x="222" y="222" width="1" height="25" fill="#ff0000"/>
<rect x="224" y="223" width="1" height="24" fill="#32cd32"/>
<rect x="226" y="229" width="1" height="15" fill="#32cd32"/>
<rect x="228" y="232" width="1" height="19" fill="#32cd32"/>
<rect x="230" y="243" width="1" height="23" fill="#32cd32"/>
<rect x="232" y="236" width="1" height="35" fill="#ff0000"/>
<rect x="234" y="204" width="1" height="56" fill="#ff0000"/>
<rect x="236" y="203" width="1" height="52" fill="#32cd32"/>
<rect x="238" y="238" width="1" height="25" fill="#ff0000"/>
<rect x="240" y="224" width="1" height="29" fill="#ff0000"/>
<rect x="242" y="229" width="1" height="29" fill="#32cd32"/>
<rect x="244" y="248" width="1" height="18" fill="#32cd32"/>
<rect x="246" y="258" width="1" height="13" fill="#ff0000"/>
<rect x="248" y="243" width="1" height="40" fill="#32cd32"/>
<rect x="250" y="268" width="1" height="25" fill="#32cd32"/>
<rect x="252" y="265" width="1" height="21" fill="#ff0000"/>
<rect x="254" y="263" width="1" height="16" fill="#32cd32"/>
<rect x="256" y="262" width="1" height="21" fill="#ff0000"/>
<rect x="258" y="270" width="1" height="12" fill="#ff0000"/>
<rect x="260" y="262" width="1" height="19" fill="#32cd32"/>
<rect x="262" y="263" width="1" height="35" fill="#32cd32"/>
<rect x="264" y="284" width="1" height="28" fill="#ff0000"/>
<rect x="266" y="282" width="1" height="28" fill="#32cd32"/>
<rect x="268" y="299" width="1" height="12" fill="#ff0000"/>
<rect x="270" y="298" width="1" height="20" fill="#32cd32"/>
<rect x="272" y="297" width="1" height="24" fill="#ff0000"/>
<rect x="274" y="296" width="1" height="15" fill="#ff0000"/>
<rect x="276" y="279" width="1" height="24" fill="#ff0000"/>
<rect x="278" y="274" width="1" height="14" fill="#ff0000"/>
<rect x="280" y="246" width="1" height="33" fill="#ff0000"/>
<rect x="282" y="237" width="1" height="24" fill="#32cd32"/>
<rect x="284" y="252" width="1" height="15" fill="#32cd32"/>
<rect x="286" y="243" width="1" height="23" fill="#ff0000"/>
<rect x="288" y="242" width="1" height="19" fill="#ff0000"/>
<rect x="290" y="242" width="1" height="11" fill="#32cd32"/>
<rect x="292" y="247" width="1" height="19" fill="#32cd32"/>
<rect x="294" y="250" width="1" height="17" fill="#ff0000"/>
<rect x="296" y="239" width="1" height="19" fill="#ff0000"/>
<rect x="298" y="240" width="1" height="17" fill="#32cd32"/>
<rect x="300" y="239" width="1" height="10" fill="#ff0000"/>
<rect x="302" y="241" width="1" height="9" fill="#32cd32"/>
<rect x="304" y="241" width="1" height="14" fill="#ff0000"/>
<rect x="306" y="231" width="1" height="15" fill="#ff0000"/>
<rect x="308" y="226" width="1" height="16" fill="#ff0000"/>
<rect x="310" y="221" width="1" height="16" fill="#32cd32"/>
<rect x="312" y="213" width="1" height="29" fill="#32cd32"/>
<rect x="314" y="220" width="1" height="21" fill="#ff0000"/>
<rect x="316" y="219" width="1" height="37" fill="#32cd32"/>
<rect x="318" y="227" width="1" height="22" fill="#ff0000"/>
<rect x="320" y="223" width="1" height="15" fill="#ff0000"/>
<rect x="322" y="215" width="1" height="19" fill="#ff0000"/>
<rect x="324" y="214" width="1" height="17" fill="#ff0000"/>
<rect x="326" y="211" width="1" height="18" fill="#32cd32"/>
<rect x="328" y="210" width="1" height="17" fill="#32cd32"/>
<rect x="330" y="218" width="1" height="10" fill="#ff0000"/>
<rect x="332" y="221" width="1" height="27" fill="#32cd32"/>
<rect x="334" y="221" width="1" height="19" fill="#32cd32"/>
<rect x="336" y="225" width="1" height="17" fill="#ff0000"/>
<rect x="338" y="214" width="1" height="18" fill="#ff0000"/>
<rect x="340" y="208" width="1" height="17" fill="#32cd32"/>
<rect x="342" y="217" width="1" height="16" fill="#32cd32"/>
<rect x="344" y="214" width="1" height="14" fill="#ff0000"/>
<rect x="346" y="211" width="1" height="13" fill="#ff0000"/>
<rect x="348" y="208" width="1" height="14" fill="#ff0000"/>
<rect x="350" y="205" width="1" height="17" fill="#32cd32"/>
<rect x="352" y="207" width="1" height="15" fill="#32cd32"/>
<rect x="354" y="182" width="1" height="39" fill="#32cd32"/>
<rect x="356" y="215" width="1" height="14" fill="#32cd32"/>
<rect x="358" y="211" width="1" height="17" fill="#ff0000"/>
<rect x="360" y="212" width="1" height="17" fill="#32cd32"/>
<rect x="362" y="211" width="1" height="18" fill="#32cd32"/>
<rect x="364" y="214" width="1" height="12" fill="#ff0000"/>
<rect x="366" y="208" width="1" height="12" fill="#ff0000"/>
<rect x="368" y="198" width="1" height="18" fill="#ff0000"/>
<rect x="370" y="191" width="1" height="18" fill="#32cd32"/>
<rect x="372" y="190" width="1" height="28" fill="#ff0000"/>
<rect x="374" y="178" width="1" height="30" fill="#ff0000"/>
<rect x="376" y="160" width="1" height="49" fill="#32cd32"/>
<rect x="378" y="190" width="1" height="14" fill="#ff0000"/>
<rect x="380" y="187" width="1" height="15" fill="#ff0000"/>
<rect x="382" y="182" width="1" height="18" fill="#32cd32"/>
<rect x="384" y="188" width="1" height="19" fill="#32cd32"/>
<rect x="386" y="180" width="1" height="26" fill="#ff0000"/>
<rect x="388" y="175" width="1" height="21" fill="#32cd32"/>
<rect x="390" y="172" width="1" height="28" fill="#32cd32"/>
<rect x="392" y="180" width="1" height="32" fill="#ff0000"/>
<rect x="394" y="182" width="1" height="13" fill="#32cd32"/>
<rect x="396" y="192" width="1" height="2" fill="#000000"/>
<rect x="398" y="167" width="1" height="32" fill="#32cd32"/>
<rect x="400" y="164" width="1" height="25" fill="#ff0000"/>
<rect x="402" y="125" width="1" height="43" fill="#ff0000"/>
<rect x="404" y="125" width="1" height="36" fill="#ff0000"/>
<rect x="406" y="128" width="1" height="30" fill="#32cd32"/>
<rect x="408" y="148" width="1" height="13" fill="#32cd32"/>
<rect x="410" y="129" width="1" height="36" fill="#32cd32"/>
<rect x="412" y="140" width="1" height="37" fill="#ff0000"/>
<rect x="414" y="132" width="1" height="20" fill="#ff0000"/>
<rect x="416" y="132" width="1" height="28" fill="#32cd32"/>
<rect x="418" y="144" width="1" height="19" fill="#32cd32"/>
<rect x="420" y="157" width="1" height="16" fill="#32cd32"/>
<rect x="422" y="142" width="1" height="32" fill="#ff0000"/>
<rect x="424" y="143" width="1" height="21" fill="#32cd32"/>
<rect x="426" y="130" width="1" height="26" fill="#ff0000"/>
<rect x="428" y="128" width="1" height="20" fill="#32cd32"/>
<rect x="430" y="132" width="1" height="16" fill="#32cd32"/>
<rect x="432" y="130" width="1" height="23" fill="#32cd32"/>
<rect x="434" y="115" width="1" height="26" fill="#ff0000"/>
<rect x="436" y="115" width="1" height="40" fill="#32cd32"/>
<rect x="438" y="123" width="1" height="52" fill="#32cd32"/>
<rect x="440" y="157" width="1" height="49" fill="#32cd32"/>
<rect x="442" y="199" width="1" height="50" fill="#32cd32"/>
<rect x="444" y="219" width="1" height="27" fill="#ff0000"/>
<rect x="446" y="179" width="1" height="49" fill="#ff0000"/>
<rect x="448" y="168" width="1" height="54" fill="#ff0000"/>
<rect x="450" y="155" width="1" height="33" fill="#32cd32"/>
<rect x="452" y="151" width="1" height="33" fill="#ff0000"/>
<rect x="454" y="145" width="1" height="13" fill="#32cd32"/>
<rect x="456" y="145" width="1" height="25" fill="#ff0000"/>
<rect x="458" y="140" width="1" height="26" fill="#ff0000"/>
<rect x="460" y="136" width="1" height="29" fill="#32cd32"/>
<rect x="462" y="155" width="1" height="16" fill="#ff0000"/>
<rect x="464" y="144" width="1" height="18" fill="#ff0000"/>
<rect x="466" y="142" width="1" height="14" fill="#32cd32"/>
<rect x="468" y="147" width="1" height="22" fill="#32cd32"/>
<rect x="470" y="147" width="1" height="18" fill="#ff0000"/>
<rect x="472" y="157" width="1" height="25" fill="#32cd32"/>
<rect x="474" y="169" width="1" height="14" fill="#ff0000"/>
<rect x="476" y="163" width="1" height="14" fill="#32cd32"/>
<rect x="478" y="164" width="1" height="10" fill="#32cd32"/>
<rect x="480" y="151" width="1" height="30" fill="#ff0000"/>
<rect x="482" y="150" width="1" height="20" fill="#ff0000"/>
<rect x="484" y="143" width="1" height="23" fill="#ff0000"/>
<rect x="486" y="142" width="1" height="17" fill="#32cd32"/>
<rect x="488" y="138" width="1" height="16" fill="#ff0000"/>
<rect x="490" y="133" width="1" height="14" fill="#32cd32"/>
<rect x="492" y="120" width="1" height="24" fill="#ff0000"/>
<rect x="494" y="116" width="1" height="17" fill="#ff0000"/>
<rect x="496" y="110" width="1" height="19" fill="#ff0000"/>
<rect x="498" y="100" width="1" height="16" fill="#ff0000"/>
<rect x="500" y="98" width="1" height="20" fill="#32cd32"/>
<rect x="502" y="107" width="1" height="22" fill="#ff0000"/>
<rect x="504" y="108" width="1" height="26" fill="#32cd32"/>
<rect x="506" y="116" width="1" height="24" fill="#32cd32"/>
<rect x="508" y="121" width="1" height="24" fill="#32cd32"/>
<rect x="510" y="123" width="1" height="25" fill="#ff0000"/>
<rect x="512" y="119" width="1" height="17" fill="#ff0000"/>
<rect x="514" y="121" width="1" height="2" fill="#000000"/>
<rect x="516" y="114" width="1" height="24" fill="#32cd32"/>
<rect x="518" y="120" width="1" height="20" fill="#ff0000"/>
<rect x="520" y="105" width="1" height="19" fill="#ff0000"/>
<rect x="522" y="101" width="1" height="12" fill="#ff0000"/>
<rect x="524" y="100" width="1" height="15" fill="#32cd32"/>
<rect x="526" y="109" width="1" height="20" fill="#32cd32"/>
<rect x="528" y="107" width="1" height="14" fill="#ff0000"/>
<rect x="530" y="103" width="1" height="16" fill="#32cd32"/>
<rect x="532" y="104" width="1" height="14" fill="#ff0000"/>
<rect x="534" y="104" width="1" height="13" fill="#32cd32"/>
<rect x="536" y="104" width="1" height="17" fill="#32cd32"/>
<rect x="538" y="115" width="1" height="11" fill="#32cd32"/>
<rect x="540" y="108" width="1" height="14" fill="#ff0000"/>
<rect x="542" y="109" width="1" height="14" fill="#ff0000"/>
<rect x="544" y="100" width="1" height="14" fill="#ff0000"/>
<rect x="546" y="93" width="1" height="19" fill="#ff0000"/>
<rect x="548" y="94" width="1" height="13" fill="#32cd32"/>
<rect x="550" y="104" width="1" height="14" fill="#32cd32"/>
<rect x="552" y="99" width="1" height="11" fill="#ff0000"/>
<rect x="554" y="88" width="1" height="20" fill="#ff0000"/>
<rect x="556" y="73" width="1" height="34" fill="#32cd32"/>
<rect x="558" y="91" width="1" height="13" fill="#ff0000"/>
<rect x="560" y="90" width="1" height="9" fill="#ff0000"/>
<rect x="562" y="88" width="1" height="12" fill="#ff0000"/>
<rect x="564" y="59" width="1" height="35" fill="#ff0000"/>
<rect x="566" y="55" width="1" height="39" fill="#32cd32"/>
<rect x="568" y="77" width="1" height="19" fill="#ff0000"/>
<rect x="570" y="74" width="1" height="24" fill="#32cd32"/>
<rect x="572" y="85" width="1" height="19" fill="#32cd32"/>
<rect x="574" y="79" width="1" height="22" fill="#ff0000"/>
<rect x="576" y="73" width="1" height="16" fill="#32cd32"/>
<rect x="578" y="71" width="1" height="24" fill="#ff0000"/>
<rect x="580" y="70" width="1" height="17" fill="#ff0000"/>
<rect x="582" y="58" width="1" height="21" fill="#ff0000"/>
<rect x="584" y="56" width="1" height="21" fill="#ff0000"/>
<rect x="586" y="54" width="1" height="26" fill="#32cd32"/>
<rect x="588" y="58" width="1" height="20" fill="#32cd32"/>
<rect x="590" y="59" width="1" height="15" fill="#ff0000"/>
<rect x="592" y="59" width="1" height="13" fill="#32cd32"/>
<rect x="594" y="57" width="1" height="16" fill="#ff0000"/>
<rect x="596" y="58" width="1" height="13" fill="#ff0000"/>
<rect x="598" y="52" width="1" height="20" fill="#ff0000"/>
<rect x="600" y="52" width="1" height="11" fill="#ff0000"/>
<rect x="602" y="50" width="1" height="12" fill="#32cd32"/>
<rect x="604" y="51" width="1" height="12" fill="#32cd32"/>
<rect x="606" y="51" width="1" height="12" fill="#ff0000"/>
<rect x="608" y="50" width="1" height="14" fill="#ff0000"/>
<rect x="610" y="49" width="1" height="25" fill="#32cd32"/>
<rect x="612" y="62" width="1" height="43" fill="#32cd32"/>
<rect x="614" y="93" width="1" height="26" fill="#32cd32"/>
<rect x="616" y="111" width="1" height="50" fill="#32cd32"/>
<rect x="618" y="141" width="1" height="33" fill="#32cd32"/>
<rect x="620" y="142" width="1" height="24" fill="#ff0000"/>
<rect x="622" y="137" width="1" height="41" fill="#ff0000"/>
<rect x="624" y="141" width="1" height="83" fill="#32cd32"/>
<rect x="626" y="208" width="1" height="63" fill="#32cd32"/>
<rect x="628" y="193" width="1" height="73" fill="#ff0000"/>
<rect x="630" y="178" width="1" height="35" fill="#32cd32"/>
<rect x="632" y="170" width="1" height="36" fill="#ff0000"/>
<rect x="634" y="149" width="1" height="32" fill="#ff0000"/>
<rect x="636" y="141" width="1" height="20" fill="#32cd32"/>
<rect x="638" y="141" width="1" height="25" fill="#32cd32"/>
<rect x="640" y="149" width="1" height="22" fill="#32cd32"/>
<rect x="642" y="162" width="1" height="13" fill="#ff0000"/>
<rect x="644" y="149" width="1" height="28" fill="#ff0000"/>
<rect x="646" y="149" width="1" height="19" fill="#32cd32"/>
<rect x="648" y="153" width="1" height="16" fill="#32cd32"/>
<rect x="650" y="152" width="1" height="17" fill="#ff0000"/>
<rect x="652" y="145" width="1" height="21" fill="#ff0000"/>
<rect x="654" y="149" width="1" height="11" fill="#32cd32"/>
<rect x="656" y="121" width="1" height="45" fill="#ff0000"/>
<rect x="658" y="133" width="1" height="24" fill="#ff0000"/>
<rect x="660" y="141" width="1" height="36" fill="#32cd32"/>
<rect x="662" y="153" width="1" height="19" fill="#ff0000"/>
<rect x="664" y="153" width="1" height="13" fill="#32cd32"/>
<rect x="666" y="151" width="1" height="20" fill="#ff0000"/>
<rect x="668" y="135" width="1" height="18" fill="#ff0000"/>
<rect x="670" y="136" width="1" height="16" fill="#32cd32"/>
<rect x="672" y="137" width="1" height="16" fill="#ff0000"/>
<rect x="674" y="135" width="1" height="17" fill="#32cd32"/>
<rect x="676" y="120" width="1" height="22" fill="#ff0000"/>
<rect x="678" y="119" width="1" height="14" fill="#32cd32"/>
<rect x="680" y="108" width="1" height="20" fill="#ff0000"/>
<rect x="682" y="105" width="1" height="14" fill="#32cd32"/>
<rect x="684" y="109" width="1" height="11" fill="#32cd32"/>
<rect x="686" y="102" width="1" height="17" fill="#ff0000"/>
<rect x="688" y="96" width="1" height="16" fill="#ff0000"/>
<rect x="690" y="96" width="1" height="22" fill="#32cd32"/>
<rect x="692" y="78" width="1" height="23" fill="#ff0000"/>
<rect x="694" y="71" width="1" height="21" fill="#32cd32"/>
<rect x="696" y="77" width="1" height="17" fill="#ff0000"/>
<rect x="698" y="73" width="1" height="10" fill="#32cd32"/>
<rect x="700" y="71" width="1" height="15" fill="#ff0000"/>
<rect x="702" y="68" width="1" height="46" fill="#32cd32"/>
<rect x="704" y="99" width="1" height="17" fill="#ff0000"/>
<rect x="706" y="86" width="1" height="23" fill="#ff0000"/>
<rect x="708" y="87" width="1" height="21" fill="#32cd32"/>
<rect x="710" y="98" width="1" height="15" fill="#32cd32"/>
<rect x="712" y="103" width="1" height="14" fill="#32cd32"/>
<rect x="714" y="97" width="1" height="28" fill="#ff0000"/>
<rect x="716" y="99" width="1" height="13" fill="#32cd32"/>
<rect x="718" y="97" width="1" height="12" fill="#ff0000"/>
<rect x="720" y="99" width="1" height="19" fill="#32cd32"/>
<rect x="722" y="104" width="1" height="10" fill="#32cd32"/>
<rect x="724" y="111" width="1" height="11" fill="#32cd32"/>
<rect x="726" y="111" width="1" height="24" fill="#32cd32"/>
<rect x="728" y="128" width="1" height="20" fill="#32cd32"/>
<rect x="730" y="117" width="1" height="29" fill="#ff0000"/>
<rect x="732" y="126" width="1" height="14" fill="#32cd32"/>
<rect x="734" y="130" width="1" height="36" fill="#32cd32"/>
<rect x="736" y="130" width="1" height="31" fill="#ff0000"/>
<rect x="738" y="129" width="1" height="30" fill="#32cd32"/>
<rect x="740" y="112" width="1" height="29" fill="#ff0000"/>
<rect x="742" y="113" width="1" height="19" fill="#32cd32"/>
<rect x="744" y="115" width="1" height="44" fill="#32cd32"/>
<rect x="746" y="149" width="1" height="25" fill="#32cd32"/>
<rect x="748" y="140" width="1" height="2" fill="#000000"/>
<rect x="750" y="127" width="1" height="29" fill="#ff0000"/>
<rect x="752" y="122" width="1" height="15" fill="#ff0000"/>
<rect x="754" y="123" width="1" height="13" fill="#ff0000"/>
<rect x="756" y="119" width="1" height="20" fill="#32cd32"/>
<rect x="758" y="122" width="1" height="16" fill="#ff0000"/>
<rect x="760" y="131" width="1" height="8" fill="#ff0000"/>
<rect x="762" y="117" width="1" height="19" fill="#ff0000"/>
<rect x="764" y="120" width="1" height="15" fill="#ff0000"/>
<rect x="766" y="114" width="1" height="22" fill="#ff0000"/>
<rect x="768" y="110" width="1" height="17" fill="#32cd32"/>
<rect x="770" y="112" width="1" height="12" fill="#ff0000"/>
<rect x="772" y="106" width="1" height="15" fill="#ff0000"/>
<rect x="774" y="102" width="1" height="17" fill="#32cd32"/>
<rect x="776" y="114" width="1" height="16" fill="#32cd32"/>
<rect x="778" y="122" width="1" height="15" fill="#32cd32"/>
<rect x="780" y="128" width="1" height="25" fill="#32cd32"/>
<rect x="782" y="140" width="1" height="15" fill="#ff0000"/>
<rect x="784" y="140" width="1" height="16" fill="#ff0000"/>
<rect x="786" y="135" width="1" height="20" fill="#32cd32"/>
<rect x="788" y="139" width="1" height="17" fill="#ff0000"/>
<rect x="790" y="137" width="1" height="13" fill="#32cd32"/>
<rect x="792" y="139" width="1" height="10" fill="#ff0000"/>
<rect x="794" y="139" width="1" height="9" fill="#ff0000"/>
<rect x="796" y="137" width="1" height="14" fill="#ff0000"/>
<rect x="798" y="130" width="1" height="20" fill="#ff0000"/>
<rect x="800" y="122" width="1" height="17" fill="#ff0000"/>
<rect x="802" y="108" width="1" height="19" fill="#ff0000"/>
<rect x="804" y="110" width="1" height="11" fill="#32cd32"/>
<rect x="806" y="108" width="1" height="12" fill="#ff0000"/>
<rect x="808" y="111" width="1" height="12" fill="#32cd32"/>
<rect x="810" y="118" width="1" height="20" fill="#32cd32"/>
<rect x="812" y="122" width="1" height="17" fill="#ff0000"/>
<rect x="814" y="119" width="1" height="10" fill="#32cd32"/>
<rect x="816" y="115" width="1" height="11" fill="#ff0000"/>
<rect x="818" y="98" width="1" height="23" fill="#ff0000"/>
<rect x="820" y="103" width="1" height="15" fill="#32cd32"/>
<rect x="822" y="99" width="1" height="35" fill="#ff0000"/>
<rect x="824" y="104" width="1" height="14" fill="#32cd32"/>
<rect x="826" y="97" width="1" height="19" fill="#ff0000"/>
<rect x="828" y="88" width="1" height="13" fill="#ff0000"/>
<rect x="830" y="91" width="1" height="12" fill="#32cd32"/>
<rect x="832" y="94" width="1" height="12" fill="#32cd32"/>
<rect x="834" y="95" width="1" height="12" fill="#32cd32"/>
<rect x="836" y="91" width="1" height="11" fill="#ff0000"/>
<rect x="838" y="87" width="1" height="14" fill="#ff0000"/>
<rect x="840" y="91" width="1" height="44" fill="#32cd32"/>
<rect x="842" y="118" width="1" height="11" fill="#ff0000"/>
<rect x="844" y="110" width="1" height="18" fill="#32cd32"/>
<rect x="846" y="121" width="1" height="18" fill="#32cd32"/>
<rect x="848" y="111" width="1" height="17" fill="#ff0000"/>
<rect x="850" y="116" width="1" height="20" fill="#32cd32"/>
<rect x="852" y="117" width="1" height="19" fill="#32cd32"/>
<rect x="854" y="119" width="1" height="15" fill="#32cd32"/>
<rect x="856" y="114" width="1" height="17" fill="#ff0000"/>
<rect x="858" y="113" width="1" height="12" fill="#ff0000"/>
<rect x="860" y="107" width="1" height="17" fill="#ff0000"/>
<rect x="862" y="92" width="1" height="30" fill="#ff0000"/>
<rect x="864" y="91" width="1" height="20" fill="#32cd32"/>
<rect x="866" y="145" width="1" height="16" fill="#32cd32"/>
<rect x="868" y="159" width="1" height="70" fill="#32cd32"/>
<rect x="870" y="200" width="1" height="29" fill="#ff0000"/>
<rect x="872" y="195" width="1" height="29" fill="#32cd32"/>
<rect x="874" y="222" width="1" height="18" fill="#32cd32"/>
<rect x="876" y="224" width="1" height="16" fill="#32cd32"/>
<rect x="878" y="222" width="1" height="53" fill="#32cd32"/>
<rect x="880" y="273" width="1" height="36" fill="#32cd32"/>
<rect x="882" y="287" width="1" height="34" fill="#32cd32"/>
<rect x="884" y="282" width="1" height="41" fill="#ff0000"/>
<rect x="886" y="273" width="1" height="24" fill="#ff0000"/>
<rect x="888" y="270" width="1" height="21" fill="#ff0000"/>
<rect x="890" y="245" width="1" height="42" fill="#ff0000"/>
<rect x="892" y="238" width="1" height="24" fill="#32cd32"/>
<rect x="894" y="245" width="1" height="26" fill="#32cd32"/>
<rect x="896" y="253" width="1" height="17" fill="#ff0000"/>
<rect x="898" y="254" width="1" height="12" fill="#32cd32"/>
<rect x="900" y="248" width="1" height="22" fill="#ff0000"/>
<rect x="902" y="217" width="1" height="32" fill="#ff0000"/>
<rect x="904" y="188" width="1" height="39" fill="#ff0000"/>
<rect x="906" y="178" width="1" height="48" fill="#ff0000"/>
<rect x="908" y="191" width="1" height="37" fill="#32cd32"/>
<rect x="910" y="198" width="1" height="23" fill="#ff0000"/>
<rect x="912" y="213" width="1" height="22" fill="#32cd32"/>
<rect x="914" y="208" width="1" height="44" fill="#32cd32"/>
<rect x="916" y="217" width="1" height="31" fill="#ff0000"/>
<rect x="918" y="206" width="1" height="26" fill="#32cd32"/>
<rect x="920" y="208" width="1" height="34" fill="#32cd32"/>
<rect x="922" y="205" width="1" height="23" fill="#ff0000"/>
<rect x="924" y="219" width="1" height="2" fill="#000000"/>
<rect x="926" y="186" width="1" height="25" fill="#32cd32"/>
<rect x="928" y="157" width="1" height="41" fill="#ff0000"/>
<rect x="930" y="158" width="1" height="20" fill="#ff0000"/>
<rect x="932" y="156" width="1" height="21" fill="#ff0000"/>
<rect x="934" y="154" width="1" height="19" fill="#32cd32"/>
<rect x="936" y="156" width="1" height="18" fill="#32cd32"/>
<rect x="938" y="151" width="1" height="46" fill="#32cd32"/>
<rect x="940" y="178" width="1" height="26" fill="#ff0000"/>
<rect x="942" y="169" width="1" height="35" fill="#32cd32"/>
<rect x="944" y="182" width="1" height="22" fill="#ff0000"/>
<rect x="946" y="173" width="1" height="33" fill="#32cd32"/>
<rect x="948" y="178" width="1" height="29" fill="#32cd32"/>
<rect x="950" y="201" width="1" height="30" fill="#32cd32"/>
<rect x="952" y="202" width="1" height="21" fill="#ff0000"/>
<rect x="954" y="205" width="1" height="12" fill="#ff0000"/>
<rect x="956" y="209" width="1" height="33" fill="#32cd32"/>
<rect x="958" y="230" width="1" height="19" fill="#32cd32"/>
<rect x="960" y="236" width="1" height="14" fill="#32cd32"/>
<rect x="962" y="233" width="1" height="17" fill="#32cd32"/>
<rect x="964" y="238" width="1" height="30" fill="#32cd32"/>
<rect x="966" y="221" width="1" height="40" fill="#ff0000"/>
<rect x="968" y="212" width="1" height="31" fill="#ff0000"/>
<rect x="970" y="219" width="1" height="14" fill="#32cd32"/>
<rect x="972" y="219" width="1" height="14" fill="#ff0000"/>
<rect x="974" y="205" width="1" height="15" fill="#ff0000"/>
<rect x="976" y="192" width="1" height="24" fill="#ff0000"/>
<rect x="978" y="175" width="1" height="27" fill="#ff0000"/>
<rect x="980" y="170" width="1" height="20" fill="#ff0000"/>
<rect x="982" y="183" width="1" height="16" fill="#32cd32"/>
<rect x="984" y="181" width="1" height="17" fill="#32cd32"/>
<rect x="986" y="189" width="1" height="15" fill="#32cd32"/>
<rect x="988" y="186" width="1" height="15" fill="#32cd32"/>
<rect x="990" y="188" width="1" height="13" fill="#32cd32"/>
<rect x="992" y="189" width="1" height="12" fill="#32cd32"/>
<rect x="994" y="189" width="1" height="11" fill="#32cd32"/>
<rect x="996" y="191" width="1" height="24" fill="#32cd32"/>
<rect x="998" y="190" width="1" height="19" fill="#ff0000"/>
<rect x="1000" y="192" width="1" height="15" fill="#32cd32"/>
<rect x="1002" y="193" width="1" height="21" fill="#ff0000"/>
<rect x="1004" y="192" width="1" height="20" fill="#32cd32"/>
<rect x="1006" y="204" width="1" height="14" fill="#32cd32"/>
<rect x="1008" y="203" width="1" height="15" fill="#32cd32"/>
<rect x="1010" y="198" width="1" height="19" fill="#ff0000"/>
<rect x="1012" y="193" width="1" height="12" fill="#ff0000"/>
<rect x="1014" y="193" width="1" height="18" fill="#ff0000"/>
<rect x="1016" y="182" width="1" height="34" fill="#ff0000"/>
<rect x="1018" y="176" width="1" height="17" fill="#32cd32"/>
<rect x="1020" y="166" width="1" height="27" fill="#ff0000"/>
<rect x="1022" y="163" width="1" height="27" fill="#32cd32"/>
<rect x="1024" y="181" width="1" height="42" fill="#32cd32"/>
<rect x="1026" y="192" width="1" height="26" fill="#32cd32"/>
<rect x="1028" y="188" width="1" height="20" fill="#32cd32"/>
<rect x="1030" y="202" width="1" height="6" fill="#32cd32"/>
<rect x="1032" y="195" width="1" height="21" fill="#ff0000"/>
<rect x="1034" y="178" width="1" height="25" fill="#ff0000"/>
<rect x="1036" y="164" width="1" height="22" fill="#ff0000"/>
<rect x="1038" y="163" width="1" height="19" fill="#ff0000"/>
<rect x="1040" y="157" width="1" height="16" fill="#ff0000"/>
<rect x="1042" y="153" width="1" height="13" fill="#32cd32"/>
<rect x="818" y="135" width="303" height="2" fill="#ff2020"/>
<rect x="776" y="155" width="340" height="2" fill="#8cc800"/>
<rect x="1001" y="217" width="129" height="2" fill="#2080e0"/>
<rect x="900" y="267" width="246" height="2" fill="#2080e0"/>
<rect x="1309" y="154" width="40" height="11" fill="#000"/>
</g>
<path d="M4.5,294V296M5.5,296V297M6.5,297V298M7.5,298V300M8.5,300V301M9.5,300V301M10.5,300V301M11.5,300V301M12.5,300V301M13.5,300V301M14.5,300V301M15.5,300V301M16.5,300V301M17.5,300V301M18.5,299V301M19.5,297V299M20.5,295V297M21.5,293V295M22.5,291V293M23.5,288V291M24.5,285V288M25.5,282V285M26.5,279V282M27.5,276V279M28.5,273V276M29.5,270V273M30.5,267V270M31.5,264V267M32.5,261V264M33.5,258V261M34.5,256V258M35.5,255V256M36.5,254V255M37.5,253V254M38.5,252V254M39.5,254V257M40.5,257V259M41.5,259V261M42.5,261V263M43.5,263V265M44.5,265V268M45.5,268V271M46.5,271V274M47.5,274V277M48.5,277V280M49.5,280V284M50.5,284V289M51.5,289V293M52.5,293V299M53.5,299V303M54.5,303V308M55.5,308V313M56.5,313V318M57.5,318V323M58.5,323V329M59.5,329V335M60.5,335V340M61.5,340V344M62.5,344V349M63.5,349V353M64.5,353V357M65.5,357V361M66.5,361V364M67.5,364V366M68.5,365V366M69.5,365V366M70.5,364V366M71.5,362V364M72.5,360V362M73.5,359V360M74.5,358V359M75.5,357V358M76.5,357V358M77.5,356V357M78.5,355V356M79.5,353V355M80.5,351V353M81.5,349V351M82.5,347V349M83.5,346V347M84.5,343V346M85.5,339V343M86.5,335V339M87.5,331V335M88.5,328V331M89.5,325V328M90.5,321V325M91.5,317V321M92.5,314V317M93.5,311V314M94.5,308V311M95.5,305V308M96.5,302V305M97.5,299V302M98.5,297V299M99.5,294V297M100.5,291V294M101.5,289V291M102.5,287V289M103.5,285V287M104.5,284V285M105.5,283V284M106.5,282V283M107.5,281V282M108.5,280V281M109.5,280V281M110.5,279V280M111.5,280V281M112.5,280V281M113.5,281V282M114.5,281V282M115.5,282V284M116.5,284V285M117.5,285V286M118.5,286V288M119.5,288V289M120.5,289V290M121.5,289V290M122.5,289V290M123.5,289V290M124.5,289V290M125.5,289V290M126.5,289V290M127.5,290V291M128.5,290V291M129.5,289V290M130.5,288V289M131.5,287V288M132.5,286V287M133.5,285V286M134.5,285V286M135.5,284V285M136.5,283V284M137.5,282V283M138.5,282V283M139.5,282V283M140.5,281V282M141.5,280V281M142.5,280V281M143.5,280V281M144.5,279V280M145.5,279V280M146.5,279V280M147.5,278V279M148.5,278V279M149.5,278V279M150.5,279V280M151.5,280V281M152.5,280V281M153.5,281V282M154.5,282V283M155.5,282V283M156.5,282V283M157.5,282V283M158.5,282V283M159.5,282V283M160.5,282V283M161.5,281V282M162.5,279V281M163.5,278V279M164.5,277V278M165.5,275V277M166.5,273V275M167.5,272V273M168.5,271V272M169.5,269V271M170.5,267V269M171.5,266V267M172.5,264V266M173.5,262V264M174.5,260V262M175.5,259V260M176.5,257V259M177.5,255V257M178.5,253V255M179.5,251V253M180.5,249V251M181.5,248V249M182.5,246V248M183.5,244V246M184.5,243V244M185.5,241V243M186.5,240V241M187.5,239V240M188.5,239V240M189.5,238V239M190.5,238V239M191.5,237V238M192.5,237V238M193.5,236V237M194.5,236V237M195.5,237V239M196.5,239V240M197.5,240V242M198.5,242V244M199.5,244V246M200.5,246V248M201.5,248V250M202.5,250V252M203.5,252V253M204.5,253V255M205.5,255V257M206.5,257V258M207.5,258V260M208.5,260V262M209.5,262V264M210.5,264V266M211.5,266V268M212.5,268V270M213.5,270V272M214.5,272V274M215.5,274V275M216.5,275V276M217.5,276V278M218.5,278V279M219.5,279V280M220.5,280V281M221.5,281V282M222.5,281V283M223.5,280V281M224.5,279V280M225.5,277V279M226.5,275V277M227.5,273V275M228.5,271V273M229.5,270V271M230.5,268V270M231.5,266V268M232.5,264V266M233.5,262V264M234.5,260V262M235.5,258V260M236.5,256V258M237.5,254V256M238.5,253V254M239.5,251V253M240.5,249V251M241.5,248V249M242.5,247V248M243.5,245V247M244.5,244V245M245.5,244V245M246.5,244V245M247.5,243V244M248.5,243V244M249.5,244V246M250.5,246V247M251.5,247V248M252.5,248V249M253.5,249V250M254.5,250V251M255.5,251V252M256.5,252V254M257.5,254V255M258.5,255V256M259.5,256V257M260.5,257V259M261.5,259V261M262.5,261V264M263.5,264V266M264.5,266V268M265.5,268V271M266.5,271V273M267.5,273V276M268.5,276V277M269.5,277V279M270.5,279V280M271.5,280V281M272.5,281V283M273.5,283V284M274.5,284V285M275.5,284V285M276.5,285V286M277.5,285V286M278.5,286V287M279.5,286V287M280.5,285V286M281.5,285V286M282.5,284V285M283.5,284V285M284.5,283V284M285.5,282V283M286.5,281V282M287.5,280V281M288.5,279V280M289.5,278V279M290.5,277V278M291.5,276V277M292.5,275V276M293.5,273V275M294.5,271V273M295.5,269V271M296.5,267V269M297.5,265V267M298.5,263V265M299.5,261V263M300.5,259V261M301.5,257V259M302.5,255V257M303.5,253V255M304.5,251V253M305.5,250V251M306.5,249V250M307.5,248V249M308.5,247V248M309.5,246V247M310.5,245V246M311.5,244V245M312.5,243V244M313.5,242V243M314.5,241V242M315.5,240V241M316.5,239V240M317.5,238V239M318.5,238V239M319.5,237V238M320.5,236V237M321.5,235V236M322.5,234V235M323.5,233V234M324.5,232V233M325.5,231V232M326.5,230V231M327.5,230V231M328.5,229V230M329.5,228V229M330.5,227V228M331.5,227V228M332.5,227V228M333.5,227V228M334.5,227V228M335.5,226V227M336.5,226V227M337.5,226V227M338.5,226V227M339.5,226V227M340.5,226V227M341.5,226V227M342.5,225V226M343.5,224V225M344.5,224V225M345.5,224V225M346.5,223V224M347.5,223V224M348.5,222V223M349.5,222V223M350.5,221V222M351.5,221V222M352.5,221V222M353.5,221V222M354.5,221V222M355.5,221V222M356.5,221V222M357.5,221V222M358.5,221V222M359.5,220V221M360.5,220V221M361.5,220V221M362.5,219V220M363.5,219V220M364.5,219V220M365.5,218V219M366.5,217V218M367.5,216V217M368.5,216V217M369.5,215V216M370.5,214V215M371.5,214V215M372.5,213V214M373.5,212V213M374.5,211V212M375.5,210V211M376.5,210V211M377.5,209V210M378.5,208V209M379.5,208V209M380.5,207V208M381.5,206V207M382.5,206V207M383.5,206V207M384.5,205V206M385.5,204V205M386.5,204V205M387.5,203V204M388.5,201V203M389.5,200V201M390.5,199V200M391.5,198V199M392.5,197V198M393.5,196V197M394.5,195V196M395.5,194V195M396.5,194V195M397.5,193V194M398.5,192V193M399.5,191V192M400.5,189V191M401.5,187V189M402.5,185V187M403.5,183V185M404.5,181V183M405.5,179V181M406.5,177V179M407.5,176V177M408.5,174V176M409.5,172V174M410.5,170V172M411.5,169V170M412.5,167V169M413.5,166V167M414.5,165V166M415.5,164V165M416.5,162V164M417.5,161V162M418.5,160V161M419.5,159V160M420.5,158V159M421.5,156V158M422.5,155V156M423.5,154V155M424.5,152V154M425.5,151V152M426.5,150V151M427.5,149V150M428.5,148V149M429.5,148V149M430.5,147V148M431.5,147V148M432.5,147V148M433.5,147V148M434.5,147V148M435.5,146V147M436.5,145V146M437.5,144V146M438.5,146V147M439.5,147V149M440.5,149V151M441.5,151V154M442.5,154V157M443.5,157V160M444.5,160V162M445.5,162V164M446.5,164V165M447.5,164V165M448.5,165V166M449.5,166V167M450.5,166V167M451.5,166V167M452.5,167V168M453.5,168V169M454.5,168V169M455.5,168V169M456.5,169V170M457.5,170V171M458.5,170V171M459.5,171V172M460.5,172V173M461.5,173V174M462.5,174V175M463.5,175V176M464.5,175V177M465.5,174V175M466.5,172V174M467.5,171V172M468.5,169V171M469.5,167V169M470.5,166V167M471.5,164V166M472.5,163V164M473.5,162V163M474.5,161V162M475.5,160V161M476.5,159V160M477.5,159V160M478.5,159V160M479.5,159V160M480.5,159V160M481.5,159V160M482.5,159V160M483.5,159V160M484.5,159V160M485.5,159V160M486.5,158V159M487.5,158V159M488.5,157V158M489.5,157V158M490.5,156V157M491.5,155V156M492.5,154V155M493.5,154V155M494.5,153V154M495.5,151V153M496.5,149V151M497.5,147V149M498.5,145V147M499.5,143V145M500.5,141V143M501.5,139V141M502.5,137V139M503.5,134V137M504.5,132V134M505.5,131V132M506.5,130V131M507.5,130V131M508.5,129V130M509.5,128V129M510.5,127V128M511.5,127V128M512.5,126V127M513.5,125V126M514.5,125V126M515.5,124V125M516.5,124V125M517.5,123V124M518.5,122V123M519.5,122V123M520.5,121V122M521.5,121V122M522.5,120V121M523.5,120V121M524.5,119V120M525.5,119V120M526.5,119V120M527.5,119V120M528.5,119V120M529.5,119V120M530.5,119V120M531.5,119V120M532.5,118V119M533.5,118V119M534.5,117V118M535.5,117V118M536.5,117V118M537.5,116V117M538.5,116V117M539.5,115V116M540.5,115V116M541.5,114V115M542.5,114V115M543.5,114V115M544.5,113V114M545.5,112V113M546.5,112V113M547.5,112V113M548.5,111V112M549.5,110V111M550.5,110V111M551.5,110V111M552.5,109V110M553.5,108V109M554.5,108V109M555.5,108V109M556.5,107V108M557.5,106V107M558.5,106V107M559.5,106V107M560.5,105V106M561.5,104V105M562.5,104V105M563.5,103V104M564.5,102V103M565.5,101V102M566.5,100V101M567.5,99V100M568.5,98V99M569.5,97V98M570.5,96V97M571.5,95V96M572.5,94V95M573.5,93V94M574.5,92V93M575.5,92V93M576.5,91V92M577.5,90V91M578.5,90V91M579.5,89V90M580.5,88V89M581.5,87V88M582.5,86V87M583.5,85V86M584.5,83V85M585.5,82V83M586.5,81V82M587.5,80V81M588.5,79V80M589.5,78V79M590.5,77V78M591.5,76V77M592.5,75V76M593.5,74V75M594.5,73V74M595.5,72V73M596.5,72V73M597.5,71V72M598.5,70V71M599.5,69V70M600.5,68V69M601.5,67V68M602.5,66V67M603.5,66V67M604.5,65V66M605.5,64V65M606.5,63V64M607.5,63V64M608.5,62V63M609.5,61V62M610.5,62V63M611.5,63V64M612.5,64V65M613.5,65V66M614.5,66V68M615.5,68V71M616.5,71V73M617.5,73V76M618.5,76V79M619.5,79V81M620.5,81V85M621.5,85V89M622.5,89V93M623.5,93V97M624.5,97V100M625.5,100V105M626.5,105V113M627.5,113V119M628.5,119V125M629.5,125V130M630.5,130V136M631.5,136V142M632.5,142V147M633.5,147V151M634.5,151V155M635.5,155V158M636.5,158V161M637.5,161V164M638.5,164V167M639.5,167V170M640.5,170V172M641.5,172V173M642.5,173V174M643.5,174V175M644.5,174V175M645.5,174V175M646.5,174V175M647.5,174V175M648.5,174V175M649.5,174V175M650.5,175V176M651.5,174V176M652.5,171V174M653.5,170V171M654.5,169V170M655.5,166V169M656.5,162V166M657.5,159V162M658.5,158V159M659.5,157V158M660.5,157V158M661.5,157V158M662.5,157V158M663.5,157V158M664.5,157V158M665.5,157V158M666.5,157V158M667.5,156V157M668.5,156V157M669.5,155V156M670.5,154V155M671.5,154V155M672.5,153V154M673.5,152V153M674.5,151V153M675.5,150V151M676.5,149V150M677.5,147V149M678.5,146V147M679.5,145V146M680.5,143V145M681.5,142V143M682.5,141V142M683.5,140V141M684.5,139V140M685.5,137V139M686.5,136V137M687.5,135V136M688.5,133V135M689.5,130V133M690.5,128V130M691.5,125V128M692.5,123V125M693.5,121V123M694.5,118V121M695.5,116V118M696.5,114V116M697.5,111V114M698.5,109V111M699.5,107V109M700.5,105V107M701.5,104V105M702.5,102V104M703.5,100V102M704.5,99V100M705.5,98V99M706.5,97V98M707.5,97V98M708.5,96V97M709.5,95V96M710.5,95V96M711.5,95V96M712.5,95V96M713.5,95V96M714.5,95V96M715.5,95V96M716.5,95V96M717.5,95V96M718.5,95V96M719.5,96V98M720.5,98V99M721.5,99V100M722.5,100V102M723.5,102V103M724.5,103V105M725.5,105V107M726.5,107V108M727.5,108V110M728.5,110V111M729.5,111V113M730.5,113V114M731.5,114V115M732.5,115V117M733.5,117V118M734.5,118V119M735.5,119V120M736.5,120V122M737.5,122V123M738.5,123V124M739.5,124V125M740.5,124V125M741.5,125V126M742.5,125V126M743.5,126V128M744.5,128V130M745.5,130V131M746.5,131V132M747.5,132V133M748.5,133V134M749.5,134V135M750.5,135V136M751.5,135V136M752.5,135V136M753.5,135V136M754.5,135V136M755.5,135V136M756.5,135V136M757.5,135V136M758.5,135V136M759.5,136V137M760.5,136V137M761.5,135V136M762.5,134V135M763.5,133V134M764.5,132V133M765.5,132V133M766.5,132V133M767.5,132V133M768.5,132V133M769.5,132V133M770.5,131V133M771.5,130V131M772.5,129V130M773.5,128V129M774.5,127V128M775.5,126V127M776.5,125V126M777.5,125V126M778.5,126V127M779.5,126V127M780.5,126V127M781.5,126V127M782.5,127V128M783.5,127V128M784.5,127V128M785.5,128V129M786.5,128V129M787.5,129V130M788.5,129V130M789.5,130V131M790.5,131V132M791.5,131V132M792.5,132V133M793.5,133V134M794.5,134V135M795.5,134V135M796.5,135V136M797.5,136V137M798.5,137V138M799.5,137V138M800.5,137V138M801.5,137V138M802.5,137V138M803.5,137V138M804.5,137V138M805.5,136V137M806.5,136V137M807.5,135V136M808.5,134V135M809.5,134V135M810.5,133V134M811.5,132V133M812.5,131V132M813.5,130V131M814.5,130V131M815.5,129V130M816.5,128V129M817.5,127V128M818.5,125V127M819.5,124V125M820.5,123V124M821.5,121V123M822.5,120V121M823.5,119V120M824.5,118V119M825.5,117V118M826.5,116V117M827.5,116V117M828.5,115V116M829.5,114V115M830.5,113V114M831.5,112V113M832.5,112V113M833.5,111V112M834.5,110V111M835.5,109V110M836.5,108V109M837.5,108V109M838.5,107V108M839.5,107V108M840.5,107V108M841.5,106V107M842.5,106V107M843.5,106V107M844.5,106V107M845.5,106V107M846.5,107V108M847.5,108V109M848.5,108V109M849.5,108V109M850.5,109V110M851.5,110V111M852.5,111V112M853.5,112V113M854.5,112V113M855.5,113V114M856.5,114V115M857.5,115V116M858.5,115V116M859.5,115V116M860.5,115V116M861.5,116V117M862.5,116V117M863.5,116V117M864.5,116V118M865.5,118V120M866.5,120V122M867.5,122V125M868.5,125V127M869.5,127V131M870.5,131V134M871.5,134V137M872.5,137V141M873.5,141V145M874.5,145V150M875.5,150V155M876.5,155V160M877.5,160V166M878.5,166V172M879.5,172V178M880.5,178V183M881.5,183V188M882.5,188V193M883.5,193V198M884.5,198V204M885.5,204V210M886.5,210V216M887.5,216V222M888.5,222V228M889.5,228V233M890.5,233V238M891.5,238V244M892.5,244V249M893.5,249V252M894.5,252V255M895.5,255V259M896.5,259V261M897.5,261V262M898.5,262V264M899.5,264V265M900.5,265V266M901.5,264V265M902.5,264V265M903.5,263V264M904.5,261V263M905.5,259V261M906.5,256V259M907.5,253V256M908.5,251V253M909.5,248V251M910.5,246V248M911.5,243V246M912.5,241V243M913.5,240V241M914.5,238V240M915.5,236V238M916.5,235V236M917.5,233V235M918.5,232V233M919.5,231V232M920.5,229V231M921.5,228V229M922.5,226V228M923.5,224V226M924.5,222V224M925.5,219V222M926.5,217V219M927.5,215V217M928.5,213V215M929.5,211V213M930.5,209V211M931.5,207V209M932.5,205V207M933.5,203V205M934.5,202V203M935.5,201V202M936.5,200V201M937.5,199V200M938.5,198V199M939.5,197V198M940.5,195V197M941.5,193V195M942.5,192V193M943.5,190V192M944.5,189V190M945.5,188V189M946.5,188V189M947.5,187V188M948.5,186V187M949.5,186V187M950.5,186V187M951.5,186V187M952.5,186V187M953.5,186V187M954.5,187V189M955.5,189V190M956.5,190V192M957.5,192V195M958.5,195V198M959.5,198V201M960.5,201V204M961.5,204V206M962.5,206V209M963.5,209V212M964.5,212V214M965.5,214V216M966.5,216V217M967.5,217V219M968.5,219V221M969.5,221V222M970.5,222V224M971.5,224V226M972.5,226V227M973.5,227V228M974.5,226V227M975.5,226V227M976.5,226V227M977.5,225V226M978.5,224V225M979.5,222V224M980.5,221V222M981.5,220V221M982.5,218V220M983.5,217V218M984.5,215V217M985.5,213V215M986.5,212V213M987.5,210V212M988.5,209V210M989.5,207V209M990.5,205V207M991.5,204V205M992.5,203V204M993.5,201V203M994.5,200V201M995.5,199V200M996.5,199V200M997.5,198V199M998.5,197V198M999.5,196V197M1000.5,196V197M1001.5,195V196M1002.5,195V196M1003.5,194V195M1004.5,195V196M1005.5,196V197M1006.5,197V198M1007.5,198V199M1008.5,198V199M1009.5,199V200M1010.5,200V201M1011.5,200V201M1012.5,200V201M1013.5,200V201M1014.5,200V201M1015.5,200V201M1016.5,199V200M1017.5,199V200M1018.5,199V200M1019.5,199V200M1020.5,198V199M1021.5,198V199M1022.5,198V199M1023.5,197V198M1024.5,197V198M1025.5,197V198M1026.5,197V198M1027.5,197V198M1028.5,197V198M1029.5,197V198M1030.5,197V198M1031.5,197V198M1032.5,197V198M1033.5,196V197M1034.5,195V196M1035.5,193V195M1036.5,192V193M1037.5,191V192M1038.5,190V191M1039.5,188V190M1040.5,187V188M1041.5,186V187" fill="none" stroke="#ff0000" stroke-width="1" shape-rendering="crispEdges"/>
<path d="M4.5,524V525M5.5,524V525M6.5,524V525M7.5,524V525M8.5,524V525M9.5,523V524M10.5,521V523M11.5,520V521M12.5,519V520M13.5,520V521M14.5,521V522M15.5,519V521M16.5,518V519M17.5,517V518M18.5,517V518M19.5,517V518M20.5,515V517M21.5,513V515M22.5,512V513M23.5,511V512M24.5,510V511M25.5,510V511M26.5,508V510M27.5,507V508M28.5,506V507M29.5,505V506M30.5,504V506M31.5,506V508M32.5,508V510M33.5,510V511M34.5,510V511M35.5,511V513M36.5,513V516M37.5,516V521M38.5,521V525M39.5,525V527M40.5,527V529M41.5,528V529M42.5,529V530M43.5,530V531M44.5,529V530M45.5,529V530M46.5,528V529M47.5,527V528M48.5,526V527M49.5,525V526M50.5,526V528M51.5,528V530M52.5,530V531M53.5,529V530M54.5,529V530M55.5,529V530M56.5,528V530M57.5,525V528M58.5,523V525M59.5,524V525M60.5,525V526M61.5,526V527M62.5,526V527M63.5,526V527M64.5,526V527M65.5,525V526M66.5,524V525M67.5,523V524M68.5,522V523M69.5,522V523M70.5,520V522M71.5,517V520M72.5,514V517M73.5,513V514M74.5,512V514M75.5,514V516M76.5,516V518M77.5,517V518M78.5,517V518M79.5,516V517M80.5,515V517M81.5,514V515M82.5,513V514M83.5,511V513M84.5,510V511M85.5,510V511M86.5,510V511M87.5,509V510M88.5,507V509M89.5,505V507M90.5,504V505M91.5,504V505M92.5,504V507M93.5,507V510M94.5,510V512M95.5,511V512M96.5,511V512M97.5,511V512M98.5,512V513M99.5,512V513M100.5,513V514M101.5,513V514M102.5,514V515M103.5,513V514M104.5,512V514M105.5,514V515M106.5,515V516M107.5,516V518M108.5,518V519M109.5,518V519M110.5,518V519M111.5,517V518M112.5,517V518M113.5,517V518M114.5,517V518M115.5,517V518M116.5,517V518M117.5,517V518M118.5,517V519M119.5,515V517M120.5,513V515M121.5,511V513M122.5,511V512M123.5,511V512M124.5,512V513M125.5,512V513M126.5,512V513M127.5,512V513M128.5,511V512M129.5,511V512M130.5,510V511M131.5,509V510M132.5,508V510M133.5,510V512M134.5,512V514M135.5,514V515M136.5,515V516M137.5,516V517M138.5,517V518M139.5,517V518M140.5,516V518M141.5,514V516M142.5,513V514M143.5,514V516M144.5,516V518M145.5,518V519M146.5,519V520M147.5,517V519M148.5,515V517M149.5,515V517M150.5,517V518M151.5,518V519M152.5,518V520M153.5,516V518M154.5,515V516M155.5,515V516M156.5,514V515M157.5,514V515M158.5,513V515M159.5,511V513M160.5,509V511M161.5,508V509M162.5,508V509M163.5,508V509M164.5,508V509M165.5,508V509M166.5,508V509M167.5,508V509M168.5,509V510M169.5,509V511M170.5,508V509M171.5,509V510M172.5,510V512M173.5,512V513M174.5,511V512M175.5,510V511M176.5,511V512M177.5,510V513M178.5,508V510M179.5,509V511M180.5,511V512M181.5,510V511M182.5,509V510M183.5,508V509M184.5,509V510M185.5,509V510M186.5,509V510M187.5,509V510M188.5,509V510M189.5,508V509M190.5,507V508M191.5,508V510M192.5,510V511M193.5,509V510M194.5,509V512M195.5,512V518M196.5,518V523M197.5,523V527M198.5,527V528M199.5,526V527M200.5,524V526M201.5,523V524M202.5,522V523M203.5,520V522M204.5,519V520M205.5,520V521M206.5,521V522M207.5,522V523M208.5,521V522M209.5,520V521M210.5,521V522M211.5,522V523M212.5,520V522M213.5,519V520M214.5,518V520M215.5,520V521M216.5,521V522M217.5,519V521M218.5,517V519M219.5,515V517M220.5,512V515M221.5,510V512M222.5,510V511M223.5,509V510M224.5,510V511M225.5,511V512M226.5,511V512M227.5,512V513M228.5,512V513M229.5,513V514M230.5,514V515M231.5,513V515M232.5,512V513M233.5,509V512M234.5,507V509M235.5,509V513M236.5,513V516M237.5,515V516M238.5,514V515M239.5,513V514M240.5,514V515M241.5,515V516M242.5,516V517M243.5,517V518M244.5,518V519M245.5,518V519M246.5,519V520M247.5,519V520M248.5,520V521M249.5,521V522M250.5,521V522M251.5,521V522M252.5,520V521M253.5,519V520M254.5,519V520M255.5,518V519M256.5,518V519M257.5,518V519M258.5,519V520M259.5,520V521M260.5,520V522M261.5,522V524M262.5,524V525M263.5,522V524M264.5,521V522M265.5,522V524M266.5,524V525M267.5,524V525M268.5,524V525M269.5,524V525M270.5,524V525M271.5,523V524M272.5,523V524M273.5,522V523M274.5,522V523M275.5,521V522M276.5,519V521M277.5,518V519M278.5,516V518M279.5,512V516M280.5,510V512M281.5,511V512M282.5,512V513M283.5,513V514M284.5,514V515M285.5,513V514M286.5,512V513M287.5,511V512M288.5,510V511M289.5,510V511M290.5,511V512M291.5,512V513M292.5,513V514M293.5,514V515M294.5,513V514M295.5,511V513M296.5,510V511M297.5,509V510M298.5,510V511M299.5,510V511M300.5,511V512M301.5,511V512M302.5,511V512M303.5,511V512M304.5,511V512M305.5,510V511M306.5,509V510M307.5,508V509M308.5,507V508M309.5,506V507M310.5,507V508M311.5,507V508M312.5,508V509M313.5,508V509M314.5,508V510M315.5,510V513M316.5,513V515M317.5,512V514M318.5,511V512M319.5,510V511M320.5,509V510M321.5,509V510M322.5,509V510M323.5,508V509M324.5,507V508M325.5,506V507M326.5,507V508M327.5,508V509M328.5,509V511M329.5,511V512M330.5,512V513M331.5,513V514M332.5,514V515M333.5,515V516M334.5,515V517M335.5,514V515M336.5,513V514M337.5,512V513M338.5,511V512M339.5,510V511M340.5,511V512M341.5,511V512M342.5,512V513M343.5,511V512M344.5,510V511M345.5,509V510M346.5,508V509M347.5,508V509M348.5,508V509M349.5,508V509M350.5,508V509M351.5,509V510M352.5,510V511M353.5,510V511M354.5,511V512M355.5,512V513M356.5,513V514M357.5,513V515M358.5,512V513M359.5,511V512M360.5,512V514M361.5,514V515M362.5,515V516M363.5,514V515M364.5,512V514M365.5,511V512M366.5,510V511M367.5,509V510M368.5,508V509M369.5,507V509M370.5,509V510M371.5,507V509M372.5,505V507M373.5,503V505M374.5,502V504M375.5,504V507M376.5,507V510M377.5,510V512M378.5,510V511M379.5,509V510M380.5,509V510M381.5,510V511M382.5,511V512M383.5,512V513M384.5,510V512M385.5,509V510M386.5,508V509M387.5,508V509M388.5,508V510M389.5,510V513M390.5,513V515M391.5,512V514M392.5,510V512M393.5,510V511M394.5,511V512M395.5,512V513M396.5,512V513M397.5,511V512M398.5,510V511M399.5,508V510M400.5,505V508M401.5,502V505M402.5,500V502M403.5,500V501M404.5,499V501M405.5,501V504M406.5,504V507M407.5,507V509M408.5,508V509M409.5,507V508M410.5,508V510M411.5,510V511M412.5,508V510M413.5,507V508M414.5,506V508M415.5,508V510M416.5,510V511M417.5,511V513M418.5,513V514M419.5,514V515M420.5,514V515M421.5,512V514M422.5,511V512M423.5,510V511M424.5,510V511M425.5,510V512M426.5,508V510M427.5,509V510M428.5,510V511M429.5,511V512M430.5,511V512M431.5,510V511M432.5,510V511M433.5,509V511M434.5,508V509M435.5,509V511M436.5,511V513M437.5,513V515M438.5,515V519M439.5,519V522M440.5,522V524M441.5,524V527M442.5,527V529M443.5,526V528M444.5,523V526M445.5,521V523M446.5,519V521M447.5,518V519M448.5,517V518M449.5,516V517M450.5,515V516M451.5,514V515M452.5,514V515M453.5,513V514M454.5,513V514M455.5,514V515M456.5,514V515M457.5,514V515M458.5,513V514M459.5,514V515M460.5,515V516M461.5,514V515M462.5,514V515M463.5,513V514M464.5,512V513M465.5,513V514M466.5,514V515M467.5,514V515M468.5,515V516M469.5,516V517M470.5,517V518M471.5,518V520M472.5,520V521M473.5,518V520M474.5,517V518M475.5,516V517M476.5,517V518M477.5,517V518M478.5,517V518M479.5,516V517M480.5,515V516M481.5,514V515M482.5,514V515M483.5,513V514M484.5,513V514M485.5,513V514M486.5,512V513M487.5,511V512M488.5,510V511M489.5,510V511M490.5,510V511M491.5,510V511M492.5,509V510M493.5,508V509M494.5,507V508M495.5,506V507M496.5,505V506M497.5,504V505M498.5,505V506M499.5,506V507M500.5,505V506M501.5,505V506M502.5,506V507M503.5,507V508M504.5,508V510M505.5,510V512M506.5,512V514M507.5,514V517M508.5,516V518M509.5,515V516M510.5,513V515M511.5,512V513M512.5,512V513M513.5,511V513M514.5,513V514M515.5,514V516M516.5,515V517M517.5,514V515M518.5,512V514M519.5,511V512M520.5,509V511M521.5,508V509M522.5,509V510M523.5,510V511M524.5,511V512M525.5,511V512M526.5,510V511M527.5,510V511M528.5,510V511M529.5,510V511M530.5,511V512M531.5,511V512M532.5,510V511M533.5,510V511M534.5,510V512M535.5,512V514M536.5,514V515M537.5,514V515M538.5,514V515M539.5,514V515M540.5,513V515M541.5,512V513M542.5,511V512M543.5,510V511M544.5,509V510M545.5,507V509M546.5,506V508M547.5,508V509M548.5,509V511M549.5,511V512M550.5,511V512M551.5,511V512M552.5,510V512M553.5,508V510M554.5,506V508M555.5,508V511M556.5,511V513M557.5,512V513M558.5,511V512M559.5,510V511M560.5,510V511M561.5,510V511M562.5,509V511M563.5,505V509M564.5,502V505M565.5,504V508M566.5,508V511M567.5,509V510M568.5,508V510M569.5,510V512M570.5,512V514M571.5,514V515M572.5,514V515M573.5,513V515M574.5,511V513M575.5,510V511M576.5,511V512M577.5,512V513M578.5,512V513M579.5,511V512M580.5,511V512M581.5,510V511M582.5,509V510M583.5,507V509M584.5,506V507M585.5,507V508M586.5,507V508M587.5,508V509M588.5,508V509M589.5,508V509M590.5,508V509M591.5,509V510M592.5,510V511M593.5,510V511M594.5,509V510M595.5,509V510M596.5,508V509M597.5,508V509M598.5,507V508M599.5,506V507M600.5,506V507M601.5,507V509M602.5,509V511M603.5,510V511M604.5,510V511M605.5,510V511M606.5,509V510M607.5,508V509M608.5,507V510M609.5,510V514M610.5,514V518M611.5,518V522M612.5,522V525M613.5,525V527M614.5,527V529M615.5,529V531M616.5,531V533M617.5,533V534M618.5,533V535M619.5,531V533M620.5,530V531M621.5,528V530M622.5,527V529M623.5,529V532M624.5,532V534M625.5,534V537M626.5,536V539M627.5,530V536M628.5,526V530M629.5,526V527M630.5,526V528M631.5,523V526M632.5,521V523M633.5,520V521M634.5,519V520M635.5,518V519M636.5,518V519M637.5,518V519M638.5,519V521M639.5,521V522M640.5,522V523M641.5,521V522M642.5,520V521M643.5,520V521M644.5,519V520M645.5,519V520M646.5,518V519M647.5,518V519M648.5,519V520M649.5,519V520M650.5,520V521M651.5,519V520M652.5,519V520M653.5,519V520M654.5,519V520M655.5,518V519M656.5,518V519M657.5,517V518M658.5,516V518M659.5,518V520M660.5,520V521M661.5,519V521M662.5,518V519M663.5,518V520M664.5,520V521M665.5,518V520M666.5,517V518M667.5,515V517M668.5,514V515M669.5,515V516M670.5,516V517M671.5,516V517M672.5,515V516M673.5,515V516M674.5,514V515M675.5,513V514M676.5,512V513M677.5,511V512M678.5,510V511M679.5,510V511M680.5,509V510M681.5,509V510M682.5,509V510M683.5,510V511M684.5,511V512M685.5,510V511M686.5,509V510M687.5,508V509M688.5,509V510M689.5,509V510M690.5,507V509M691.5,506V507M692.5,505V506M693.5,504V505M694.5,504V505M695.5,505V506M696.5,504V505M697.5,504V505M698.5,504V505M699.5,504V505M700.5,504V507M701.5,507V512M702.5,512V516M703.5,514V515M704.5,513V514M705.5,513V514M706.5,512V514M707.5,514V515M708.5,515V516M709.5,515V516M710.5,514V515M711.5,515V516M712.5,516V517M713.5,516V517M714.5,516V517M715.5,515V516M716.5,514V515M717.5,515V516M718.5,515V516M719.5,515V516M720.5,516V517M721.5,517V518M722.5,518V519M723.5,518V519M724.5,519V520M725.5,520V522M726.5,522V524M727.5,524V525M728.5,524V525M729.5,524V526M730.5,523V524M731.5,522V523M732.5,521V524M733.5,524V527M734.5,527V529M735.5,525V527M736.5,522V525M737.5,520V522M738.5,518V520M739.5,516V518M740.5,514V516M741.5,515V516M742.5,515V518M743.5,518V521M744.5,521V523M745.5,523V524M746.5,524V525M747.5,522V524M748.5,520V522M749.5,519V520M750.5,518V519M751.5,517V518M752.5,516V517M753.5,516V517M754.5,515V516M755.5,516V518M756.5,518V519M757.5,518V519M758.5,519V520M759.5,519V520M760.5,518V519M761.5,518V519M762.5,517V518M763.5,516V517M764.5,516V517M765.5,515V516M766.5,515V516M767.5,515V516M768.5,515V516M769.5,514V515M770.5,513V514M771.5,512V513M772.5,512V513M773.5,512V513M774.5,512V514M775.5,514V515M776.5,515V517M777.5,517V519M778.5,519V520M779.5,520V522M780.5,522V523M781.5,523V525M782.5,525V526M783.5,523V525M784.5,521V523M785.5,522V523M786.5,523V524M787.5,522V523M788.5,521V522M789.5,520V521M790.5,521V522M791.5,522V523M792.5,521V522M793.5,520V521M794.5,520V521M795.5,521V522M796.5,519V521M797.5,518V519M798.5,516V518M799.5,515V516M800.5,513V515M801.5,512V513M802.5,511V512M803.5,510V511M804.5,509V510M805.5,508V509M806.5,508V510M807.5,510V512M808.5,512V514M809.5,514V516M810.5,516V517M811.5,515V516M812.5,514V515M813.5,514V515M814.5,514V515M815.5,514V516M816.5,513V514M817.5,511V513M818.5,510V511M819.5,510V511M820.5,510V511M821.5,510V511M822.5,510V511M823.5,511V512M824.5,511V513M825.5,510V511M826.5,508V510M827.5,506V508M828.5,505V506M829.5,506V507M830.5,507V509M831.5,509V510M832.5,509V510M833.5,509V510M834.5,508V509M835.5,508V509M836.5,508V509M837.5,508V509M838.5,508V512M839.5,512V518M840.5,518V521M841.5,520V521M842.5,519V520M843.5,518V519M844.5,519V520M845.5,519V520M846.5,519V521M847.5,518V519M848.5,517V518M849.5,518V519M850.5,519V520M851.5,520V522M852.5,522V523M853.5,521V522M854.5,520V521M855.5,518V520M856.5,517V518M857.5,515V517M858.5,514V515M859.5,514V515M860.5,513V515M861.5,509V513M862.5,507V509M863.5,509V512M864.5,512V516M865.5,516V522M866.5,522V527M867.5,527V532M868.5,532V535M869.5,532V534M870.5,530V532M871.5,531V532M872.5,531V532M873.5,532V533M874.5,532V533M875.5,533V534M876.5,534V535M877.5,535V536M878.5,536V537M879.5,537V538M880.5,538V539M881.5,538V539M882.5,538V539M883.5,536V538M884.5,535V536M885.5,535V536M886.5,534V535M887.5,532V534M888.5,529V532M889.5,526V529M890.5,524V526M891.5,525V526M892.5,526V527M893.5,527V528M894.5,528V529M895.5,527V528M896.5,526V527M897.5,525V526M898.5,525V526M899.5,524V526M900.5,522V524M901.5,519V522M902.5,517V519M903.5,516V517M904.5,515V516M905.5,513V515M906.5,512V513M907.5,513V514M908.5,514V516M909.5,516V517M910.5,516V517M911.5,517V519M912.5,519V520M913.5,520V522M914.5,521V523M915.5,519V521M916.5,517V519M917.5,515V517M918.5,514V515M919.5,515V516M920.5,516V517M921.5,516V517M922.5,516V517M923.5,516V517M924.5,515V517M925.5,513V515M926.5,512V513M927.5,510V512M928.5,509V510M929.5,508V509M930.5,507V508M931.5,506V507M932.5,505V506M933.5,506V507M934.5,506V507M935.5,507V508M936.5,508V510M937.5,510V512M938.5,512V515M939.5,515V516M940.5,514V515M941.5,514V515M942.5,515V516M943.5,516V517M944.5,515V516M945.5,515V516M946.5,514V515M947.5,515V517M948.5,517V518M949.5,518V520M950.5,520V521M951.5,520V521M952.5,520V521M953.5,519V520M954.5,519V521M955.5,521V523M956.5,523V524M957.5,524V525M958.5,524V525M959.5,524V525M960.5,524V525M961.5,525V526M962.5,526V527M963.5,526V527M964.5,525V528M965.5,521V525M966.5,519V521M967.5,518V519M968.5,517V518M969.5,517V518M970.5,518V519M971.5,519V520M972.5,518V519M973.5,518V519M974.5,516V518M975.5,515V516M976.5,513V515M977.5,512V513M978.5,510V512M979.5,509V510M980.5,509V510M981.5,509V510M982.5,510V511M983.5,511V512M984.5,512V514M985.5,514V515M986.5,513V514M987.5,512V513M988.5,512V513M989.5,512V513M990.5,512V513M991.5,512V513M992.5,513V514M993.5,513V514M994.5,514V515M995.5,515V516M996.5,516V518M997.5,517V519M998.5,515V517M999.5,514V515M1000.5,515V516M1001.5,516V517M1002.5,515V516M1003.5,514V515M1004.5,515V516M1005.5,516V518M1006.5,518V519M1007.5,519V520M1008.5,519V520M1009.5,518V520M1010.5,517V518M1011.5,516V517M1012.5,515V516M1013.5,514V515M1014.5,515V516M1015.5,515V517M1016.5,514V515M1017.5,512V514M1018.5,511V512M1019.5,509V511M1020.5,508V510M1021.5,510V512M1022.5,512V515M1023.5,515V519M1024.5,519V521M1025.5,516V519M1026.5,515V516M1027.5,516V518M1028.5,518V519M1029.5,517V518M1030.5,517V518M1031.5,517V518M1032.5,515V517M1033.5,513V515M1034.5,511V513M1035.5,510V511M1036.5,510V511M1037.5,509V510M1038.5,508V509M1039.5,507V508M1040.5,507V508M1041.5,506V507" fill="none" stroke="#1e90ff" stroke-width="1" shape-rendering="crispEdges"/>
<path d="M1319.6 583 L1323.2 579.6 L1323.2 586.4 Z" fill="#9a9a9a"/>
<path d="M1342.4 583 L1338.8 579.6 L1338.8 586.4 Z" fill="#9a9a9a"/>
</svg>
<svg class="abs" style="left:7px;top:36px" width="8" height="5"><path d="M0 5 L4 0.5 L8 5 Z" fill="#000"/></svg>
<div class="t" style="left:19.00px;top:33.52px;font-size:10px;letter-spacing:-0.229px;word-spacing:0.000px;color:#000;font-weight:normal;line-height:12px;">USDCNH,H4</div>
<div class="t" style="left:79.80px;top:33.52px;font-size:10px;letter-spacing:-0.332px;word-spacing:0.000px;color:#000;font-weight:normal;line-height:12px;">6.91953</div>
<div class="t" style="left:116.60px;top:33.52px;font-size:10px;letter-spacing:-0.332px;word-spacing:0.000px;color:#000;font-weight:normal;line-height:12px;">6.92046</div>
<div class="t" style="left:152.80px;top:33.52px;font-size:10px;letter-spacing:-0.332px;word-spacing:0.000px;color:#000;font-weight:normal;line-height:12px;">6.91389</div>
<div class="t" style="left:188.60px;top:33.52px;font-size:10px;letter-spacing:-0.332px;word-spacing:0.000px;color:#000;font-weight:normal;line-height:12px;">6.91669</div>
<div class="t" style="left:7.70px;top:413.51px;font-size:10px;letter-spacing:-0.261px;word-spacing:0.000px;color:#000;font-weight:normal;line-height:12px;">MACD(12,26,9)</div>
<div class="t" style="left:76.40px;top:413.51px;font-size:10px;letter-spacing:-0.376px;word-spacing:0.000px;color:#000;font-weight:normal;line-height:12px;">0.005200</div>
<div class="t" style="left:117.80px;top:413.51px;font-size:10px;letter-spacing:-0.349px;word-spacing:0.000px;color:#000;font-weight:normal;line-height:12px;">0.002474</div>
<div class="t" style="left:7.50px;top:484.51px;font-size:10px;letter-spacing:-0.239px;word-spacing:0.000px;color:#000;font-weight:normal;line-height:12px;">RSI(14)</div>
<div class="t" style="left:42.90px;top:484.51px;font-size:10px;letter-spacing:-0.378px;word-spacing:0.000px;color:#000;font-weight:normal;line-height:12px;">63.1558</div>
<div class="t" style="left:1312.50px;top:36.62px;font-size:10px;letter-spacing:-0.286px;word-spacing:0.000px;color:#000;font-weight:normal;line-height:12px;">6.98355</div>
<div class="t" style="left:1312.50px;top:69.61px;font-size:10px;letter-spacing:-0.286px;word-spacing:0.000px;color:#000;font-weight:normal;line-height:12px;">6.96485</div>
<div class="t" style="left:1312.50px;top:102.61px;font-size:10px;letter-spacing:-0.286px;word-spacing:0.000px;color:#000;font-weight:normal;line-height:12px;">6.94615</div>
<div class="t" style="left:1312.50px;top:135.62px;font-size:10px;letter-spacing:-0.286px;word-spacing:0.000px;color:#000;font-weight:normal;line-height:12px;">6.92745</div>
<div class="t" style="left:1312.50px;top:168.62px;font-size:10px;letter-spacing:-0.286px;word-spacing:0.000px;color:#000;font-weight:normal;line-height:12px;">6.90875</div>
<div class="t" style="left:1312.50px;top:201.62px;font-size:10px;letter-spacing:-0.286px;word-spacing:0.000px;color:#000;font-weight:normal;line-height:12px;">6.89005</div>
<div class="t" style="left:1312.50px;top:234.62px;font-size:10px;letter-spacing:-0.286px;word-spacing:0.000px;color:#000;font-weight:normal;line-height:12px;">6.87135</div>
<div class="t" style="left:1312.50px;top:267.62px;font-size:10px;letter-spacing:-0.286px;word-spacing:0.000px;color:#000;font-weight:normal;line-height:12px;">6.85265</div>
<div class="t" style="left:1312.50px;top:300.62px;font-size:10px;letter-spacing:-0.286px;word-spacing:0.000px;color:#000;font-weight:normal;line-height:12px;">6.83395</div>
<div class="t" style="left:1312.50px;top:334.62px;font-size:10px;letter-spacing:-0.286px;word-spacing:0.000px;color:#000;font-weight:normal;line-height:12px;">6.81525</div>
<div class="t" style="left:1312.50px;top:367.62px;font-size:10px;letter-spacing:-0.286px;word-spacing:0.000px;color:#000;font-weight:normal;line-height:12px;">6.79655</div>
<div class="t" style="left:1312.50px;top:400.62px;font-size:10px;letter-spacing:-0.286px;word-spacing:0.000px;color:#000;font-weight:normal;line-height:12px;">6.77785</div>
<div class="t" style="left:1312.60px;top:154.62px;font-size:10px;letter-spacing:-0.286px;word-spacing:0.000px;color:#fff;font-weight:normal;line-height:12px;">6.91669</div>
<div class="t" style="left:1311.00px;top:411.51px;font-size:10px;letter-spacing:-0.236px;word-spacing:0.000px;color:#000;font-weight:normal;line-height:12px;">0.011968</div>
<div class="t" style="left:1311.00px;top:426.81px;font-size:10px;letter-spacing:-0.248px;word-spacing:0.000px;color:#000;font-weight:normal;line-height:12px;">0.00</div>
<div class="t" style="left:1310.30px;top:466.81px;font-size:10px;letter-spacing:-0.264px;word-spacing:0.000px;color:#000;font-weight:normal;line-height:12px;">-0.027758</div>
<div class="t" style="left:1311.00px;top:482.51px;font-size:10px;letter-spacing:-0.435px;word-spacing:0.000px;color:#000;font-weight:normal;line-height:12px;">100</div>
<div class="t" style="left:1310.50px;top:497.81px;font-size:10px;letter-spacing:-0.417px;word-spacing:0.000px;color:#000;font-weight:normal;line-height:12px;">70</div>
<div class="t" style="left:1310.50px;top:525.51px;font-size:10px;letter-spacing:-0.417px;word-spacing:0.000px;color:#000;font-weight:normal;line-height:12px;">30</div>
<div class="t" style="left:1311.00px;top:539.82px;font-size:10px;letter-spacing:-0.500px;word-spacing:0.000px;color:#000;font-weight:normal;line-height:12px;">0</div>
<div class="t" style="left:3.00px;top:555.91px;font-size:10px;letter-spacing:-0.450px;word-spacing:0.691px;color:#000;font-weight:normal;line-height:12px;">21 Aug 2018</div>
<div class="t" style="left:67.00px;top:555.91px;font-size:10px;letter-spacing:-0.450px;word-spacing:0.925px;color:#000;font-weight:normal;line-height:12px;">29 Aug 00:00</div>
<div class="t" style="left:131.00px;top:555.91px;font-size:10px;letter-spacing:-0.450px;word-spacing:0.581px;color:#000;font-weight:normal;line-height:12px;">5 Sep 08:00</div>
<div class="t" style="left:195.00px;top:555.91px;font-size:10px;letter-spacing:-0.450px;word-spacing:0.325px;color:#000;font-weight:normal;line-height:12px;">12 Sep 20:00</div>
<div class="t" style="left:259.00px;top:555.91px;font-size:10px;letter-spacing:-0.450px;word-spacing:-0.025px;color:#000;font-weight:normal;line-height:12px;">20 Sep 12:00</div>
<div class="t" style="left:323.00px;top:555.91px;font-size:10px;letter-spacing:-0.450px;word-spacing:0.675px;color:#000;font-weight:normal;line-height:12px;">28 Sep 00:00</div>
<div class="t" style="left:387.00px;top:555.91px;font-size:10px;letter-spacing:-0.450px;word-spacing:1.348px;color:#000;font-weight:normal;line-height:12px;">5 Oct 12:00</div>
<div class="t" style="left:451.00px;top:555.91px;font-size:10px;letter-spacing:-0.450px;word-spacing:0.942px;color:#000;font-weight:normal;line-height:12px;">12 Oct 20:00</div>
<div class="t" style="left:515.00px;top:555.91px;font-size:10px;letter-spacing:-0.450px;word-spacing:1.292px;color:#000;font-weight:normal;line-height:12px;">22 Oct 08:00</div>
<div class="t" style="left:579.00px;top:555.91px;font-size:10px;letter-spacing:-0.450px;word-spacing:0.992px;color:#000;font-weight:normal;line-height:12px;">29 Oct 20:00</div>
<div class="t" style="left:643.00px;top:555.91px;font-size:10px;letter-spacing:-0.450px;word-spacing:1.581px;color:#000;font-weight:normal;line-height:12px;">6 Nov 08:00</div>
<div class="t" style="left:707.00px;top:555.91px;font-size:10px;letter-spacing:-0.450px;word-spacing:1.175px;color:#000;font-weight:normal;line-height:12px;">13 Nov 20:00</div>
<div class="t" style="left:771.00px;top:555.91px;font-size:10px;letter-spacing:-0.450px;word-spacing:1.525px;color:#000;font-weight:normal;line-height:12px;">21 Nov 04:00</div>
<div class="t" style="left:835.00px;top:555.91px;font-size:10px;letter-spacing:-0.450px;word-spacing:1.525px;color:#000;font-weight:normal;line-height:12px;">28 Nov 16:00</div>
<div class="t" style="left:899.00px;top:555.91px;font-size:10px;letter-spacing:-0.450px;word-spacing:0.731px;color:#000;font-weight:normal;line-height:12px;">6 Dec 04:00</div>
<div class="t" style="left:963.00px;top:555.91px;font-size:10px;letter-spacing:-0.450px;word-spacing:0.375px;color:#000;font-weight:normal;line-height:12px;">13 Dec 12:00</div>
<div class="t" style="left:1027.00px;top:555.91px;font-size:10px;letter-spacing:-0.450px;word-spacing:0.475px;color:#000;font-weight:normal;line-height:12px;">21 Dec 00:00</div>
<svg class="abs" style="left:0;top:405px" width="1349" height="80" viewBox="0 405 1349 80">
<path d="M4.5,453V454M5.5,453V454M6.5,453V454M7.5,454V455M8.5,454V455M9.5,454V455M10.5,454V455M11.5,453V454M12.5,453V454M13.5,453V454M14.5,453V454M15.5,452V453M16.5,451V452M17.5,450V451M18.5,450V451M19.5,449V450M20.5,448V449M21.5,447V448M22.5,445V447M23.5,444V445M24.5,443V444M25.5,442V443M26.5,441V442M27.5,439V441M28.5,437V439M29.5,436V437M30.5,435V436M31.5,433V435M32.5,432V433M33.5,430V432M34.5,429V430M35.5,428V429M36.5,427V428M37.5,426V427M38.5,426V427M39.5,426V427M40.5,425V426M41.5,425V426M42.5,426V427M43.5,427V428M44.5,428V429M45.5,429V431M46.5,431V433M47.5,433V435M48.5,435V437M49.5,437V439M50.5,439V441M51.5,441V443M52.5,443V444M53.5,444V446M54.5,446V448M55.5,448V450M56.5,450V451M57.5,451V452M58.5,452V453M59.5,453V454M60.5,454V455M61.5,455V456M62.5,456V457M63.5,456V457M64.5,456V457M65.5,457V458M66.5,457V458M67.5,457V458M68.5,457V458M69.5,458V459M70.5,457V458M71.5,457V458M72.5,456V457M73.5,456V457M74.5,455V456M75.5,454V455M76.5,453V454M77.5,452V453M78.5,452V453M79.5,451V452M80.5,449V451M81.5,448V449M82.5,447V448M83.5,445V447M84.5,443V445M85.5,442V443M86.5,440V442M87.5,439V440M88.5,437V439M89.5,435V437M90.5,434V435M91.5,432V434M92.5,431V432M93.5,430V431M94.5,429V430M95.5,427V429M96.5,426V427M97.5,425V426M98.5,424V425M99.5,423V424M100.5,422V423M101.5,421V422M102.5,420V421M103.5,420V421M104.5,420V421M105.5,420V421M106.5,419V420M107.5,419V420M108.5,419V420M109.5,419V420M110.5,419V420M111.5,420V421M112.5,420V421M113.5,421V422M114.5,421V422M115.5,421V422M116.5,422V423M117.5,422V423M118.5,423V424M119.5,423V424M120.5,424V425M121.5,424V425M122.5,425V426M123.5,425V426M124.5,425V426M125.5,426V427M126.5,426V427M127.5,426V427M128.5,426V427M129.5,425V426M130.5,425V426M131.5,425V426M132.5,425V426M133.5,425V426M134.5,424V425M135.5,424V425M136.5,424V425M137.5,424V425M138.5,424V425M139.5,424V425M140.5,424V425M141.5,424V425M142.5,424V425M143.5,424V425M144.5,424V425M145.5,424V425M146.5,424V425M147.5,424V425M148.5,425V426M149.5,425V426M150.5,426V427M151.5,426V427M152.5,427V428M153.5,427V428M154.5,428V429M155.5,428V429M156.5,428V429M157.5,428V429M158.5,429V430M159.5,428V429M160.5,428V429M161.5,428V429M162.5,428V429M163.5,428V429M164.5,427V428M165.5,426V427M166.5,426V427M167.5,426V427M168.5,425V426M169.5,424V425M170.5,424V425M171.5,424V425M172.5,423V424M173.5,423V424M174.5,422V423M175.5,422V423M176.5,421V422M177.5,421V422M178.5,420V421M179.5,420V421M180.5,419V420M181.5,419V420M182.5,419V420M183.5,419V420M184.5,419V420M185.5,419V420M186.5,419V420M187.5,419V420M188.5,419V420M189.5,419V420M190.5,419V420M191.5,419V420M192.5,418V419M193.5,418V419M194.5,418V419M195.5,418V419M196.5,419V420M197.5,419V420M198.5,420V421M199.5,421V422M200.5,421V422M201.5,422V423M202.5,423V424M203.5,424V425M204.5,425V426M205.5,426V428M206.5,428V429M207.5,429V430M208.5,430V431M209.5,431V432M210.5,432V433M211.5,433V434M212.5,434V435M213.5,435V436M214.5,436V437M215.5,437V438M216.5,437V438M217.5,438V439M218.5,439V440M219.5,438V439M220.5,438V439M221.5,437V438M222.5,437V438M223.5,436V437M224.5,436V437M225.5,436V437M226.5,435V436M227.5,434V435M228.5,434V435M229.5,434V435M230.5,433V434M231.5,432V433M232.5,431V432M233.5,430V431M234.5,429V430M235.5,428V429M236.5,427V428M237.5,426V427M238.5,426V427M239.5,426V427M240.5,425V426M241.5,425V426M242.5,425V426M243.5,425V426M244.5,425V426M245.5,425V426M246.5,425V426M247.5,425V426M248.5,425V426M249.5,425V426M250.5,426V427M251.5,426V427M252.5,427V428M253.5,427V428M254.5,428V429M255.5,428V429M256.5,429V430M257.5,430V431M258.5,430V431M259.5,430V431M260.5,431V432M261.5,432V433M262.5,432V433M263.5,432V433M264.5,433V434M265.5,433V434M266.5,434V435M267.5,434V435M268.5,435V436M269.5,435V436M270.5,435V436M271.5,436V437M272.5,437V438M273.5,437V438M274.5,438V439M275.5,439V440M276.5,439V440M277.5,440V441M278.5,441V442M279.5,440V441M280.5,440V441M281.5,440V441M282.5,440V441M283.5,440V441M284.5,439V440M285.5,438V439M286.5,438V439M287.5,437V438M288.5,436V437M289.5,435V436M290.5,434V435M291.5,433V434M292.5,433V434M293.5,432V433M294.5,431V432M295.5,430V431M296.5,430V431M297.5,429V430M298.5,428V429M299.5,427V428M300.5,427V428M301.5,426V427M302.5,426V427M303.5,426V427M304.5,425V426M305.5,425V426M306.5,425V426M307.5,424V425M308.5,424V425M309.5,424V425M310.5,423V424M311.5,423V424M312.5,423V424M313.5,423V424M314.5,423V424M315.5,422V423M316.5,422V423M317.5,422V423M318.5,422V423M319.5,422V423M320.5,421V422M321.5,421V422M322.5,421V422M323.5,421V422M324.5,421V422M325.5,421V422M326.5,421V422M327.5,421V422M328.5,421V422M329.5,421V422M330.5,421V422M331.5,421V422M332.5,421V422M333.5,421V422M334.5,421V422M335.5,421V422M336.5,421V422M337.5,422V423M338.5,422V423M339.5,422V423M340.5,422V423M341.5,423V424M342.5,423V424M343.5,423V424M344.5,423V424M345.5,423V424M346.5,423V424M347.5,423V424M348.5,423V424M349.5,423V424M350.5,423V424M351.5,423V424M352.5,423V424M353.5,423V424M354.5,423V424M355.5,423V424M356.5,423V424M357.5,423V424M358.5,423V424M359.5,424V425M360.5,424V425M361.5,424V425M362.5,424V425M363.5,424V425M364.5,424V425M365.5,425V426M366.5,425V426M367.5,425V426M368.5,425V426M369.5,425V426M370.5,426V427M371.5,425V426M372.5,425V426M373.5,425V426M374.5,425V426M375.5,425V426M376.5,424V425M377.5,424V425M378.5,424V425M379.5,424V425M380.5,424V425M381.5,424V425M382.5,423V424M383.5,423V424M384.5,423V424M385.5,423V424M386.5,423V424M387.5,423V424M388.5,423V424M389.5,423V424M390.5,423V424M391.5,423V424M392.5,423V424M393.5,423V424M394.5,423V424M395.5,423V424M396.5,422V423M397.5,422V423M398.5,422V423M399.5,422V423M400.5,422V423M401.5,422V423M402.5,422V423M403.5,422V423M404.5,422V423M405.5,421V422M406.5,421V422M407.5,420V421M408.5,420V421M409.5,419V420M410.5,419V420M411.5,418V419M412.5,418V419M413.5,418V419M414.5,417V418M415.5,416V417M416.5,416V417M417.5,416V417M418.5,415V416M419.5,415V416M420.5,415V416M421.5,415V416M422.5,415V416M423.5,415V416M424.5,416V417M425.5,416V417M426.5,416V417M427.5,416V417M428.5,417V418M429.5,417V418M430.5,417V418M431.5,417V418M432.5,417V418M433.5,417V418M434.5,417V418M435.5,417V418M436.5,417V418M437.5,418V419M438.5,418V419M439.5,418V419M440.5,419V420M441.5,420V421M442.5,420V421M443.5,421V422M444.5,422V423M445.5,423V424M446.5,424V425M447.5,425V426M448.5,426V427M449.5,427V428M450.5,428V429M451.5,429V430M452.5,430V431M453.5,431V432M454.5,432V433M455.5,433V434M456.5,433V434M457.5,433V434M458.5,433V434M459.5,433V434M460.5,433V434M461.5,433V434M462.5,432V433M463.5,432V433M464.5,431V432M465.5,431V432M466.5,430V431M467.5,430V431M468.5,429V430M469.5,429V430M470.5,429V430M471.5,429V430M472.5,429V430M473.5,429V430M474.5,429V430M475.5,429V430M476.5,429V430M477.5,429V430M478.5,429V430M479.5,429V430M480.5,429V430M481.5,429V430M482.5,429V430M483.5,429V430M484.5,429V430M485.5,429V430M486.5,429V430M487.5,429V430M488.5,429V430M489.5,428V429M490.5,428V429M491.5,428V429M492.5,428V429M493.5,428V429M494.5,427V428M495.5,426V427M496.5,426V427M497.5,426V427M498.5,425V426M499.5,424V425M500.5,424V425M501.5,423V424M502.5,423V424M503.5,422V423M504.5,421V422M505.5,421V422M506.5,420V421M507.5,420V421M508.5,420V421M509.5,420V421M510.5,420V421M511.5,420V421M512.5,419V420M513.5,420V421M514.5,420V421M515.5,420V421M516.5,420V421M517.5,420V421M518.5,421V422M519.5,421V422M520.5,421V422M521.5,422V423M522.5,422V423M523.5,422V423M524.5,423V424M525.5,423V424M526.5,423V424M527.5,423V424M528.5,423V424M529.5,423V424M530.5,423V424M531.5,423V424M532.5,423V424M533.5,423V424M534.5,423V424M535.5,423V424M536.5,423V424M537.5,423V424M538.5,423V424M539.5,423V424M540.5,423V424M541.5,423V424M542.5,423V424M543.5,423V424M544.5,423V424M545.5,423V424M546.5,423V424M547.5,424V425M548.5,424V425M549.5,424V425M550.5,424V425M551.5,424V425M552.5,424V425M553.5,424V425M554.5,424V425M555.5,424V425M556.5,424V425M557.5,424V425M558.5,424V425M559.5,424V425M560.5,424V425M561.5,424V425M562.5,423V424M563.5,423V424M564.5,423V424M565.5,423V424M566.5,423V424M567.5,423V424M568.5,423V424M569.5,423V424M570.5,423V424M571.5,423V424M572.5,423V424M573.5,423V424M574.5,423V424M575.5,422V423M576.5,422V423M577.5,422V423M578.5,422V423M579.5,422V423M580.5,422V423M581.5,422V423M582.5,422V423M583.5,422V423M584.5,422V423M585.5,422V423M586.5,422V423M587.5,421V422M588.5,421V422M589.5,421V422M590.5,421V422M591.5,421V422M592.5,420V421M593.5,420V421M594.5,420V421M595.5,420V421M596.5,420V421M597.5,420V421M598.5,420V421M599.5,420V421M600.5,420V421M601.5,419V420M602.5,419V420M603.5,420V421M604.5,420V421M605.5,420V421M606.5,420V421M607.5,420V421M608.5,420V421M609.5,420V421M610.5,420V421M611.5,421V422M612.5,421V422M613.5,422V423M614.5,422V423M615.5,423V424M616.5,424V425M617.5,425V426M618.5,426V427M619.5,427V428M620.5,428V430M621.5,430V432M622.5,432V434M623.5,434V436M624.5,436V438M625.5,438V440M626.5,440V442M627.5,442V444M628.5,444V446M629.5,446V448M630.5,448V449M631.5,449V451M632.5,451V452M633.5,452V454M634.5,454V455M635.5,455V456M636.5,456V457M637.5,457V458M638.5,457V458M639.5,458V459M640.5,458V459M641.5,458V459M642.5,458V459M643.5,458V459M644.5,457V458M645.5,456V457M646.5,455V456M647.5,454V455M648.5,453V454M649.5,452V453M650.5,451V452M651.5,450V451M652.5,449V450M653.5,448V449M654.5,447V448M655.5,446V447M656.5,446V447M657.5,445V446M658.5,444V445M659.5,444V445M660.5,443V444M661.5,442V443M662.5,442V443M663.5,442V443M664.5,441V442M665.5,440V441M666.5,440V441M667.5,440V441M668.5,439V440M669.5,439V440M670.5,439V440M671.5,438V439M672.5,438V439M673.5,438V439M674.5,437V438M675.5,437V438M676.5,436V437M677.5,436V437M678.5,435V436M679.5,435V436M680.5,434V435M681.5,433V434M682.5,432V433M683.5,431V432M684.5,431V432M685.5,430V431M686.5,429V430M687.5,428V429M688.5,428V429M689.5,427V428M690.5,426V427M691.5,426V427M692.5,425V426M693.5,424V425M694.5,424V425M695.5,423V424M696.5,422V423M697.5,422V423M698.5,421V422M699.5,420V421M700.5,419V420M701.5,419V420M702.5,419V420M703.5,418V419M704.5,418V419M705.5,417V418M706.5,417V418M707.5,417V418M708.5,417V418M709.5,417V418M710.5,417V418M711.5,417V418M712.5,418V419M713.5,418V419M714.5,419V420M715.5,419V420M716.5,420V421M717.5,420V421M718.5,421V422M719.5,421V422M720.5,422V423M721.5,422V423M722.5,423V424M723.5,424V425M724.5,424V425M725.5,424V425M726.5,425V426M727.5,426V427M728.5,426V427M729.5,427V428M730.5,428V429M731.5,428V429M732.5,429V430M733.5,430V431M734.5,430V431M735.5,431V432M736.5,432V433M737.5,432V433M738.5,433V434M739.5,433V434M740.5,434V435M741.5,434V435M742.5,435V436M743.5,435V436M744.5,436V437M745.5,436V437M746.5,436V437M747.5,436V437M748.5,437V438M749.5,437V438M750.5,437V438M751.5,437V438M752.5,437V438M753.5,437V438M754.5,437V438M755.5,437V438M756.5,436V437M757.5,436V437M758.5,436V437M759.5,436V437M760.5,436V437M761.5,436V437M762.5,436V437M763.5,436V437M764.5,435V436M765.5,435V436M766.5,434V435M767.5,434V435M768.5,434V435M769.5,433V434M770.5,433V434M771.5,433V434M772.5,432V433M773.5,432V433M774.5,432V433M775.5,431V432M776.5,431V432M777.5,431V432M778.5,431V432M779.5,431V432M780.5,431V432M781.5,430V431M782.5,430V431M783.5,431V432M784.5,431V432M785.5,431V432M786.5,431V432M787.5,432V433M788.5,432V433M789.5,432V433M790.5,433V434M791.5,433V434M792.5,433V434M793.5,434V435M794.5,434V435M795.5,434V435M796.5,434V435M797.5,435V436M798.5,435V436M799.5,435V436M800.5,435V436M801.5,435V436M802.5,435V436M803.5,434V435M804.5,434V435M805.5,433V434M806.5,433V434M807.5,433V434M808.5,432V433M809.5,432V433M810.5,432V433M811.5,432V433M812.5,431V432M813.5,431V432M814.5,430V431M815.5,430V431M816.5,430V431M817.5,429V430M818.5,429V430M819.5,429V430M820.5,429V430M821.5,428V429M822.5,428V429M823.5,428V429M824.5,428V429M825.5,428V429M826.5,427V428M827.5,427V428M828.5,427V428M829.5,427V428M830.5,426V427M831.5,426V427M832.5,426V427M833.5,426V427M834.5,425V426M835.5,425V426M836.5,425V426M837.5,425V426M838.5,425V426M839.5,425V426M840.5,425V426M841.5,424V425M842.5,424V425M843.5,424V425M844.5,424V425M845.5,424V425M846.5,424V425M847.5,425V426M848.5,425V426M849.5,426V427M850.5,426V427M851.5,427V428M852.5,427V428M853.5,428V429M854.5,428V429M855.5,428V429M856.5,429V430M857.5,430V431M858.5,430V431M859.5,430V431M860.5,430V431M861.5,430V431M862.5,431V432M863.5,431V432M864.5,431V432M865.5,431V432M866.5,431V432M867.5,431V432M868.5,432V433M869.5,433V434M870.5,434V435M871.5,435V436M872.5,436V437M873.5,437V438M874.5,438V440M875.5,440V442M876.5,442V443M877.5,443V445M878.5,445V447M879.5,447V449M880.5,449V451M881.5,451V453M882.5,453V456M883.5,456V458M884.5,458V460M885.5,460V462M886.5,462V463M887.5,463V465M888.5,465V466M889.5,466V467M890.5,467V468M891.5,468V469M892.5,469V470M893.5,469V470M894.5,470V471M895.5,470V471M896.5,471V472M897.5,470V471M898.5,470V471M899.5,469V470M900.5,469V470M901.5,468V469M902.5,466V468M903.5,465V466M904.5,464V465M905.5,462V464M906.5,461V462M907.5,459V461M908.5,458V459M909.5,456V458M910.5,455V456M911.5,453V455M912.5,451V453M913.5,450V451M914.5,449V450M915.5,447V449M916.5,446V447M917.5,445V446M918.5,444V445M919.5,443V444M920.5,442V443M921.5,441V442M922.5,440V441M923.5,439V440M924.5,439V440M925.5,438V439M926.5,438V439M927.5,437V438M928.5,436V437M929.5,436V437M930.5,435V436M931.5,434V435M932.5,433V434M933.5,431V433M934.5,430V431M935.5,429V430M936.5,428V429M937.5,427V428M938.5,426V427M939.5,425V426M940.5,424V425M941.5,423V424M942.5,423V424M943.5,423V424M944.5,422V423M945.5,422V423M946.5,421V422M947.5,422V423M948.5,422V423M949.5,422V423M950.5,422V423M951.5,422V423M952.5,423V424M953.5,424V425M954.5,424V425M955.5,424V425M956.5,425V426M957.5,426V427M958.5,427V428M959.5,428V429M960.5,428V429M961.5,429V430M962.5,430V431M963.5,431V432M964.5,432V433M965.5,433V434M966.5,434V435M967.5,434V435M968.5,435V436M969.5,436V437M970.5,437V438M971.5,437V438M972.5,438V439M973.5,438V439M974.5,438V439M975.5,438V439M976.5,438V439M977.5,438V439M978.5,438V439M979.5,437V438M980.5,437V438M981.5,436V437M982.5,435V436M983.5,435V436M984.5,434V435M985.5,433V434M986.5,432V433M987.5,431V432M988.5,431V432M989.5,430V431M990.5,429V430M991.5,428V429M992.5,428V429M993.5,428V429M994.5,427V428M995.5,427V428M996.5,427V428M997.5,427V428M998.5,426V427M999.5,426V427M1000.5,426V427M1001.5,426V427M1002.5,426V427M1003.5,426V427M1004.5,427V428M1005.5,427V428M1006.5,427V428M1007.5,428V429M1008.5,428V429M1009.5,428V429M1010.5,429V430M1011.5,429V430M1012.5,429V430M1013.5,429V430M1014.5,429V430M1015.5,429V430M1016.5,429V430M1017.5,429V430M1018.5,429V430M1019.5,429V430M1020.5,428V429M1021.5,428V429M1022.5,428V429M1023.5,428V429M1024.5,428V429M1025.5,428V429M1026.5,428V429M1027.5,428V429M1028.5,428V429M1029.5,428V429M1030.5,428V429M1031.5,428V429M1032.5,428V429M1033.5,428V429M1034.5,428V429M1035.5,428V429M1036.5,427V428M1037.5,427V428M1038.5,427V428M1039.5,427V428M1040.5,427V428M1041.5,427V428M1042.5,427V428" fill="none" stroke="#ff0000" stroke-width="1" shape-rendering="crispEdges"/>
</svg>
<svg class="abs" style="left:0;top:44px" width="240" height="76" viewBox="0 44 240 76" shape-rendering="crispEdges">
<defs><linearGradient id="bg" gradientUnits="userSpaceOnUse" x1="0" y1="50" x2="0" y2="114"><stop offset="0" stop-color="#5a5afc"/><stop offset="0.36" stop-color="#3a3ae4"/><stop offset="0.40" stop-color="#3030dc"/><stop offset="0.7" stop-color="#1010bc"/><stop offset="1" stop-color="#00009c"/></linearGradient>
<linearGradient id="bt" x1="0" y1="0" x2="0" y2="1"><stop offset="0" stop-color="#f4f4f4"/><stop offset="0.36" stop-color="#e9e9e9"/><stop offset="0.40" stop-color="#dcdcdc"/><stop offset="1" stop-color="#d0d0d0"/></linearGradient></defs>
<path d="M7 50 H59 V74 H116 V114 H7 Z" fill="url(#bg)"/>
<path d="M174 50 H226 V114 H118 V74 H174 Z" fill="url(#bg)"/>
<rect x="7" y="50" width="52" height="1" fill="#0000c0"/>
<rect x="7" y="50" width="1" height="64" fill="#0000c0"/>
<rect x="58" y="50" width="1" height="24" fill="#0000c0"/>
<rect x="58" y="74" width="58" height="1" fill="#0000c0"/>
<rect x="174" y="50" width="52" height="1" fill="#0000c0"/>
<rect x="174" y="50" width="1" height="24" fill="#0000c0"/>
<rect x="118" y="74" width="57" height="1" fill="#0000c0"/>
<rect x="225" y="50" width="1" height="64" fill="#0000c0"/>
<rect x="115" y="74" width="1" height="40" fill="#0000c0"/>
<rect x="118" y="74" width="1" height="40" fill="#0000c0"/>
<rect x="11" y="73" width="44" height="1" fill="#0000b0"/><rect x="11" y="74" width="44" height="1" fill="#7474f4"/>
<rect x="178" y="73" width="44" height="1" fill="#0000b0"/><rect x="178" y="74" width="44" height="1" fill="#7474f4"/>
<rect x="61" y="50" width="111" height="22" fill="#fff"/>
<rect x="61" y="50" width="111" height="1" fill="#a9adb5"/>
<rect x="61" y="71" width="111" height="1" fill="#a9adb5"/>
<rect x="61" y="50" width="1" height="22" fill="#a9adb5"/>
<rect x="171" y="50" width="1" height="22" fill="#a9adb5"/>
<rect x="82" y="50" width="1" height="22" fill="#a9adb5"/>
<rect x="150" y="50" width="1" height="22" fill="#a9adb5"/>
<rect x="63" y="52" width="18" height="18" fill="url(#bt)"/><rect x="152" y="52" width="18" height="18" fill="url(#bt)"/>
<path d="M69 59 H74.4 L71.7 62.3 Z" fill="#4a62c0" shape-rendering="auto"/>
<path d="M158 62 H163.4 L160.7 58.7 Z" fill="#4a62c0" shape-rendering="auto"/>
<text x="53.6" y="105" font-family='"Liberation Sans", sans-serif' font-size="35.5" letter-spacing="-1.2" fill="#fff" stroke="url(#bg)" stroke-width="1.1" shape-rendering="auto" text-rendering="geometricPrecision">66</text>
<text x="163.9" y="105" font-family='"Liberation Sans", sans-serif' font-size="35.5" letter-spacing="-1.2" fill="#fff" stroke="url(#bg)" stroke-width="1.1" shape-rendering="auto" text-rendering="geometricPrecision">90</text>
</svg>
<div class="t" style="left:18.84px;top:54.74px;font-size:12px;letter-spacing:-0.686px;word-spacing:0.000px;color:#fff;font-weight:normal;line-height:14px;">SELL</div>
<div class="t" style="left:186.84px;top:54.74px;font-size:12px;letter-spacing:0.029px;word-spacing:0.000px;color:#fff;font-weight:normal;line-height:14px;">BUY</div>
<div class="t" style="left:122.52px;top:53.64px;font-size:12.6px;letter-spacing:0.178px;word-spacing:0.000px;color:#000;font-weight:normal;line-height:15px;">0.50</div>
<div class="t" style="left:26.55px;top:94.83px;font-size:11.5px;letter-spacing:0.744px;word-spacing:0.000px;color:#fff;font-weight:bold;line-height:14px;">6.91</div>
<div class="t" style="left:93.22px;top:78.54px;font-size:12.5px;letter-spacing:0.000px;word-spacing:0.000px;color:#fff;font-weight:bold;line-height:14px;">9</div>
<div class="t" style="left:136.56px;top:94.83px;font-size:11.5px;letter-spacing:0.744px;word-spacing:0.000px;color:#fff;font-weight:bold;line-height:14px;">6.91</div>
<div class="t" style="left:204.93px;top:78.54px;font-size:12.5px;letter-spacing:0.000px;word-spacing:0.000px;color:#fff;font-weight:bold;line-height:14px;">7</div>
<div class="abs" style="left:0;top:575px;width:1px;height:18px;background:#696969"></div>
<div class="abs" style="left:1px;top:575px;width:1px;height:18px;background:#fff"></div>
<div class="abs" style="left:393px;top:574px;width:90px;height:18px;background:#fff;border:1px solid #000;border-top:none"></div>
<div class="t" style="left:16.61px;top:577.15px;font-size:13px;letter-spacing:-0.604px;word-spacing:0.000px;color:#666;font-weight:normal;line-height:15px;">EURUSD,H4</div>
<div class="t" style="left:107.61px;top:577.15px;font-size:13px;letter-spacing:-0.297px;word-spacing:0.000px;color:#666;font-weight:normal;line-height:15px;">AUDUSD,Daily</div>
<div class="t" style="left:210.91px;top:577.15px;font-size:13px;letter-spacing:-0.539px;word-spacing:0.000px;color:#666;font-weight:normal;line-height:15px;">USDCHF,H4</div>
<div class="t" style="left:299.91px;top:577.15px;font-size:13px;letter-spacing:-0.436px;word-spacing:0.000px;color:#666;font-weight:normal;line-height:15px;">USDCAD,Daily</div>
<div class="t" style="left:495.61px;top:577.15px;font-size:13px;letter-spacing:-0.445px;word-spacing:0.000px;color:#666;font-weight:normal;line-height:15px;">USDJPY,M15</div>
<div class="t" style="left:591.61px;top:577.15px;font-size:13px;letter-spacing:-0.439px;word-spacing:0.000px;color:#666;font-weight:normal;line-height:15px;">XAUUSD,H1</div>
<div class="t" style="left:683.91px;top:577.15px;font-size:13px;letter-spacing:-0.441px;word-spacing:0.000px;color:#666;font-weight:normal;line-height:15px;">GBPUSD,Weekly</div>
<div class="t" style="left:799.91px;top:577.15px;font-size:13px;letter-spacing:-0.570px;word-spacing:0.000px;color:#666;font-weight:normal;line-height:15px;">SP500,H1</div>
<div class="t" style="left:403.31px;top:577.15px;font-size:13px;letter-spacing:-0.442px;word-spacing:0.000px;color:#000;font-weight:normal;line-height:15px;">USDCNH,H4</div>
<div class="abs" style="left:97px;top:578px;width:1px;height:13px;background:#808080"></div>
<div class="abs" style="left:201px;top:578px;width:1px;height:13px;background:#808080"></div>
<div class="abs" style="left:289px;top:578px;width:1px;height:13px;background:#808080"></div>
<div class="abs" style="left:581px;top:578px;width:1px;height:13px;background:#808080"></div>
<div class="abs" style="left:672px;top:578px;width:1px;height:13px;background:#808080"></div>
<div class="abs" style="left:789px;top:578px;width:1px;height:13px;background:#808080"></div>
<div class="abs" style="left:865px;top:578px;width:1px;height:13px;background:#808080"></div>
</body></html>
